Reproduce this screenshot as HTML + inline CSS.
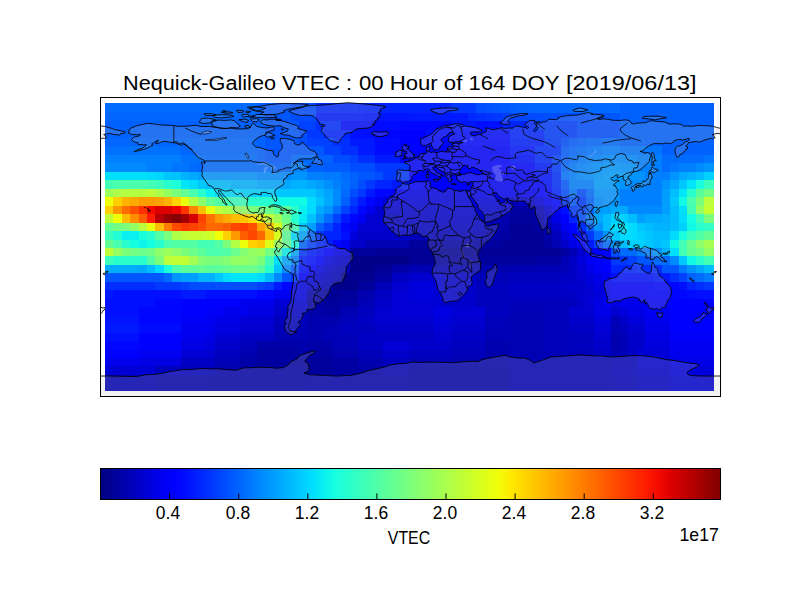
<!DOCTYPE html>
<html><head><meta charset="utf-8"><style>
html,body{margin:0;padding:0;background:#fff;width:800px;height:600px;overflow:hidden;}
body{position:relative;font-family:"Liberation Sans",sans-serif;color:#000;}
svg{position:absolute;left:0;top:0;}
.t{position:absolute;white-space:nowrap;line-height:1;}
.ti{position:absolute;top:72.5px;font-size:20px;line-height:1;white-space:pre;transform-origin:0 0;}
.tl{position:absolute;top:504.5px;font-size:17.65px;line-height:1;white-space:nowrap;transform:translateX(-50%) scaleX(0.99);}
#vtec{left:409px;top:528.5px;font-size:18.3px;transform:translateX(-50%) scaleX(0.868);}
#exp{right:81.2px;top:526.7px;font-size:17.7px;}
</style></head><body>
<svg width="800" height="600" viewBox="0 0 800 600">
<defs>
<linearGradient id="jet" x1="0" y1="0" x2="1" y2="0">
<stop offset="0.00" stop-color="#000080"/>
<stop offset="0.02" stop-color="#000097"/>
<stop offset="0.04" stop-color="#0000ae"/>
<stop offset="0.06" stop-color="#0000c5"/>
<stop offset="0.08" stop-color="#0000dc"/>
<stop offset="0.10" stop-color="#0000f3"/>
<stop offset="0.12" stop-color="#0000ff"/>
<stop offset="0.14" stop-color="#000fff"/>
<stop offset="0.16" stop-color="#0024ff"/>
<stop offset="0.18" stop-color="#0038ff"/>
<stop offset="0.20" stop-color="#004dff"/>
<stop offset="0.22" stop-color="#0061ff"/>
<stop offset="0.24" stop-color="#0075ff"/>
<stop offset="0.26" stop-color="#008aff"/>
<stop offset="0.28" stop-color="#009eff"/>
<stop offset="0.30" stop-color="#00b2ff"/>
<stop offset="0.32" stop-color="#00c7ff"/>
<stop offset="0.34" stop-color="#00dbff"/>
<stop offset="0.36" stop-color="#08f0ef"/>
<stop offset="0.38" stop-color="#19ffde"/>
<stop offset="0.40" stop-color="#29ffce"/>
<stop offset="0.42" stop-color="#3affbd"/>
<stop offset="0.44" stop-color="#4affad"/>
<stop offset="0.46" stop-color="#5aff9c"/>
<stop offset="0.48" stop-color="#6bff8c"/>
<stop offset="0.50" stop-color="#7bff7b"/>
<stop offset="0.52" stop-color="#8cff6b"/>
<stop offset="0.54" stop-color="#9cff5a"/>
<stop offset="0.56" stop-color="#adff4a"/>
<stop offset="0.58" stop-color="#bdff3a"/>
<stop offset="0.60" stop-color="#ceff29"/>
<stop offset="0.62" stop-color="#deff19"/>
<stop offset="0.64" stop-color="#efff08"/>
<stop offset="0.66" stop-color="#ffec00"/>
<stop offset="0.68" stop-color="#ffd900"/>
<stop offset="0.70" stop-color="#ffc600"/>
<stop offset="0.72" stop-color="#ffb300"/>
<stop offset="0.74" stop-color="#ffa100"/>
<stop offset="0.76" stop-color="#ff8e00"/>
<stop offset="0.78" stop-color="#ff7b00"/>
<stop offset="0.80" stop-color="#ff6800"/>
<stop offset="0.82" stop-color="#ff5500"/>
<stop offset="0.84" stop-color="#ff4200"/>
<stop offset="0.86" stop-color="#ff2f00"/>
<stop offset="0.88" stop-color="#ff1c00"/>
<stop offset="0.90" stop-color="#f30900"/>
<stop offset="0.92" stop-color="#dc0000"/>
<stop offset="0.94" stop-color="#c50000"/>
<stop offset="0.96" stop-color="#ae0000"/>
<stop offset="0.98" stop-color="#970000"/>
<stop offset="1.00" stop-color="#800000"/>
</linearGradient>
<clipPath id="ax"><rect x="100.5" y="97.5" width="620" height="299"/></clipPath>
</defs>
<g shape-rendering="crispEdges">
<rect x="104.85" y="102.80" width="151.92" height="9.85" fill="#006bff"/>
<rect x="256.77" y="102.80" width="8.44" height="9.85" fill="#0061ff"/>
<rect x="265.21" y="102.80" width="25.32" height="9.85" fill="#0057ff"/>
<rect x="290.53" y="102.80" width="25.32" height="9.85" fill="#004dff"/>
<rect x="315.85" y="102.80" width="42.20" height="9.85" fill="#0029ff"/>
<rect x="358.05" y="102.80" width="92.84" height="9.85" fill="#0024ff"/>
<rect x="450.89" y="102.80" width="25.32" height="9.85" fill="#0038ff"/>
<rect x="476.21" y="102.80" width="8.44" height="9.85" fill="#004dff"/>
<rect x="484.65" y="102.80" width="8.44" height="9.85" fill="#0051ff"/>
<rect x="493.09" y="102.80" width="8.44" height="9.85" fill="#0055ff"/>
<rect x="501.53" y="102.80" width="8.44" height="9.85" fill="#0059ff"/>
<rect x="509.97" y="102.80" width="8.44" height="9.85" fill="#005dff"/>
<rect x="518.41" y="102.80" width="8.44" height="9.85" fill="#0061ff"/>
<rect x="526.85" y="102.80" width="8.44" height="9.85" fill="#0063ff"/>
<rect x="535.29" y="102.80" width="8.44" height="9.85" fill="#0064ff"/>
<rect x="543.73" y="102.80" width="16.88" height="9.85" fill="#0065ff"/>
<rect x="560.61" y="102.80" width="8.44" height="9.85" fill="#0066ff"/>
<rect x="569.05" y="102.80" width="8.44" height="9.85" fill="#0067ff"/>
<rect x="577.49" y="102.80" width="8.44" height="9.85" fill="#0068ff"/>
<rect x="585.93" y="102.80" width="16.88" height="9.85" fill="#0069ff"/>
<rect x="602.81" y="102.80" width="8.44" height="9.85" fill="#006aff"/>
<rect x="611.25" y="102.80" width="8.44" height="9.85" fill="#006bff"/>
<rect x="619.69" y="102.80" width="94.38" height="9.85" fill="#0061ff"/>
<rect x="104.85" y="112.65" width="151.92" height="8.46" fill="#0066ff"/>
<rect x="256.77" y="112.65" width="8.44" height="8.46" fill="#0061ff"/>
<rect x="265.21" y="112.65" width="25.32" height="8.46" fill="#0057ff"/>
<rect x="290.53" y="112.65" width="25.32" height="8.46" fill="#004dff"/>
<rect x="315.85" y="112.65" width="50.64" height="8.46" fill="#0019ff"/>
<rect x="366.49" y="112.65" width="42.20" height="8.46" fill="#0014ff"/>
<rect x="408.69" y="112.65" width="59.08" height="8.46" fill="#0019ff"/>
<rect x="467.77" y="112.65" width="8.44" height="8.46" fill="#0029ff"/>
<rect x="476.21" y="112.65" width="8.44" height="8.46" fill="#002eff"/>
<rect x="484.65" y="112.65" width="8.44" height="8.46" fill="#0033ff"/>
<rect x="493.09" y="112.65" width="8.44" height="8.46" fill="#0038ff"/>
<rect x="501.53" y="112.65" width="8.44" height="8.46" fill="#003dff"/>
<rect x="509.97" y="112.65" width="8.44" height="8.46" fill="#0042ff"/>
<rect x="518.41" y="112.65" width="8.44" height="8.46" fill="#0047ff"/>
<rect x="526.85" y="112.65" width="8.44" height="8.46" fill="#0049ff"/>
<rect x="535.29" y="112.65" width="8.44" height="8.46" fill="#004bff"/>
<rect x="543.73" y="112.65" width="8.44" height="8.46" fill="#004cff"/>
<rect x="552.17" y="112.65" width="8.44" height="8.46" fill="#004dff"/>
<rect x="560.61" y="112.65" width="8.44" height="8.46" fill="#004fff"/>
<rect x="569.05" y="112.65" width="8.44" height="8.46" fill="#0050ff"/>
<rect x="577.49" y="112.65" width="8.44" height="8.46" fill="#0051ff"/>
<rect x="585.93" y="112.65" width="8.44" height="8.46" fill="#0053ff"/>
<rect x="594.37" y="112.65" width="8.44" height="8.46" fill="#0054ff"/>
<rect x="602.81" y="112.65" width="8.44" height="8.46" fill="#0055ff"/>
<rect x="611.25" y="112.65" width="8.44" height="8.46" fill="#0057ff"/>
<rect x="619.69" y="112.65" width="94.38" height="8.46" fill="#0061ff"/>
<rect x="104.85" y="121.11" width="160.36" height="8.46" fill="#0061ff"/>
<rect x="265.21" y="121.11" width="33.76" height="8.46" fill="#0057ff"/>
<rect x="298.97" y="121.11" width="16.88" height="8.46" fill="#0042ff"/>
<rect x="315.85" y="121.11" width="25.32" height="8.46" fill="#002eff"/>
<rect x="341.17" y="121.11" width="59.08" height="8.46" fill="#000aff"/>
<rect x="400.25" y="121.11" width="50.64" height="8.46" fill="#0005ff"/>
<rect x="450.89" y="121.11" width="25.32" height="8.46" fill="#0014ff"/>
<rect x="476.21" y="121.11" width="25.32" height="8.46" fill="#000fff"/>
<rect x="501.53" y="121.11" width="33.76" height="8.46" fill="#0024ff"/>
<rect x="535.29" y="121.11" width="42.20" height="8.46" fill="#003dff"/>
<rect x="577.49" y="121.11" width="42.20" height="8.46" fill="#004dff"/>
<rect x="619.69" y="121.11" width="94.38" height="8.46" fill="#0061ff"/>
<rect x="104.85" y="129.57" width="160.36" height="8.46" fill="#0061ff"/>
<rect x="265.21" y="129.57" width="33.76" height="8.46" fill="#0057ff"/>
<rect x="298.97" y="129.57" width="8.44" height="8.46" fill="#004dff"/>
<rect x="307.41" y="129.57" width="16.88" height="8.46" fill="#0038ff"/>
<rect x="324.29" y="129.57" width="25.32" height="8.46" fill="#0024ff"/>
<rect x="349.61" y="129.57" width="25.32" height="8.46" fill="#000fff"/>
<rect x="374.93" y="129.57" width="25.32" height="8.46" fill="#0005ff"/>
<rect x="400.25" y="129.57" width="25.32" height="8.46" fill="#0000ff"/>
<rect x="425.57" y="129.57" width="84.40" height="8.46" fill="#000aff"/>
<rect x="509.97" y="129.57" width="33.76" height="8.46" fill="#0024ff"/>
<rect x="543.73" y="129.57" width="33.76" height="8.46" fill="#003dff"/>
<rect x="577.49" y="129.57" width="42.20" height="8.46" fill="#004dff"/>
<rect x="619.69" y="129.57" width="94.38" height="8.46" fill="#0061ff"/>
<rect x="104.85" y="138.03" width="151.92" height="8.46" fill="#0066ff"/>
<rect x="256.77" y="138.03" width="8.44" height="8.46" fill="#0061ff"/>
<rect x="265.21" y="138.03" width="33.76" height="8.46" fill="#0057ff"/>
<rect x="298.97" y="138.03" width="8.44" height="8.46" fill="#004dff"/>
<rect x="307.41" y="138.03" width="25.32" height="8.46" fill="#0042ff"/>
<rect x="332.73" y="138.03" width="16.88" height="8.46" fill="#002eff"/>
<rect x="349.61" y="138.03" width="25.32" height="8.46" fill="#0019ff"/>
<rect x="374.93" y="138.03" width="25.32" height="8.46" fill="#000aff"/>
<rect x="400.25" y="138.03" width="25.32" height="8.46" fill="#0000ff"/>
<rect x="425.57" y="138.03" width="84.40" height="8.46" fill="#0005ff"/>
<rect x="509.97" y="138.03" width="33.76" height="8.46" fill="#001fff"/>
<rect x="543.73" y="138.03" width="16.88" height="8.46" fill="#0038ff"/>
<rect x="560.61" y="138.03" width="8.44" height="8.46" fill="#004dff"/>
<rect x="569.05" y="138.03" width="8.44" height="8.46" fill="#005aff"/>
<rect x="577.49" y="138.03" width="8.44" height="8.46" fill="#0060ff"/>
<rect x="585.93" y="138.03" width="16.88" height="8.46" fill="#0066ff"/>
<rect x="602.81" y="138.03" width="16.88" height="8.46" fill="#006dff"/>
<rect x="619.69" y="138.03" width="94.38" height="8.46" fill="#0061ff"/>
<rect x="104.85" y="146.49" width="75.96" height="8.46" fill="#0070ff"/>
<rect x="180.81" y="146.49" width="75.96" height="8.46" fill="#0066ff"/>
<rect x="256.77" y="146.49" width="8.44" height="8.46" fill="#0061ff"/>
<rect x="265.21" y="146.49" width="59.08" height="8.46" fill="#0057ff"/>
<rect x="324.29" y="146.49" width="16.88" height="8.46" fill="#0042ff"/>
<rect x="341.17" y="146.49" width="16.88" height="8.46" fill="#002eff"/>
<rect x="358.05" y="146.49" width="16.88" height="8.46" fill="#0019ff"/>
<rect x="374.93" y="146.49" width="25.32" height="8.46" fill="#000aff"/>
<rect x="400.25" y="146.49" width="109.72" height="8.46" fill="#0000ff"/>
<rect x="509.97" y="146.49" width="25.32" height="8.46" fill="#0014ff"/>
<rect x="535.29" y="146.49" width="25.32" height="8.46" fill="#002eff"/>
<rect x="560.61" y="146.49" width="8.44" height="8.46" fill="#005aff"/>
<rect x="569.05" y="146.49" width="8.44" height="8.46" fill="#0066ff"/>
<rect x="577.49" y="146.49" width="8.44" height="8.46" fill="#006dff"/>
<rect x="585.93" y="146.49" width="8.44" height="8.46" fill="#0073ff"/>
<rect x="594.37" y="146.49" width="8.44" height="8.46" fill="#0079ff"/>
<rect x="602.81" y="146.49" width="16.88" height="8.46" fill="#0080ff"/>
<rect x="619.69" y="146.49" width="42.20" height="8.46" fill="#0075ff"/>
<rect x="661.89" y="146.49" width="52.18" height="8.46" fill="#0061ff"/>
<rect x="104.85" y="154.95" width="75.96" height="8.46" fill="#0080ff"/>
<rect x="180.81" y="154.95" width="25.32" height="8.46" fill="#0070ff"/>
<rect x="206.13" y="154.95" width="50.64" height="8.46" fill="#006bff"/>
<rect x="256.77" y="154.95" width="8.44" height="8.46" fill="#0061ff"/>
<rect x="265.21" y="154.95" width="25.32" height="8.46" fill="#0057ff"/>
<rect x="290.53" y="154.95" width="25.32" height="8.46" fill="#006bff"/>
<rect x="315.85" y="154.95" width="16.88" height="8.46" fill="#0061ff"/>
<rect x="332.73" y="154.95" width="16.88" height="8.46" fill="#004dff"/>
<rect x="349.61" y="154.95" width="8.44" height="8.46" fill="#0042ff"/>
<rect x="358.05" y="154.95" width="16.88" height="8.46" fill="#002eff"/>
<rect x="374.93" y="154.95" width="25.32" height="8.46" fill="#0019ff"/>
<rect x="400.25" y="154.95" width="109.72" height="8.46" fill="#0000ff"/>
<rect x="509.97" y="154.95" width="25.32" height="8.46" fill="#000fff"/>
<rect x="535.29" y="154.95" width="16.88" height="8.46" fill="#0029ff"/>
<rect x="552.17" y="154.95" width="8.44" height="8.46" fill="#0042ff"/>
<rect x="560.61" y="154.95" width="8.44" height="8.46" fill="#0060ff"/>
<rect x="569.05" y="154.95" width="8.44" height="8.46" fill="#006dff"/>
<rect x="577.49" y="154.95" width="8.44" height="8.46" fill="#0079ff"/>
<rect x="585.93" y="154.95" width="8.44" height="8.46" fill="#0080ff"/>
<rect x="594.37" y="154.95" width="8.44" height="8.46" fill="#0086ff"/>
<rect x="602.81" y="154.95" width="16.88" height="8.46" fill="#008cff"/>
<rect x="619.69" y="154.95" width="16.88" height="8.46" fill="#008aff"/>
<rect x="636.57" y="154.95" width="25.32" height="8.46" fill="#0080ff"/>
<rect x="661.89" y="154.95" width="42.20" height="8.46" fill="#006bff"/>
<rect x="704.09" y="154.95" width="9.98" height="8.46" fill="#0075ff"/>
<rect x="104.85" y="163.41" width="42.20" height="8.46" fill="#008aff"/>
<rect x="147.05" y="163.41" width="25.32" height="8.46" fill="#0080ff"/>
<rect x="172.37" y="163.41" width="16.88" height="8.46" fill="#0075ff"/>
<rect x="189.25" y="163.41" width="8.44" height="8.46" fill="#006bff"/>
<rect x="197.69" y="163.41" width="8.44" height="8.46" fill="#0066ff"/>
<rect x="206.13" y="163.41" width="67.52" height="8.46" fill="#006bff"/>
<rect x="273.65" y="163.41" width="16.88" height="8.46" fill="#0061ff"/>
<rect x="290.53" y="163.41" width="16.88" height="8.46" fill="#0080ff"/>
<rect x="307.41" y="163.41" width="16.88" height="8.46" fill="#0061ff"/>
<rect x="324.29" y="163.41" width="25.32" height="8.46" fill="#005cff"/>
<rect x="349.61" y="163.41" width="25.32" height="8.46" fill="#004dff"/>
<rect x="374.93" y="163.41" width="33.76" height="8.46" fill="#0038ff"/>
<rect x="408.69" y="163.41" width="101.28" height="8.46" fill="#0000ff"/>
<rect x="509.97" y="163.41" width="25.32" height="8.46" fill="#0005ff"/>
<rect x="535.29" y="163.41" width="16.88" height="8.46" fill="#0019ff"/>
<rect x="552.17" y="163.41" width="8.44" height="8.46" fill="#0038ff"/>
<rect x="560.61" y="163.41" width="8.44" height="8.46" fill="#0066ff"/>
<rect x="569.05" y="163.41" width="8.44" height="8.46" fill="#0079ff"/>
<rect x="577.49" y="163.41" width="8.44" height="8.46" fill="#0086ff"/>
<rect x="585.93" y="163.41" width="8.44" height="8.46" fill="#008cff"/>
<rect x="594.37" y="163.41" width="8.44" height="8.46" fill="#0092ff"/>
<rect x="602.81" y="163.41" width="16.88" height="8.46" fill="#0099ff"/>
<rect x="619.69" y="163.41" width="16.88" height="8.46" fill="#0094ff"/>
<rect x="636.57" y="163.41" width="25.32" height="8.46" fill="#0080ff"/>
<rect x="661.89" y="163.41" width="8.44" height="8.46" fill="#006bff"/>
<rect x="670.33" y="163.41" width="8.44" height="8.46" fill="#0075ff"/>
<rect x="678.77" y="163.41" width="16.88" height="8.46" fill="#0080ff"/>
<rect x="695.65" y="163.41" width="8.44" height="8.46" fill="#008aff"/>
<rect x="704.09" y="163.41" width="9.98" height="8.46" fill="#0094ff"/>
<rect x="104.85" y="171.87" width="42.20" height="8.46" fill="#00e0fb"/>
<rect x="147.05" y="171.87" width="8.44" height="8.46" fill="#00dbff"/>
<rect x="155.49" y="171.87" width="8.44" height="8.46" fill="#00d6ff"/>
<rect x="163.93" y="171.87" width="8.44" height="8.46" fill="#00c7ff"/>
<rect x="172.37" y="171.87" width="8.44" height="8.46" fill="#00c2ff"/>
<rect x="180.81" y="171.87" width="8.44" height="8.46" fill="#00b2ff"/>
<rect x="189.25" y="171.87" width="8.44" height="8.46" fill="#00a8ff"/>
<rect x="197.69" y="171.87" width="8.44" height="8.46" fill="#009eff"/>
<rect x="206.13" y="171.87" width="50.64" height="8.46" fill="#0094ff"/>
<rect x="256.77" y="171.87" width="33.76" height="8.46" fill="#008aff"/>
<rect x="290.53" y="171.87" width="16.88" height="8.46" fill="#0094ff"/>
<rect x="307.41" y="171.87" width="16.88" height="8.46" fill="#0080ff"/>
<rect x="324.29" y="171.87" width="16.88" height="8.46" fill="#007aff"/>
<rect x="341.17" y="171.87" width="8.44" height="8.46" fill="#006bff"/>
<rect x="349.61" y="171.87" width="8.44" height="8.46" fill="#0061ff"/>
<rect x="358.05" y="171.87" width="16.88" height="8.46" fill="#0057ff"/>
<rect x="374.93" y="171.87" width="8.44" height="8.46" fill="#004dff"/>
<rect x="383.37" y="171.87" width="25.32" height="8.46" fill="#0038ff"/>
<rect x="408.69" y="171.87" width="126.60" height="8.46" fill="#0000ff"/>
<rect x="535.29" y="171.87" width="16.88" height="8.46" fill="#000fff"/>
<rect x="552.17" y="171.87" width="8.44" height="8.46" fill="#002eff"/>
<rect x="560.61" y="171.87" width="8.44" height="8.46" fill="#0073ff"/>
<rect x="569.05" y="171.87" width="8.44" height="8.46" fill="#0080ff"/>
<rect x="577.49" y="171.87" width="8.44" height="8.46" fill="#008cff"/>
<rect x="585.93" y="171.87" width="8.44" height="8.46" fill="#0092ff"/>
<rect x="594.37" y="171.87" width="8.44" height="8.46" fill="#0099ff"/>
<rect x="602.81" y="171.87" width="16.88" height="8.46" fill="#009fff"/>
<rect x="619.69" y="171.87" width="8.44" height="8.46" fill="#009eff"/>
<rect x="628.13" y="171.87" width="16.88" height="8.46" fill="#0094ff"/>
<rect x="645.01" y="171.87" width="25.32" height="8.46" fill="#0080ff"/>
<rect x="670.33" y="171.87" width="8.44" height="8.46" fill="#0094ff"/>
<rect x="678.77" y="171.87" width="8.44" height="8.46" fill="#00a8ff"/>
<rect x="687.21" y="171.87" width="8.44" height="8.46" fill="#00b2ff"/>
<rect x="695.65" y="171.87" width="8.44" height="8.46" fill="#00bdff"/>
<rect x="704.09" y="171.87" width="9.98" height="8.46" fill="#00d1ff"/>
<rect x="104.85" y="180.33" width="8.44" height="8.46" fill="#42ffb5"/>
<rect x="113.29" y="180.33" width="33.76" height="8.46" fill="#4affad"/>
<rect x="147.05" y="180.33" width="8.44" height="8.46" fill="#42ffb5"/>
<rect x="155.49" y="180.33" width="8.44" height="8.46" fill="#3affbd"/>
<rect x="163.93" y="180.33" width="8.44" height="8.46" fill="#29ffce"/>
<rect x="172.37" y="180.33" width="8.44" height="8.46" fill="#1dffda"/>
<rect x="180.81" y="180.33" width="8.44" height="8.46" fill="#00e5f7"/>
<rect x="189.25" y="180.33" width="8.44" height="8.46" fill="#00dbff"/>
<rect x="197.69" y="180.33" width="8.44" height="8.46" fill="#00c7ff"/>
<rect x="206.13" y="180.33" width="25.32" height="8.46" fill="#00bdff"/>
<rect x="231.45" y="180.33" width="25.32" height="8.46" fill="#00b2ff"/>
<rect x="256.77" y="180.33" width="33.76" height="8.46" fill="#00a8ff"/>
<rect x="290.53" y="180.33" width="16.88" height="8.46" fill="#00b2ff"/>
<rect x="307.41" y="180.33" width="8.44" height="8.46" fill="#00a8ff"/>
<rect x="315.85" y="180.33" width="8.44" height="8.46" fill="#009eff"/>
<rect x="324.29" y="180.33" width="8.44" height="8.46" fill="#008fff"/>
<rect x="332.73" y="180.33" width="8.44" height="8.46" fill="#0080ff"/>
<rect x="341.17" y="180.33" width="8.44" height="8.46" fill="#0070ff"/>
<rect x="349.61" y="180.33" width="8.44" height="8.46" fill="#0061ff"/>
<rect x="358.05" y="180.33" width="8.44" height="8.46" fill="#004dff"/>
<rect x="366.49" y="180.33" width="8.44" height="8.46" fill="#0038ff"/>
<rect x="374.93" y="180.33" width="16.88" height="8.46" fill="#0024ff"/>
<rect x="391.81" y="180.33" width="16.88" height="8.46" fill="#0019ff"/>
<rect x="408.69" y="180.33" width="67.52" height="8.46" fill="#0000ff"/>
<rect x="476.21" y="180.33" width="33.76" height="8.46" fill="#0000f9"/>
<rect x="509.97" y="180.33" width="33.76" height="8.46" fill="#0000ff"/>
<rect x="543.73" y="180.33" width="8.44" height="8.46" fill="#000fff"/>
<rect x="552.17" y="180.33" width="8.44" height="8.46" fill="#002eff"/>
<rect x="560.61" y="180.33" width="8.44" height="8.46" fill="#0057ff"/>
<rect x="569.05" y="180.33" width="25.32" height="8.46" fill="#0080ff"/>
<rect x="594.37" y="180.33" width="25.32" height="8.46" fill="#009eff"/>
<rect x="619.69" y="180.33" width="8.44" height="8.46" fill="#0094ff"/>
<rect x="628.13" y="180.33" width="16.88" height="8.46" fill="#008aff"/>
<rect x="645.01" y="180.33" width="16.88" height="8.46" fill="#0080ff"/>
<rect x="661.89" y="180.33" width="8.44" height="8.46" fill="#0094ff"/>
<rect x="670.33" y="180.33" width="8.44" height="8.46" fill="#00a8ff"/>
<rect x="678.77" y="180.33" width="8.44" height="8.46" fill="#00c7ff"/>
<rect x="687.21" y="180.33" width="8.44" height="8.46" fill="#00e5f7"/>
<rect x="695.65" y="180.33" width="8.44" height="8.46" fill="#19ffde"/>
<rect x="704.09" y="180.33" width="9.98" height="8.46" fill="#3affbd"/>
<rect x="104.85" y="188.79" width="8.44" height="8.46" fill="#9cff5a"/>
<rect x="113.29" y="188.79" width="8.44" height="8.46" fill="#adff4a"/>
<rect x="121.73" y="188.79" width="25.32" height="8.46" fill="#b5ff42"/>
<rect x="147.05" y="188.79" width="8.44" height="8.46" fill="#bdff3a"/>
<rect x="155.49" y="188.79" width="8.44" height="8.46" fill="#adff4a"/>
<rect x="163.93" y="188.79" width="8.44" height="8.46" fill="#94ff63"/>
<rect x="172.37" y="188.79" width="8.44" height="8.46" fill="#7bff7b"/>
<rect x="180.81" y="188.79" width="8.44" height="8.46" fill="#63ff94"/>
<rect x="189.25" y="188.79" width="8.44" height="8.46" fill="#4affad"/>
<rect x="197.69" y="188.79" width="8.44" height="8.46" fill="#29ffce"/>
<rect x="206.13" y="188.79" width="8.44" height="8.46" fill="#08f0ef"/>
<rect x="214.57" y="188.79" width="25.32" height="8.46" fill="#00dbff"/>
<rect x="239.89" y="188.79" width="33.76" height="8.46" fill="#00d1ff"/>
<rect x="273.65" y="188.79" width="42.20" height="8.46" fill="#00c7ff"/>
<rect x="315.85" y="188.79" width="8.44" height="8.46" fill="#00b2ff"/>
<rect x="324.29" y="188.79" width="8.44" height="8.46" fill="#00a3ff"/>
<rect x="332.73" y="188.79" width="8.44" height="8.46" fill="#008aff"/>
<rect x="341.17" y="188.79" width="8.44" height="8.46" fill="#006bff"/>
<rect x="349.61" y="188.79" width="8.44" height="8.46" fill="#004dff"/>
<rect x="358.05" y="188.79" width="8.44" height="8.46" fill="#0038ff"/>
<rect x="366.49" y="188.79" width="8.44" height="8.46" fill="#0019ff"/>
<rect x="374.93" y="188.79" width="16.88" height="8.46" fill="#0005ff"/>
<rect x="391.81" y="188.79" width="16.88" height="8.46" fill="#0000f3"/>
<rect x="408.69" y="188.79" width="67.52" height="8.46" fill="#0000e8"/>
<rect x="476.21" y="188.79" width="59.08" height="8.46" fill="#0000f3"/>
<rect x="535.29" y="188.79" width="8.44" height="8.46" fill="#0000ff"/>
<rect x="543.73" y="188.79" width="8.44" height="8.46" fill="#0005ff"/>
<rect x="552.17" y="188.79" width="8.44" height="8.46" fill="#0024ff"/>
<rect x="560.61" y="188.79" width="8.44" height="8.46" fill="#004dff"/>
<rect x="569.05" y="188.79" width="8.44" height="8.46" fill="#0075ff"/>
<rect x="577.49" y="188.79" width="8.44" height="8.46" fill="#004dff"/>
<rect x="585.93" y="188.79" width="8.44" height="8.46" fill="#006bff"/>
<rect x="594.37" y="188.79" width="25.32" height="8.46" fill="#0094ff"/>
<rect x="619.69" y="188.79" width="42.20" height="8.46" fill="#0080ff"/>
<rect x="661.89" y="188.79" width="8.44" height="8.46" fill="#009eff"/>
<rect x="670.33" y="188.79" width="8.44" height="8.46" fill="#00bdff"/>
<rect x="678.77" y="188.79" width="8.44" height="8.46" fill="#00e5f7"/>
<rect x="687.21" y="188.79" width="8.44" height="8.46" fill="#29ffce"/>
<rect x="695.65" y="188.79" width="8.44" height="8.46" fill="#5aff9c"/>
<rect x="704.09" y="188.79" width="9.98" height="8.46" fill="#73ff84"/>
<rect x="104.85" y="197.25" width="8.44" height="8.46" fill="#efff08"/>
<rect x="113.29" y="197.25" width="8.44" height="8.46" fill="#ffd000"/>
<rect x="121.73" y="197.25" width="8.44" height="8.46" fill="#ffb300"/>
<rect x="130.17" y="197.25" width="8.44" height="8.46" fill="#ffaa00"/>
<rect x="138.61" y="197.25" width="16.88" height="8.46" fill="#ff9c00"/>
<rect x="155.49" y="197.25" width="8.44" height="8.46" fill="#ffa100"/>
<rect x="163.93" y="197.25" width="8.44" height="8.46" fill="#ffb300"/>
<rect x="172.37" y="197.25" width="8.44" height="8.46" fill="#ffd400"/>
<rect x="180.81" y="197.25" width="8.44" height="8.46" fill="#eaff0c"/>
<rect x="189.25" y="197.25" width="8.44" height="8.46" fill="#b5ff42"/>
<rect x="197.69" y="197.25" width="8.44" height="8.46" fill="#8cff6b"/>
<rect x="206.13" y="197.25" width="8.44" height="8.46" fill="#63ff94"/>
<rect x="214.57" y="197.25" width="8.44" height="8.46" fill="#52ffa5"/>
<rect x="223.01" y="197.25" width="8.44" height="8.46" fill="#42ffb5"/>
<rect x="231.45" y="197.25" width="16.88" height="8.46" fill="#3affbd"/>
<rect x="248.33" y="197.25" width="25.32" height="8.46" fill="#29ffce"/>
<rect x="273.65" y="197.25" width="33.76" height="8.46" fill="#10fae6"/>
<rect x="307.41" y="197.25" width="8.44" height="8.46" fill="#00dbff"/>
<rect x="315.85" y="197.25" width="8.44" height="8.46" fill="#00c2ff"/>
<rect x="324.29" y="197.25" width="8.44" height="8.46" fill="#00a8ff"/>
<rect x="332.73" y="197.25" width="8.44" height="8.46" fill="#008aff"/>
<rect x="341.17" y="197.25" width="8.44" height="8.46" fill="#0061ff"/>
<rect x="349.61" y="197.25" width="8.44" height="8.46" fill="#0038ff"/>
<rect x="358.05" y="197.25" width="8.44" height="8.46" fill="#0019ff"/>
<rect x="366.49" y="197.25" width="8.44" height="8.46" fill="#0005ff"/>
<rect x="374.93" y="197.25" width="8.44" height="8.46" fill="#0000f3"/>
<rect x="383.37" y="197.25" width="126.60" height="8.46" fill="#0000dc"/>
<rect x="509.97" y="197.25" width="8.44" height="8.46" fill="#0000b9"/>
<rect x="518.41" y="197.25" width="16.88" height="8.46" fill="#0000c5"/>
<rect x="535.29" y="197.25" width="8.44" height="8.46" fill="#0000dc"/>
<rect x="543.73" y="197.25" width="8.44" height="8.46" fill="#0000f3"/>
<rect x="552.17" y="197.25" width="8.44" height="8.46" fill="#0005ff"/>
<rect x="560.61" y="197.25" width="8.44" height="8.46" fill="#002eff"/>
<rect x="569.05" y="197.25" width="8.44" height="8.46" fill="#0057ff"/>
<rect x="577.49" y="197.25" width="8.44" height="8.46" fill="#0038ff"/>
<rect x="585.93" y="197.25" width="8.44" height="8.46" fill="#0061ff"/>
<rect x="594.37" y="197.25" width="8.44" height="8.46" fill="#008aff"/>
<rect x="602.81" y="197.25" width="16.88" height="8.46" fill="#0094ff"/>
<rect x="619.69" y="197.25" width="42.20" height="8.46" fill="#0080ff"/>
<rect x="661.89" y="197.25" width="8.44" height="8.46" fill="#009eff"/>
<rect x="670.33" y="197.25" width="8.44" height="8.46" fill="#00c7ff"/>
<rect x="678.77" y="197.25" width="8.44" height="8.46" fill="#10fae6"/>
<rect x="687.21" y="197.25" width="8.44" height="8.46" fill="#4affad"/>
<rect x="695.65" y="197.25" width="8.44" height="8.46" fill="#7bff7b"/>
<rect x="704.09" y="197.25" width="9.98" height="8.46" fill="#bdff3a"/>
<rect x="104.85" y="205.71" width="8.44" height="8.46" fill="#ffd000"/>
<rect x="113.29" y="205.71" width="8.44" height="8.46" fill="#ff9700"/>
<rect x="121.73" y="205.71" width="8.44" height="8.46" fill="#ff6d00"/>
<rect x="130.17" y="205.71" width="8.44" height="8.46" fill="#ff5000"/>
<rect x="138.61" y="205.71" width="8.44" height="8.46" fill="#ff2f00"/>
<rect x="147.05" y="205.71" width="8.44" height="8.46" fill="#f30900"/>
<rect x="155.49" y="205.71" width="16.88" height="8.46" fill="#dc0000"/>
<rect x="172.37" y="205.71" width="8.44" height="8.46" fill="#ee0500"/>
<rect x="180.81" y="205.71" width="8.44" height="8.46" fill="#ff3400"/>
<rect x="189.25" y="205.71" width="8.44" height="8.46" fill="#ff8400"/>
<rect x="197.69" y="205.71" width="8.44" height="8.46" fill="#ffbd00"/>
<rect x="206.13" y="205.71" width="8.44" height="8.46" fill="#eaff0c"/>
<rect x="214.57" y="205.71" width="8.44" height="8.46" fill="#bdff3a"/>
<rect x="223.01" y="205.71" width="8.44" height="8.46" fill="#adff4a"/>
<rect x="231.45" y="205.71" width="8.44" height="8.46" fill="#9cff5a"/>
<rect x="239.89" y="205.71" width="8.44" height="8.46" fill="#94ff63"/>
<rect x="248.33" y="205.71" width="8.44" height="8.46" fill="#7bff7b"/>
<rect x="256.77" y="205.71" width="8.44" height="8.46" fill="#73ff84"/>
<rect x="265.21" y="205.71" width="8.44" height="8.46" fill="#6bff8c"/>
<rect x="273.65" y="205.71" width="8.44" height="8.46" fill="#52ffa5"/>
<rect x="282.09" y="205.71" width="8.44" height="8.46" fill="#5aff9c"/>
<rect x="290.53" y="205.71" width="8.44" height="8.46" fill="#29ffce"/>
<rect x="298.97" y="205.71" width="8.44" height="8.46" fill="#08f0ef"/>
<rect x="307.41" y="205.71" width="8.44" height="8.46" fill="#00dbff"/>
<rect x="315.85" y="205.71" width="8.44" height="8.46" fill="#00a8ff"/>
<rect x="324.29" y="205.71" width="8.44" height="8.46" fill="#0094ff"/>
<rect x="332.73" y="205.71" width="8.44" height="8.46" fill="#006bff"/>
<rect x="341.17" y="205.71" width="8.44" height="8.46" fill="#0042ff"/>
<rect x="349.61" y="205.71" width="8.44" height="8.46" fill="#0024ff"/>
<rect x="358.05" y="205.71" width="8.44" height="8.46" fill="#0005ff"/>
<rect x="366.49" y="205.71" width="8.44" height="8.46" fill="#0000ee"/>
<rect x="374.93" y="205.71" width="135.04" height="8.46" fill="#0000d1"/>
<rect x="509.97" y="205.71" width="25.32" height="8.46" fill="#0000a2"/>
<rect x="535.29" y="205.71" width="8.44" height="8.46" fill="#0000b9"/>
<rect x="543.73" y="205.71" width="8.44" height="8.46" fill="#0000d1"/>
<rect x="552.17" y="205.71" width="8.44" height="8.46" fill="#0000f3"/>
<rect x="560.61" y="205.71" width="8.44" height="8.46" fill="#000fff"/>
<rect x="569.05" y="205.71" width="8.44" height="8.46" fill="#0038ff"/>
<rect x="577.49" y="205.71" width="8.44" height="8.46" fill="#0042ff"/>
<rect x="585.93" y="205.71" width="8.44" height="8.46" fill="#0061ff"/>
<rect x="594.37" y="205.71" width="16.88" height="8.46" fill="#009eff"/>
<rect x="611.25" y="205.71" width="16.88" height="8.46" fill="#00a8ff"/>
<rect x="628.13" y="205.71" width="33.76" height="8.46" fill="#008aff"/>
<rect x="661.89" y="205.71" width="8.44" height="8.46" fill="#009eff"/>
<rect x="670.33" y="205.71" width="8.44" height="8.46" fill="#00bdff"/>
<rect x="678.77" y="205.71" width="8.44" height="8.46" fill="#00e0fb"/>
<rect x="687.21" y="205.71" width="8.44" height="8.46" fill="#42ffb5"/>
<rect x="695.65" y="205.71" width="8.44" height="8.46" fill="#94ff63"/>
<rect x="704.09" y="205.71" width="9.98" height="8.46" fill="#c5ff31"/>
<rect x="104.85" y="214.17" width="8.44" height="8.46" fill="#bdff3a"/>
<rect x="113.29" y="214.17" width="8.44" height="8.46" fill="#efff08"/>
<rect x="121.73" y="214.17" width="8.44" height="8.46" fill="#ffbd00"/>
<rect x="130.17" y="214.17" width="8.44" height="8.46" fill="#ff8e00"/>
<rect x="138.61" y="214.17" width="8.44" height="8.46" fill="#ff5e00"/>
<rect x="147.05" y="214.17" width="8.44" height="8.46" fill="#ff1c00"/>
<rect x="155.49" y="214.17" width="8.44" height="8.46" fill="#b90000"/>
<rect x="163.93" y="214.17" width="8.44" height="8.46" fill="#970000"/>
<rect x="172.37" y="214.17" width="8.44" height="8.46" fill="#850000"/>
<rect x="180.81" y="214.17" width="8.44" height="8.46" fill="#a20000"/>
<rect x="189.25" y="214.17" width="8.44" height="8.46" fill="#d60000"/>
<rect x="197.69" y="214.17" width="8.44" height="8.46" fill="#ff4200"/>
<rect x="206.13" y="214.17" width="8.44" height="8.46" fill="#ff7100"/>
<rect x="214.57" y="214.17" width="8.44" height="8.46" fill="#ff9700"/>
<rect x="223.01" y="214.17" width="8.44" height="8.46" fill="#ffaa00"/>
<rect x="231.45" y="214.17" width="8.44" height="8.46" fill="#ffbd00"/>
<rect x="239.89" y="214.17" width="8.44" height="8.46" fill="#ffc600"/>
<rect x="248.33" y="214.17" width="8.44" height="8.46" fill="#ffd900"/>
<rect x="256.77" y="214.17" width="8.44" height="8.46" fill="#efff08"/>
<rect x="265.21" y="214.17" width="8.44" height="8.46" fill="#bdff3a"/>
<rect x="273.65" y="214.17" width="8.44" height="8.46" fill="#9cff5a"/>
<rect x="282.09" y="214.17" width="8.44" height="8.46" fill="#6bff8c"/>
<rect x="290.53" y="214.17" width="8.44" height="8.46" fill="#29ffce"/>
<rect x="298.97" y="214.17" width="8.44" height="8.46" fill="#04ebf3"/>
<rect x="307.41" y="214.17" width="8.44" height="8.46" fill="#00c2ff"/>
<rect x="315.85" y="214.17" width="8.44" height="8.46" fill="#0094ff"/>
<rect x="324.29" y="214.17" width="8.44" height="8.46" fill="#006bff"/>
<rect x="332.73" y="214.17" width="8.44" height="8.46" fill="#0042ff"/>
<rect x="341.17" y="214.17" width="8.44" height="8.46" fill="#0019ff"/>
<rect x="349.61" y="214.17" width="8.44" height="8.46" fill="#0005ff"/>
<rect x="358.05" y="214.17" width="8.44" height="8.46" fill="#0000f3"/>
<rect x="366.49" y="214.17" width="16.88" height="8.46" fill="#0000d1"/>
<rect x="383.37" y="214.17" width="16.88" height="8.46" fill="#0000bf"/>
<rect x="400.25" y="214.17" width="84.40" height="8.46" fill="#0000cb"/>
<rect x="484.65" y="214.17" width="8.44" height="8.46" fill="#0000b9"/>
<rect x="493.09" y="214.17" width="8.44" height="8.46" fill="#0000b4"/>
<rect x="501.53" y="214.17" width="8.44" height="8.46" fill="#0000ae"/>
<rect x="509.97" y="214.17" width="25.32" height="8.46" fill="#00009c"/>
<rect x="535.29" y="214.17" width="8.44" height="8.46" fill="#0000ae"/>
<rect x="543.73" y="214.17" width="8.44" height="8.46" fill="#0000c5"/>
<rect x="552.17" y="214.17" width="8.44" height="8.46" fill="#0000e8"/>
<rect x="560.61" y="214.17" width="8.44" height="8.46" fill="#0000ff"/>
<rect x="569.05" y="214.17" width="8.44" height="8.46" fill="#0024ff"/>
<rect x="577.49" y="214.17" width="8.44" height="8.46" fill="#004dff"/>
<rect x="585.93" y="214.17" width="8.44" height="8.46" fill="#0080ff"/>
<rect x="594.37" y="214.17" width="8.44" height="8.46" fill="#00a8ff"/>
<rect x="602.81" y="214.17" width="8.44" height="8.46" fill="#00bdff"/>
<rect x="611.25" y="214.17" width="16.88" height="8.46" fill="#00d1ff"/>
<rect x="628.13" y="214.17" width="8.44" height="8.46" fill="#00bdff"/>
<rect x="636.57" y="214.17" width="8.44" height="8.46" fill="#009eff"/>
<rect x="645.01" y="214.17" width="16.88" height="8.46" fill="#00a8ff"/>
<rect x="661.89" y="214.17" width="8.44" height="8.46" fill="#00adff"/>
<rect x="670.33" y="214.17" width="8.44" height="8.46" fill="#00bdff"/>
<rect x="678.77" y="214.17" width="8.44" height="8.46" fill="#00dbff"/>
<rect x="687.21" y="214.17" width="8.44" height="8.46" fill="#15ffe2"/>
<rect x="695.65" y="214.17" width="8.44" height="8.46" fill="#42ffb5"/>
<rect x="704.09" y="214.17" width="9.98" height="8.46" fill="#7bff7b"/>
<rect x="104.85" y="222.63" width="8.44" height="8.46" fill="#63ff94"/>
<rect x="113.29" y="222.63" width="8.44" height="8.46" fill="#73ff84"/>
<rect x="121.73" y="222.63" width="8.44" height="8.46" fill="#7bff7b"/>
<rect x="130.17" y="222.63" width="8.44" height="8.46" fill="#94ff63"/>
<rect x="138.61" y="222.63" width="8.44" height="8.46" fill="#bdff3a"/>
<rect x="147.05" y="222.63" width="8.44" height="8.46" fill="#eaff0c"/>
<rect x="155.49" y="222.63" width="8.44" height="8.46" fill="#ffbd00"/>
<rect x="163.93" y="222.63" width="8.44" height="8.46" fill="#ff7b00"/>
<rect x="172.37" y="222.63" width="8.44" height="8.46" fill="#ff4c00"/>
<rect x="180.81" y="222.63" width="8.44" height="8.46" fill="#ff3900"/>
<rect x="189.25" y="222.63" width="8.44" height="8.46" fill="#ff4200"/>
<rect x="197.69" y="222.63" width="8.44" height="8.46" fill="#ff5000"/>
<rect x="206.13" y="222.63" width="16.88" height="8.46" fill="#ff6800"/>
<rect x="223.01" y="222.63" width="8.44" height="8.46" fill="#ff5e00"/>
<rect x="231.45" y="222.63" width="8.44" height="8.46" fill="#ff4700"/>
<rect x="239.89" y="222.63" width="8.44" height="8.46" fill="#ff3d00"/>
<rect x="248.33" y="222.63" width="8.44" height="8.46" fill="#ff5000"/>
<rect x="256.77" y="222.63" width="8.44" height="8.46" fill="#ffa100"/>
<rect x="265.21" y="222.63" width="8.44" height="8.46" fill="#ffc600"/>
<rect x="273.65" y="222.63" width="8.44" height="8.46" fill="#d6ff21"/>
<rect x="282.09" y="222.63" width="8.44" height="8.46" fill="#7bff7b"/>
<rect x="290.53" y="222.63" width="8.44" height="8.46" fill="#42ffb5"/>
<rect x="298.97" y="222.63" width="8.44" height="8.46" fill="#00c7ff"/>
<rect x="307.41" y="222.63" width="8.44" height="8.46" fill="#009eff"/>
<rect x="315.85" y="222.63" width="8.44" height="8.46" fill="#0061ff"/>
<rect x="324.29" y="222.63" width="8.44" height="8.46" fill="#0042ff"/>
<rect x="332.73" y="222.63" width="8.44" height="8.46" fill="#0024ff"/>
<rect x="341.17" y="222.63" width="8.44" height="8.46" fill="#0005ff"/>
<rect x="349.61" y="222.63" width="8.44" height="8.46" fill="#0000f3"/>
<rect x="358.05" y="222.63" width="50.64" height="8.46" fill="#0000d1"/>
<rect x="408.69" y="222.63" width="75.96" height="8.46" fill="#0000c5"/>
<rect x="484.65" y="222.63" width="8.44" height="8.46" fill="#0000b4"/>
<rect x="493.09" y="222.63" width="8.44" height="8.46" fill="#0000ae"/>
<rect x="501.53" y="222.63" width="8.44" height="8.46" fill="#0000a8"/>
<rect x="509.97" y="222.63" width="25.32" height="8.46" fill="#000097"/>
<rect x="535.29" y="222.63" width="8.44" height="8.46" fill="#0000a2"/>
<rect x="543.73" y="222.63" width="8.44" height="8.46" fill="#0000b9"/>
<rect x="552.17" y="222.63" width="8.44" height="8.46" fill="#0000d1"/>
<rect x="560.61" y="222.63" width="8.44" height="8.46" fill="#0000f3"/>
<rect x="569.05" y="222.63" width="8.44" height="8.46" fill="#0005ff"/>
<rect x="577.49" y="222.63" width="8.44" height="8.46" fill="#002eff"/>
<rect x="585.93" y="222.63" width="8.44" height="8.46" fill="#0061ff"/>
<rect x="594.37" y="222.63" width="8.44" height="8.46" fill="#0094ff"/>
<rect x="602.81" y="222.63" width="8.44" height="8.46" fill="#00bdff"/>
<rect x="611.25" y="222.63" width="8.44" height="8.46" fill="#00dbff"/>
<rect x="619.69" y="222.63" width="8.44" height="8.46" fill="#00e5f7"/>
<rect x="628.13" y="222.63" width="8.44" height="8.46" fill="#00dbff"/>
<rect x="636.57" y="222.63" width="8.44" height="8.46" fill="#00c7ff"/>
<rect x="645.01" y="222.63" width="8.44" height="8.46" fill="#00bdff"/>
<rect x="653.45" y="222.63" width="16.88" height="8.46" fill="#00b2ff"/>
<rect x="670.33" y="222.63" width="8.44" height="8.46" fill="#00bdff"/>
<rect x="678.77" y="222.63" width="8.44" height="8.46" fill="#00d1ff"/>
<rect x="687.21" y="222.63" width="8.44" height="8.46" fill="#10fae6"/>
<rect x="695.65" y="222.63" width="8.44" height="8.46" fill="#29ffce"/>
<rect x="704.09" y="222.63" width="9.98" height="8.46" fill="#31ffc5"/>
<rect x="104.85" y="231.09" width="8.44" height="8.46" fill="#3affbd"/>
<rect x="113.29" y="231.09" width="8.44" height="8.46" fill="#21ffd6"/>
<rect x="121.73" y="231.09" width="16.88" height="8.46" fill="#08f0ef"/>
<rect x="138.61" y="231.09" width="8.44" height="8.46" fill="#19ffde"/>
<rect x="147.05" y="231.09" width="8.44" height="8.46" fill="#29ffce"/>
<rect x="155.49" y="231.09" width="8.44" height="8.46" fill="#52ffa5"/>
<rect x="163.93" y="231.09" width="8.44" height="8.46" fill="#7bff7b"/>
<rect x="172.37" y="231.09" width="8.44" height="8.46" fill="#adff4a"/>
<rect x="180.81" y="231.09" width="8.44" height="8.46" fill="#bdff3a"/>
<rect x="189.25" y="231.09" width="16.88" height="8.46" fill="#c5ff31"/>
<rect x="206.13" y="231.09" width="8.44" height="8.46" fill="#ceff29"/>
<rect x="214.57" y="231.09" width="8.44" height="8.46" fill="#efff08"/>
<rect x="223.01" y="231.09" width="8.44" height="8.46" fill="#ffd000"/>
<rect x="231.45" y="231.09" width="8.44" height="8.46" fill="#ff9700"/>
<rect x="239.89" y="231.09" width="8.44" height="8.46" fill="#ff5e00"/>
<rect x="248.33" y="231.09" width="8.44" height="8.46" fill="#ff4700"/>
<rect x="256.77" y="231.09" width="8.44" height="8.46" fill="#ff6800"/>
<rect x="265.21" y="231.09" width="8.44" height="8.46" fill="#ffbd00"/>
<rect x="273.65" y="231.09" width="8.44" height="8.46" fill="#d6ff21"/>
<rect x="282.09" y="231.09" width="8.44" height="8.46" fill="#5aff9c"/>
<rect x="290.53" y="231.09" width="8.44" height="8.46" fill="#00dbff"/>
<rect x="298.97" y="231.09" width="8.44" height="8.46" fill="#00a5ff"/>
<rect x="307.41" y="231.09" width="8.44" height="8.46" fill="#0066ff"/>
<rect x="315.85" y="231.09" width="8.44" height="8.46" fill="#0034ff"/>
<rect x="324.29" y="231.09" width="16.88" height="8.46" fill="#0024ff"/>
<rect x="341.17" y="231.09" width="8.44" height="8.46" fill="#000fff"/>
<rect x="349.61" y="231.09" width="8.44" height="8.46" fill="#0000dc"/>
<rect x="358.05" y="231.09" width="50.64" height="8.46" fill="#0000cb"/>
<rect x="408.69" y="231.09" width="75.96" height="8.46" fill="#0000b9"/>
<rect x="484.65" y="231.09" width="8.44" height="8.46" fill="#0000ae"/>
<rect x="493.09" y="231.09" width="8.44" height="8.46" fill="#0000a8"/>
<rect x="501.53" y="231.09" width="8.44" height="8.46" fill="#0000a2"/>
<rect x="509.97" y="231.09" width="33.76" height="8.46" fill="#000097"/>
<rect x="543.73" y="231.09" width="8.44" height="8.46" fill="#0000a8"/>
<rect x="552.17" y="231.09" width="8.44" height="8.46" fill="#0000b9"/>
<rect x="560.61" y="231.09" width="8.44" height="8.46" fill="#0000dc"/>
<rect x="569.05" y="231.09" width="8.44" height="8.46" fill="#0000ff"/>
<rect x="577.49" y="231.09" width="8.44" height="8.46" fill="#000fff"/>
<rect x="585.93" y="231.09" width="8.44" height="8.46" fill="#0038ff"/>
<rect x="594.37" y="231.09" width="8.44" height="8.46" fill="#006bff"/>
<rect x="602.81" y="231.09" width="8.44" height="8.46" fill="#0094ff"/>
<rect x="611.25" y="231.09" width="8.44" height="8.46" fill="#00c7ff"/>
<rect x="619.69" y="231.09" width="16.88" height="8.46" fill="#00dbff"/>
<rect x="636.57" y="231.09" width="8.44" height="8.46" fill="#00d1ff"/>
<rect x="645.01" y="231.09" width="8.44" height="8.46" fill="#00c7ff"/>
<rect x="653.45" y="231.09" width="16.88" height="8.46" fill="#00bdff"/>
<rect x="670.33" y="231.09" width="8.44" height="8.46" fill="#00dbff"/>
<rect x="678.77" y="231.09" width="8.44" height="8.46" fill="#19ffde"/>
<rect x="687.21" y="231.09" width="8.44" height="8.46" fill="#3affbd"/>
<rect x="695.65" y="231.09" width="8.44" height="8.46" fill="#52ffa5"/>
<rect x="704.09" y="231.09" width="9.98" height="8.46" fill="#63ff94"/>
<rect x="104.85" y="239.55" width="8.44" height="8.46" fill="#63ff94"/>
<rect x="113.29" y="239.55" width="8.44" height="8.46" fill="#4affad"/>
<rect x="121.73" y="239.55" width="8.44" height="8.46" fill="#29ffce"/>
<rect x="130.17" y="239.55" width="8.44" height="8.46" fill="#15ffe2"/>
<rect x="138.61" y="239.55" width="8.44" height="8.46" fill="#0cf5ea"/>
<rect x="147.05" y="239.55" width="8.44" height="8.46" fill="#15ffe2"/>
<rect x="155.49" y="239.55" width="8.44" height="8.46" fill="#29ffce"/>
<rect x="163.93" y="239.55" width="8.44" height="8.46" fill="#4affad"/>
<rect x="172.37" y="239.55" width="25.32" height="8.46" fill="#52ffa5"/>
<rect x="197.69" y="239.55" width="16.88" height="8.46" fill="#42ffb5"/>
<rect x="214.57" y="239.55" width="8.44" height="8.46" fill="#52ffa5"/>
<rect x="223.01" y="239.55" width="8.44" height="8.46" fill="#7bff7b"/>
<rect x="231.45" y="239.55" width="8.44" height="8.46" fill="#b5ff42"/>
<rect x="239.89" y="239.55" width="8.44" height="8.46" fill="#efff08"/>
<rect x="248.33" y="239.55" width="8.44" height="8.46" fill="#ffd000"/>
<rect x="256.77" y="239.55" width="8.44" height="8.46" fill="#ffc600"/>
<rect x="265.21" y="239.55" width="8.44" height="8.46" fill="#deff19"/>
<rect x="273.65" y="239.55" width="8.44" height="8.46" fill="#9cff5a"/>
<rect x="282.09" y="239.55" width="8.44" height="8.46" fill="#63ff94"/>
<rect x="290.53" y="239.55" width="8.44" height="8.46" fill="#19ffde"/>
<rect x="298.97" y="239.55" width="8.44" height="8.46" fill="#0066ff"/>
<rect x="307.41" y="239.55" width="8.44" height="8.46" fill="#0041ff"/>
<rect x="315.85" y="239.55" width="8.44" height="8.46" fill="#0028ff"/>
<rect x="324.29" y="239.55" width="8.44" height="8.46" fill="#001cff"/>
<rect x="332.73" y="239.55" width="8.44" height="8.46" fill="#0005ff"/>
<rect x="341.17" y="239.55" width="8.44" height="8.46" fill="#0000f3"/>
<rect x="349.61" y="239.55" width="16.88" height="8.46" fill="#0000cb"/>
<rect x="366.49" y="239.55" width="42.20" height="8.46" fill="#0000b4"/>
<rect x="408.69" y="239.55" width="16.88" height="8.46" fill="#00009c"/>
<rect x="425.57" y="239.55" width="8.44" height="8.46" fill="#0000a2"/>
<rect x="434.01" y="239.55" width="50.64" height="8.46" fill="#0000a8"/>
<rect x="484.65" y="239.55" width="8.44" height="8.46" fill="#0000a2"/>
<rect x="493.09" y="239.55" width="8.44" height="8.46" fill="#00009c"/>
<rect x="501.53" y="239.55" width="42.20" height="8.46" fill="#000097"/>
<rect x="543.73" y="239.55" width="8.44" height="8.46" fill="#0000a2"/>
<rect x="552.17" y="239.55" width="8.44" height="8.46" fill="#0000b4"/>
<rect x="560.61" y="239.55" width="8.44" height="8.46" fill="#0000cb"/>
<rect x="569.05" y="239.55" width="8.44" height="8.46" fill="#0000e8"/>
<rect x="577.49" y="239.55" width="8.44" height="8.46" fill="#0000ff"/>
<rect x="585.93" y="239.55" width="8.44" height="8.46" fill="#0019ff"/>
<rect x="594.37" y="239.55" width="8.44" height="8.46" fill="#0042ff"/>
<rect x="602.81" y="239.55" width="8.44" height="8.46" fill="#006bff"/>
<rect x="611.25" y="239.55" width="8.44" height="8.46" fill="#0094ff"/>
<rect x="619.69" y="239.55" width="8.44" height="8.46" fill="#00bdff"/>
<rect x="628.13" y="239.55" width="16.88" height="8.46" fill="#00d1ff"/>
<rect x="645.01" y="239.55" width="8.44" height="8.46" fill="#00c7ff"/>
<rect x="653.45" y="239.55" width="8.44" height="8.46" fill="#00bdff"/>
<rect x="661.89" y="239.55" width="8.44" height="8.46" fill="#00c7ff"/>
<rect x="670.33" y="239.55" width="8.44" height="8.46" fill="#10fae6"/>
<rect x="678.77" y="239.55" width="8.44" height="8.46" fill="#42ffb5"/>
<rect x="687.21" y="239.55" width="8.44" height="8.46" fill="#6bff8c"/>
<rect x="695.65" y="239.55" width="8.44" height="8.46" fill="#8cff6b"/>
<rect x="704.09" y="239.55" width="9.98" height="8.46" fill="#a5ff52"/>
<rect x="104.85" y="248.01" width="8.44" height="8.46" fill="#bdff3a"/>
<rect x="113.29" y="248.01" width="8.44" height="8.46" fill="#94ff63"/>
<rect x="121.73" y="248.01" width="8.44" height="8.46" fill="#7bff7b"/>
<rect x="130.17" y="248.01" width="8.44" height="8.46" fill="#73ff84"/>
<rect x="138.61" y="248.01" width="8.44" height="8.46" fill="#6bff8c"/>
<rect x="147.05" y="248.01" width="8.44" height="8.46" fill="#73ff84"/>
<rect x="155.49" y="248.01" width="8.44" height="8.46" fill="#8cff6b"/>
<rect x="163.93" y="248.01" width="8.44" height="8.46" fill="#9cff5a"/>
<rect x="172.37" y="248.01" width="8.44" height="8.46" fill="#8cff6b"/>
<rect x="180.81" y="248.01" width="8.44" height="8.46" fill="#7bff7b"/>
<rect x="189.25" y="248.01" width="8.44" height="8.46" fill="#6bff8c"/>
<rect x="197.69" y="248.01" width="8.44" height="8.46" fill="#5aff9c"/>
<rect x="206.13" y="248.01" width="16.88" height="8.46" fill="#4affad"/>
<rect x="223.01" y="248.01" width="8.44" height="8.46" fill="#52ffa5"/>
<rect x="231.45" y="248.01" width="8.44" height="8.46" fill="#6bff8c"/>
<rect x="239.89" y="248.01" width="8.44" height="8.46" fill="#84ff73"/>
<rect x="248.33" y="248.01" width="8.44" height="8.46" fill="#94ff63"/>
<rect x="256.77" y="248.01" width="8.44" height="8.46" fill="#9cff5a"/>
<rect x="265.21" y="248.01" width="8.44" height="8.46" fill="#73ff84"/>
<rect x="273.65" y="248.01" width="8.44" height="8.46" fill="#52ffa5"/>
<rect x="282.09" y="248.01" width="8.44" height="8.46" fill="#08f0ef"/>
<rect x="290.53" y="248.01" width="8.44" height="8.46" fill="#00a8ff"/>
<rect x="298.97" y="248.01" width="8.44" height="8.46" fill="#0034ff"/>
<rect x="307.41" y="248.01" width="8.44" height="8.46" fill="#001cff"/>
<rect x="315.85" y="248.01" width="8.44" height="8.46" fill="#000fff"/>
<rect x="324.29" y="248.01" width="8.44" height="8.46" fill="#0000ff"/>
<rect x="332.73" y="248.01" width="8.44" height="8.46" fill="#0000ea"/>
<rect x="341.17" y="248.01" width="8.44" height="8.46" fill="#0000dd"/>
<rect x="349.61" y="248.01" width="25.32" height="8.46" fill="#00009c"/>
<rect x="374.93" y="248.01" width="185.68" height="8.46" fill="#000097"/>
<rect x="560.61" y="248.01" width="8.44" height="8.46" fill="#0000a2"/>
<rect x="569.05" y="248.01" width="8.44" height="8.46" fill="#0000b4"/>
<rect x="577.49" y="248.01" width="8.44" height="8.46" fill="#0000d1"/>
<rect x="585.93" y="248.01" width="8.44" height="8.46" fill="#0000ee"/>
<rect x="594.37" y="248.01" width="8.44" height="8.46" fill="#0000ff"/>
<rect x="602.81" y="248.01" width="8.44" height="8.46" fill="#0005ff"/>
<rect x="611.25" y="248.01" width="8.44" height="8.46" fill="#004dff"/>
<rect x="619.69" y="248.01" width="16.88" height="8.46" fill="#006bff"/>
<rect x="636.57" y="248.01" width="16.88" height="8.46" fill="#0080ff"/>
<rect x="653.45" y="248.01" width="8.44" height="8.46" fill="#0094ff"/>
<rect x="661.89" y="248.01" width="8.44" height="8.46" fill="#00b2ff"/>
<rect x="670.33" y="248.01" width="8.44" height="8.46" fill="#00e0fb"/>
<rect x="678.77" y="248.01" width="8.44" height="8.46" fill="#42ffb5"/>
<rect x="687.21" y="248.01" width="8.44" height="8.46" fill="#63ff94"/>
<rect x="695.65" y="248.01" width="8.44" height="8.46" fill="#73ff84"/>
<rect x="704.09" y="248.01" width="9.98" height="8.46" fill="#94ff63"/>
<rect x="104.85" y="256.47" width="8.44" height="8.46" fill="#3affbd"/>
<rect x="113.29" y="256.47" width="33.76" height="8.46" fill="#29ffce"/>
<rect x="147.05" y="256.47" width="8.44" height="8.46" fill="#52ffa5"/>
<rect x="155.49" y="256.47" width="8.44" height="8.46" fill="#7bff7b"/>
<rect x="163.93" y="256.47" width="8.44" height="8.46" fill="#bdff3a"/>
<rect x="172.37" y="256.47" width="16.88" height="8.46" fill="#c1ff35"/>
<rect x="189.25" y="256.47" width="8.44" height="8.46" fill="#a5ff52"/>
<rect x="197.69" y="256.47" width="8.44" height="8.46" fill="#84ff73"/>
<rect x="206.13" y="256.47" width="16.88" height="8.46" fill="#7bff7b"/>
<rect x="223.01" y="256.47" width="8.44" height="8.46" fill="#84ff73"/>
<rect x="231.45" y="256.47" width="16.88" height="8.46" fill="#94ff63"/>
<rect x="248.33" y="256.47" width="8.44" height="8.46" fill="#8cff6b"/>
<rect x="256.77" y="256.47" width="8.44" height="8.46" fill="#7bff7b"/>
<rect x="265.21" y="256.47" width="8.44" height="8.46" fill="#42ffb5"/>
<rect x="273.65" y="256.47" width="8.44" height="8.46" fill="#00e0fb"/>
<rect x="282.09" y="256.47" width="8.44" height="8.46" fill="#00a8ff"/>
<rect x="290.53" y="256.47" width="8.44" height="8.46" fill="#0080ff"/>
<rect x="298.97" y="256.47" width="8.44" height="8.46" fill="#001cff"/>
<rect x="307.41" y="256.47" width="8.44" height="8.46" fill="#000fff"/>
<rect x="315.85" y="256.47" width="8.44" height="8.46" fill="#0000ff"/>
<rect x="324.29" y="256.47" width="8.44" height="8.46" fill="#0000e3"/>
<rect x="332.73" y="256.47" width="8.44" height="8.46" fill="#0000d6"/>
<rect x="341.17" y="256.47" width="8.44" height="8.46" fill="#0000cb"/>
<rect x="349.61" y="256.47" width="59.08" height="8.46" fill="#00008b"/>
<rect x="408.69" y="256.47" width="25.32" height="8.46" fill="#000097"/>
<rect x="434.01" y="256.47" width="42.20" height="8.46" fill="#0000a2"/>
<rect x="476.21" y="256.47" width="59.08" height="8.46" fill="#00009c"/>
<rect x="535.29" y="256.47" width="25.32" height="8.46" fill="#0000a2"/>
<rect x="560.61" y="256.47" width="8.44" height="8.46" fill="#0000b4"/>
<rect x="569.05" y="256.47" width="8.44" height="8.46" fill="#0000c5"/>
<rect x="577.49" y="256.47" width="8.44" height="8.46" fill="#0000dc"/>
<rect x="585.93" y="256.47" width="8.44" height="8.46" fill="#0000f3"/>
<rect x="594.37" y="256.47" width="8.44" height="8.46" fill="#0000ff"/>
<rect x="602.81" y="256.47" width="8.44" height="8.46" fill="#0005ff"/>
<rect x="611.25" y="256.47" width="16.88" height="8.46" fill="#0038ff"/>
<rect x="628.13" y="256.47" width="8.44" height="8.46" fill="#0042ff"/>
<rect x="636.57" y="256.47" width="16.88" height="8.46" fill="#0057ff"/>
<rect x="653.45" y="256.47" width="16.88" height="8.46" fill="#006bff"/>
<rect x="670.33" y="256.47" width="8.44" height="8.46" fill="#008aff"/>
<rect x="678.77" y="256.47" width="8.44" height="8.46" fill="#00c7ff"/>
<rect x="687.21" y="256.47" width="8.44" height="8.46" fill="#10fae6"/>
<rect x="695.65" y="256.47" width="8.44" height="8.46" fill="#29ffce"/>
<rect x="704.09" y="256.47" width="9.98" height="8.46" fill="#42ffb5"/>
<rect x="104.85" y="264.93" width="33.76" height="8.46" fill="#00adff"/>
<rect x="138.61" y="264.93" width="8.44" height="8.46" fill="#00a8ff"/>
<rect x="147.05" y="264.93" width="8.44" height="8.46" fill="#00bdff"/>
<rect x="155.49" y="264.93" width="8.44" height="8.46" fill="#00dbff"/>
<rect x="163.93" y="264.93" width="8.44" height="8.46" fill="#1dffda"/>
<rect x="172.37" y="264.93" width="8.44" height="8.46" fill="#4affad"/>
<rect x="180.81" y="264.93" width="16.88" height="8.46" fill="#5aff9c"/>
<rect x="197.69" y="264.93" width="8.44" height="8.46" fill="#63ff94"/>
<rect x="206.13" y="264.93" width="16.88" height="8.46" fill="#5aff9c"/>
<rect x="223.01" y="264.93" width="8.44" height="8.46" fill="#63ff94"/>
<rect x="231.45" y="264.93" width="25.32" height="8.46" fill="#6bff8c"/>
<rect x="256.77" y="264.93" width="8.44" height="8.46" fill="#5aff9c"/>
<rect x="265.21" y="264.93" width="8.44" height="8.46" fill="#29ffce"/>
<rect x="273.65" y="264.93" width="8.44" height="8.46" fill="#00c7ff"/>
<rect x="282.09" y="264.93" width="8.44" height="8.46" fill="#008aff"/>
<rect x="290.53" y="264.93" width="8.44" height="8.46" fill="#0057ff"/>
<rect x="298.97" y="264.93" width="8.44" height="8.46" fill="#000fff"/>
<rect x="307.41" y="264.93" width="8.44" height="8.46" fill="#0000ff"/>
<rect x="315.85" y="264.93" width="8.44" height="8.46" fill="#0000e3"/>
<rect x="324.29" y="264.93" width="8.44" height="8.46" fill="#0000d1"/>
<rect x="332.73" y="264.93" width="8.44" height="8.46" fill="#0000c4"/>
<rect x="341.17" y="264.93" width="8.44" height="8.46" fill="#0000b8"/>
<rect x="349.61" y="264.93" width="25.32" height="8.46" fill="#00008b"/>
<rect x="374.93" y="264.93" width="16.88" height="8.46" fill="#000097"/>
<rect x="391.81" y="264.93" width="16.88" height="8.46" fill="#0000a8"/>
<rect x="408.69" y="264.93" width="67.52" height="8.46" fill="#0000b4"/>
<rect x="476.21" y="264.93" width="33.76" height="8.46" fill="#0000ae"/>
<rect x="509.97" y="264.93" width="50.64" height="8.46" fill="#0000b4"/>
<rect x="560.61" y="264.93" width="8.44" height="8.46" fill="#0000b9"/>
<rect x="569.05" y="264.93" width="8.44" height="8.46" fill="#0000c5"/>
<rect x="577.49" y="264.93" width="8.44" height="8.46" fill="#0000d6"/>
<rect x="585.93" y="264.93" width="8.44" height="8.46" fill="#0000e8"/>
<rect x="594.37" y="264.93" width="8.44" height="8.46" fill="#0000f9"/>
<rect x="602.81" y="264.93" width="8.44" height="8.46" fill="#0000ff"/>
<rect x="611.25" y="264.93" width="25.32" height="8.46" fill="#0024ff"/>
<rect x="636.57" y="264.93" width="25.32" height="8.46" fill="#002eff"/>
<rect x="661.89" y="264.93" width="16.88" height="8.46" fill="#0057ff"/>
<rect x="678.77" y="264.93" width="8.44" height="8.46" fill="#007aff"/>
<rect x="687.21" y="264.93" width="8.44" height="8.46" fill="#0094ff"/>
<rect x="695.65" y="264.93" width="8.44" height="8.46" fill="#00a8ff"/>
<rect x="704.09" y="264.93" width="9.98" height="8.46" fill="#00bdff"/>
<rect x="104.85" y="273.39" width="59.08" height="8.46" fill="#0057ff"/>
<rect x="163.93" y="273.39" width="8.44" height="8.46" fill="#006bff"/>
<rect x="172.37" y="273.39" width="8.44" height="8.46" fill="#0094ff"/>
<rect x="180.81" y="273.39" width="16.88" height="8.46" fill="#009eff"/>
<rect x="197.69" y="273.39" width="16.88" height="8.46" fill="#00b2ff"/>
<rect x="214.57" y="273.39" width="8.44" height="8.46" fill="#00c7ff"/>
<rect x="223.01" y="273.39" width="8.44" height="8.46" fill="#00dbff"/>
<rect x="231.45" y="273.39" width="25.32" height="8.46" fill="#00e5f7"/>
<rect x="256.77" y="273.39" width="8.44" height="8.46" fill="#00dbff"/>
<rect x="265.21" y="273.39" width="8.44" height="8.46" fill="#00bdff"/>
<rect x="273.65" y="273.39" width="8.44" height="8.46" fill="#008aff"/>
<rect x="282.09" y="273.39" width="8.44" height="8.46" fill="#0057ff"/>
<rect x="290.53" y="273.39" width="8.44" height="8.46" fill="#0038ff"/>
<rect x="298.97" y="273.39" width="8.44" height="8.46" fill="#0000ff"/>
<rect x="307.41" y="273.39" width="8.44" height="8.46" fill="#0000e3"/>
<rect x="315.85" y="273.39" width="8.44" height="8.46" fill="#0000d1"/>
<rect x="324.29" y="273.39" width="8.44" height="8.46" fill="#0000c4"/>
<rect x="332.73" y="273.39" width="8.44" height="8.46" fill="#0000b8"/>
<rect x="341.17" y="273.39" width="8.44" height="8.46" fill="#00008b"/>
<rect x="349.61" y="273.39" width="25.32" height="8.46" fill="#000091"/>
<rect x="374.93" y="273.39" width="16.88" height="8.46" fill="#0000a2"/>
<rect x="391.81" y="273.39" width="16.88" height="8.46" fill="#0000c5"/>
<rect x="408.69" y="273.39" width="25.32" height="8.46" fill="#0000d1"/>
<rect x="434.01" y="273.39" width="8.44" height="8.46" fill="#0000d6"/>
<rect x="442.45" y="273.39" width="33.76" height="8.46" fill="#0000cb"/>
<rect x="476.21" y="273.39" width="33.76" height="8.46" fill="#0000b9"/>
<rect x="509.97" y="273.39" width="50.64" height="8.46" fill="#0000bf"/>
<rect x="560.61" y="273.39" width="16.88" height="8.46" fill="#0000c5"/>
<rect x="577.49" y="273.39" width="8.44" height="8.46" fill="#0000d1"/>
<rect x="585.93" y="273.39" width="8.44" height="8.46" fill="#0000dc"/>
<rect x="594.37" y="273.39" width="8.44" height="8.46" fill="#0000e8"/>
<rect x="602.81" y="273.39" width="8.44" height="8.46" fill="#0000f3"/>
<rect x="611.25" y="273.39" width="42.20" height="8.46" fill="#000fff"/>
<rect x="653.45" y="273.39" width="16.88" height="8.46" fill="#0019ff"/>
<rect x="670.33" y="273.39" width="8.44" height="8.46" fill="#002eff"/>
<rect x="678.77" y="273.39" width="8.44" height="8.46" fill="#0042ff"/>
<rect x="687.21" y="273.39" width="8.44" height="8.46" fill="#0061ff"/>
<rect x="695.65" y="273.39" width="8.44" height="8.46" fill="#006bff"/>
<rect x="704.09" y="273.39" width="9.98" height="8.46" fill="#007aff"/>
<rect x="104.85" y="281.85" width="50.64" height="8.46" fill="#002eff"/>
<rect x="155.49" y="281.85" width="25.32" height="8.46" fill="#0038ff"/>
<rect x="180.81" y="281.85" width="8.44" height="8.46" fill="#0042ff"/>
<rect x="189.25" y="281.85" width="67.52" height="8.46" fill="#004dff"/>
<rect x="256.77" y="281.85" width="8.44" height="8.46" fill="#0042ff"/>
<rect x="265.21" y="281.85" width="8.44" height="8.46" fill="#0038ff"/>
<rect x="273.65" y="281.85" width="8.44" height="8.46" fill="#0019ff"/>
<rect x="282.09" y="281.85" width="8.44" height="8.46" fill="#0005ff"/>
<rect x="290.53" y="281.85" width="8.44" height="8.46" fill="#0000f3"/>
<rect x="298.97" y="281.85" width="8.44" height="8.46" fill="#0000e3"/>
<rect x="307.41" y="281.85" width="8.44" height="8.46" fill="#0000d6"/>
<rect x="315.85" y="281.85" width="8.44" height="8.46" fill="#0000c4"/>
<rect x="324.29" y="281.85" width="8.44" height="8.46" fill="#0000b8"/>
<rect x="332.73" y="281.85" width="25.32" height="8.46" fill="#00008b"/>
<rect x="358.05" y="281.85" width="16.88" height="8.46" fill="#00009c"/>
<rect x="374.93" y="281.85" width="16.88" height="8.46" fill="#0000b9"/>
<rect x="391.81" y="281.85" width="16.88" height="8.46" fill="#0000d1"/>
<rect x="408.69" y="281.85" width="25.32" height="8.46" fill="#0000dc"/>
<rect x="434.01" y="281.85" width="8.44" height="8.46" fill="#0000d6"/>
<rect x="442.45" y="281.85" width="33.76" height="8.46" fill="#0000cb"/>
<rect x="476.21" y="281.85" width="33.76" height="8.46" fill="#0000bf"/>
<rect x="509.97" y="281.85" width="50.64" height="8.46" fill="#0000c5"/>
<rect x="560.61" y="281.85" width="25.32" height="8.46" fill="#0000cb"/>
<rect x="585.93" y="281.85" width="8.44" height="8.46" fill="#0000d6"/>
<rect x="594.37" y="281.85" width="8.44" height="8.46" fill="#0000e2"/>
<rect x="602.81" y="281.85" width="8.44" height="8.46" fill="#0000ee"/>
<rect x="611.25" y="281.85" width="42.20" height="8.46" fill="#0000ff"/>
<rect x="653.45" y="281.85" width="25.32" height="8.46" fill="#0005ff"/>
<rect x="678.77" y="281.85" width="8.44" height="8.46" fill="#000fff"/>
<rect x="687.21" y="281.85" width="8.44" height="8.46" fill="#0024ff"/>
<rect x="695.65" y="281.85" width="8.44" height="8.46" fill="#002eff"/>
<rect x="704.09" y="281.85" width="9.98" height="8.46" fill="#0038ff"/>
<rect x="104.85" y="290.31" width="8.44" height="8.46" fill="#0019ff"/>
<rect x="113.29" y="290.31" width="67.52" height="8.46" fill="#000fff"/>
<rect x="180.81" y="290.31" width="25.32" height="8.46" fill="#0019ff"/>
<rect x="206.13" y="290.31" width="50.64" height="8.46" fill="#000fff"/>
<rect x="256.77" y="290.31" width="16.88" height="8.46" fill="#0005ff"/>
<rect x="273.65" y="290.31" width="16.88" height="8.46" fill="#0000f3"/>
<rect x="290.53" y="290.31" width="16.88" height="8.46" fill="#0000e8"/>
<rect x="307.41" y="290.31" width="16.88" height="8.46" fill="#0000ae"/>
<rect x="324.29" y="290.31" width="16.88" height="8.46" fill="#000097"/>
<rect x="341.17" y="290.31" width="16.88" height="8.46" fill="#00009c"/>
<rect x="358.05" y="290.31" width="16.88" height="8.46" fill="#0000ae"/>
<rect x="374.93" y="290.31" width="16.88" height="8.46" fill="#0000c5"/>
<rect x="391.81" y="290.31" width="16.88" height="8.46" fill="#0000d6"/>
<rect x="408.69" y="290.31" width="25.32" height="8.46" fill="#0000dc"/>
<rect x="434.01" y="290.31" width="8.44" height="8.46" fill="#0000d1"/>
<rect x="442.45" y="290.31" width="33.76" height="8.46" fill="#0000cb"/>
<rect x="476.21" y="290.31" width="33.76" height="8.46" fill="#0000bf"/>
<rect x="509.97" y="290.31" width="67.52" height="8.46" fill="#0000c5"/>
<rect x="577.49" y="290.31" width="16.88" height="8.46" fill="#0000d1"/>
<rect x="594.37" y="290.31" width="8.44" height="8.46" fill="#0000dc"/>
<rect x="602.81" y="290.31" width="8.44" height="8.46" fill="#0000e8"/>
<rect x="611.25" y="290.31" width="50.64" height="8.46" fill="#0000ff"/>
<rect x="661.89" y="290.31" width="8.44" height="8.46" fill="#0001ff"/>
<rect x="670.33" y="290.31" width="8.44" height="8.46" fill="#0004ff"/>
<rect x="678.77" y="290.31" width="8.44" height="8.46" fill="#0007ff"/>
<rect x="687.21" y="290.31" width="8.44" height="8.46" fill="#000aff"/>
<rect x="695.65" y="290.31" width="8.44" height="8.46" fill="#000dff"/>
<rect x="704.09" y="290.31" width="9.98" height="8.46" fill="#000fff"/>
<rect x="104.85" y="298.77" width="50.64" height="8.46" fill="#000fff"/>
<rect x="155.49" y="298.77" width="25.32" height="8.46" fill="#0005ff"/>
<rect x="180.81" y="298.77" width="59.08" height="8.46" fill="#0000ff"/>
<rect x="239.89" y="298.77" width="33.76" height="8.46" fill="#0000ee"/>
<rect x="273.65" y="298.77" width="33.76" height="8.46" fill="#0000d6"/>
<rect x="307.41" y="298.77" width="16.88" height="8.46" fill="#0000a2"/>
<rect x="324.29" y="298.77" width="16.88" height="8.46" fill="#00009c"/>
<rect x="341.17" y="298.77" width="16.88" height="8.46" fill="#0000a2"/>
<rect x="358.05" y="298.77" width="16.88" height="8.46" fill="#0000b9"/>
<rect x="374.93" y="298.77" width="16.88" height="8.46" fill="#0000cb"/>
<rect x="391.81" y="298.77" width="50.64" height="8.46" fill="#0000d6"/>
<rect x="442.45" y="298.77" width="33.76" height="8.46" fill="#0000cb"/>
<rect x="476.21" y="298.77" width="33.76" height="8.46" fill="#0000bf"/>
<rect x="509.97" y="298.77" width="59.08" height="8.46" fill="#0000b9"/>
<rect x="569.05" y="298.77" width="8.44" height="8.46" fill="#0000bf"/>
<rect x="577.49" y="298.77" width="8.44" height="8.46" fill="#0000cb"/>
<rect x="585.93" y="298.77" width="8.44" height="8.46" fill="#0000d6"/>
<rect x="594.37" y="298.77" width="8.44" height="8.46" fill="#0000e2"/>
<rect x="602.81" y="298.77" width="8.44" height="8.46" fill="#0000f3"/>
<rect x="611.25" y="298.77" width="8.44" height="8.46" fill="#0000e2"/>
<rect x="619.69" y="298.77" width="25.32" height="8.46" fill="#0000ee"/>
<rect x="645.01" y="298.77" width="25.32" height="8.46" fill="#0000f9"/>
<rect x="670.33" y="298.77" width="43.74" height="8.46" fill="#0000ff"/>
<rect x="104.85" y="307.23" width="33.76" height="8.46" fill="#000fff"/>
<rect x="138.61" y="307.23" width="42.20" height="8.46" fill="#0005ff"/>
<rect x="180.81" y="307.23" width="25.32" height="8.46" fill="#0000ff"/>
<rect x="206.13" y="307.23" width="16.88" height="8.46" fill="#0000f9"/>
<rect x="223.01" y="307.23" width="25.32" height="8.46" fill="#0000ee"/>
<rect x="248.33" y="307.23" width="25.32" height="8.46" fill="#0000e2"/>
<rect x="273.65" y="307.23" width="33.76" height="8.46" fill="#0000cb"/>
<rect x="307.41" y="307.23" width="16.88" height="8.46" fill="#0000a8"/>
<rect x="324.29" y="307.23" width="16.88" height="8.46" fill="#0000a2"/>
<rect x="341.17" y="307.23" width="16.88" height="8.46" fill="#0000b4"/>
<rect x="358.05" y="307.23" width="16.88" height="8.46" fill="#0000bf"/>
<rect x="374.93" y="307.23" width="16.88" height="8.46" fill="#0000d1"/>
<rect x="391.81" y="307.23" width="42.20" height="8.46" fill="#0000d6"/>
<rect x="434.01" y="307.23" width="16.88" height="8.46" fill="#0000e2"/>
<rect x="450.89" y="307.23" width="33.76" height="8.46" fill="#0000d6"/>
<rect x="484.65" y="307.23" width="25.32" height="8.46" fill="#0000bf"/>
<rect x="509.97" y="307.23" width="33.76" height="8.46" fill="#0000b4"/>
<rect x="543.73" y="307.23" width="25.32" height="8.46" fill="#0000b9"/>
<rect x="569.05" y="307.23" width="25.32" height="8.46" fill="#0000d1"/>
<rect x="594.37" y="307.23" width="16.88" height="8.46" fill="#0000e8"/>
<rect x="611.25" y="307.23" width="8.44" height="8.46" fill="#0000d1"/>
<rect x="619.69" y="307.23" width="8.44" height="8.46" fill="#0000dc"/>
<rect x="628.13" y="307.23" width="16.88" height="8.46" fill="#0000e8"/>
<rect x="645.01" y="307.23" width="25.32" height="8.46" fill="#0000f3"/>
<rect x="670.33" y="307.23" width="43.74" height="8.46" fill="#0000ff"/>
<rect x="104.85" y="315.69" width="33.76" height="8.46" fill="#0014ff"/>
<rect x="138.61" y="315.69" width="42.20" height="8.46" fill="#0005ff"/>
<rect x="180.81" y="315.69" width="25.32" height="8.46" fill="#0000f9"/>
<rect x="206.13" y="315.69" width="8.44" height="8.46" fill="#0000f3"/>
<rect x="214.57" y="315.69" width="25.32" height="8.46" fill="#0000e8"/>
<rect x="239.89" y="315.69" width="33.76" height="8.46" fill="#0000d6"/>
<rect x="273.65" y="315.69" width="33.76" height="8.46" fill="#0000bf"/>
<rect x="307.41" y="315.69" width="33.76" height="8.46" fill="#0000ae"/>
<rect x="341.17" y="315.69" width="16.88" height="8.46" fill="#0000b9"/>
<rect x="358.05" y="315.69" width="16.88" height="8.46" fill="#0000c5"/>
<rect x="374.93" y="315.69" width="59.08" height="8.46" fill="#0000d1"/>
<rect x="434.01" y="315.69" width="16.88" height="8.46" fill="#0000dc"/>
<rect x="450.89" y="315.69" width="33.76" height="8.46" fill="#0000d1"/>
<rect x="484.65" y="315.69" width="25.32" height="8.46" fill="#0000b9"/>
<rect x="509.97" y="315.69" width="33.76" height="8.46" fill="#0000b4"/>
<rect x="543.73" y="315.69" width="25.32" height="8.46" fill="#0000b9"/>
<rect x="569.05" y="315.69" width="25.32" height="8.46" fill="#0000cb"/>
<rect x="594.37" y="315.69" width="16.88" height="8.46" fill="#0000dc"/>
<rect x="611.25" y="315.69" width="8.44" height="8.46" fill="#0000b9"/>
<rect x="619.69" y="315.69" width="8.44" height="8.46" fill="#0000cb"/>
<rect x="628.13" y="315.69" width="16.88" height="8.46" fill="#0000dc"/>
<rect x="645.01" y="315.69" width="25.32" height="8.46" fill="#0000ee"/>
<rect x="670.33" y="315.69" width="43.74" height="8.46" fill="#0000ff"/>
<rect x="104.85" y="324.15" width="33.76" height="8.46" fill="#0019ff"/>
<rect x="138.61" y="324.15" width="42.20" height="8.46" fill="#000aff"/>
<rect x="180.81" y="324.15" width="25.32" height="8.46" fill="#0000f3"/>
<rect x="206.13" y="324.15" width="8.44" height="8.46" fill="#0000ee"/>
<rect x="214.57" y="324.15" width="25.32" height="8.46" fill="#0000e2"/>
<rect x="239.89" y="324.15" width="33.76" height="8.46" fill="#0000d1"/>
<rect x="273.65" y="324.15" width="33.76" height="8.46" fill="#0000b9"/>
<rect x="307.41" y="324.15" width="16.88" height="8.46" fill="#0000ae"/>
<rect x="324.29" y="324.15" width="16.88" height="8.46" fill="#0000b4"/>
<rect x="341.17" y="324.15" width="33.76" height="8.46" fill="#0000bf"/>
<rect x="374.93" y="324.15" width="59.08" height="8.46" fill="#0000cb"/>
<rect x="434.01" y="324.15" width="16.88" height="8.46" fill="#0000d6"/>
<rect x="450.89" y="324.15" width="33.76" height="8.46" fill="#0000cb"/>
<rect x="484.65" y="324.15" width="25.32" height="8.46" fill="#0000b9"/>
<rect x="509.97" y="324.15" width="33.76" height="8.46" fill="#0000b4"/>
<rect x="543.73" y="324.15" width="25.32" height="8.46" fill="#0000b9"/>
<rect x="569.05" y="324.15" width="25.32" height="8.46" fill="#0000c5"/>
<rect x="594.37" y="324.15" width="16.88" height="8.46" fill="#0000d6"/>
<rect x="611.25" y="324.15" width="8.44" height="8.46" fill="#0000b4"/>
<rect x="619.69" y="324.15" width="8.44" height="8.46" fill="#0000bf"/>
<rect x="628.13" y="324.15" width="16.88" height="8.46" fill="#0000d1"/>
<rect x="645.01" y="324.15" width="25.32" height="8.46" fill="#0000e8"/>
<rect x="670.33" y="324.15" width="43.74" height="8.46" fill="#0000ff"/>
<rect x="104.85" y="332.61" width="33.76" height="8.46" fill="#000fff"/>
<rect x="138.61" y="332.61" width="42.20" height="8.46" fill="#0000ff"/>
<rect x="180.81" y="332.61" width="25.32" height="8.46" fill="#0000ee"/>
<rect x="206.13" y="332.61" width="8.44" height="8.46" fill="#0000e8"/>
<rect x="214.57" y="332.61" width="25.32" height="8.46" fill="#0000d6"/>
<rect x="239.89" y="332.61" width="33.76" height="8.46" fill="#0000c5"/>
<rect x="273.65" y="332.61" width="33.76" height="8.46" fill="#0000b4"/>
<rect x="307.41" y="332.61" width="16.88" height="8.46" fill="#0000ae"/>
<rect x="324.29" y="332.61" width="33.76" height="8.46" fill="#0000b9"/>
<rect x="358.05" y="332.61" width="75.96" height="8.46" fill="#0000c5"/>
<rect x="434.01" y="332.61" width="16.88" height="8.46" fill="#0000d1"/>
<rect x="450.89" y="332.61" width="33.76" height="8.46" fill="#0000c5"/>
<rect x="484.65" y="332.61" width="59.08" height="8.46" fill="#0000b4"/>
<rect x="543.73" y="332.61" width="25.32" height="8.46" fill="#0000b9"/>
<rect x="569.05" y="332.61" width="25.32" height="8.46" fill="#0000bf"/>
<rect x="594.37" y="332.61" width="16.88" height="8.46" fill="#0000d1"/>
<rect x="611.25" y="332.61" width="8.44" height="8.46" fill="#0000ae"/>
<rect x="619.69" y="332.61" width="8.44" height="8.46" fill="#0000b9"/>
<rect x="628.13" y="332.61" width="16.88" height="8.46" fill="#0000cb"/>
<rect x="645.01" y="332.61" width="25.32" height="8.46" fill="#0000e2"/>
<rect x="670.33" y="332.61" width="43.74" height="8.46" fill="#0000f9"/>
<rect x="104.85" y="341.07" width="33.76" height="8.46" fill="#0005ff"/>
<rect x="138.61" y="341.07" width="42.20" height="8.46" fill="#0000ff"/>
<rect x="180.81" y="341.07" width="25.32" height="8.46" fill="#0000e2"/>
<rect x="206.13" y="341.07" width="8.44" height="8.46" fill="#0000dc"/>
<rect x="214.57" y="341.07" width="25.32" height="8.46" fill="#0000cb"/>
<rect x="239.89" y="341.07" width="16.88" height="8.46" fill="#0000b9"/>
<rect x="256.77" y="341.07" width="42.20" height="8.46" fill="#0000a8"/>
<rect x="298.97" y="341.07" width="8.44" height="8.46" fill="#0000ae"/>
<rect x="307.41" y="341.07" width="25.32" height="8.46" fill="#0000a8"/>
<rect x="332.73" y="341.07" width="25.32" height="8.46" fill="#0000b4"/>
<rect x="358.05" y="341.07" width="25.32" height="8.46" fill="#0000c5"/>
<rect x="383.37" y="341.07" width="25.32" height="8.46" fill="#0000d6"/>
<rect x="408.69" y="341.07" width="42.20" height="8.46" fill="#0000cb"/>
<rect x="450.89" y="341.07" width="33.76" height="8.46" fill="#0000bf"/>
<rect x="484.65" y="341.07" width="25.32" height="8.46" fill="#0000ae"/>
<rect x="509.97" y="341.07" width="33.76" height="8.46" fill="#0000b4"/>
<rect x="543.73" y="341.07" width="25.32" height="8.46" fill="#0000b9"/>
<rect x="569.05" y="341.07" width="25.32" height="8.46" fill="#0000bf"/>
<rect x="594.37" y="341.07" width="16.88" height="8.46" fill="#0000cb"/>
<rect x="611.25" y="341.07" width="8.44" height="8.46" fill="#0000ae"/>
<rect x="619.69" y="341.07" width="8.44" height="8.46" fill="#0000b9"/>
<rect x="628.13" y="341.07" width="16.88" height="8.46" fill="#0000cb"/>
<rect x="645.01" y="341.07" width="25.32" height="8.46" fill="#0000dc"/>
<rect x="670.33" y="341.07" width="43.74" height="8.46" fill="#0000f3"/>
<rect x="104.85" y="349.53" width="33.76" height="8.46" fill="#0000ff"/>
<rect x="138.61" y="349.53" width="42.20" height="8.46" fill="#0000f3"/>
<rect x="180.81" y="349.53" width="25.32" height="8.46" fill="#0000d6"/>
<rect x="206.13" y="349.53" width="8.44" height="8.46" fill="#0000d1"/>
<rect x="214.57" y="349.53" width="25.32" height="8.46" fill="#0000bf"/>
<rect x="239.89" y="349.53" width="16.88" height="8.46" fill="#0000ae"/>
<rect x="256.77" y="349.53" width="42.20" height="8.46" fill="#0000a2"/>
<rect x="298.97" y="349.53" width="8.44" height="8.46" fill="#0000a8"/>
<rect x="307.41" y="349.53" width="25.32" height="8.46" fill="#0000a2"/>
<rect x="332.73" y="349.53" width="25.32" height="8.46" fill="#0000ae"/>
<rect x="358.05" y="349.53" width="25.32" height="8.46" fill="#0000b9"/>
<rect x="383.37" y="349.53" width="25.32" height="8.46" fill="#0000cb"/>
<rect x="408.69" y="349.53" width="42.20" height="8.46" fill="#0000bf"/>
<rect x="450.89" y="349.53" width="33.76" height="8.46" fill="#0000b9"/>
<rect x="484.65" y="349.53" width="25.32" height="8.46" fill="#0000ae"/>
<rect x="509.97" y="349.53" width="33.76" height="8.46" fill="#0000b4"/>
<rect x="543.73" y="349.53" width="50.64" height="8.46" fill="#0000b9"/>
<rect x="594.37" y="349.53" width="16.88" height="8.46" fill="#0000c5"/>
<rect x="611.25" y="349.53" width="8.44" height="8.46" fill="#0000b4"/>
<rect x="619.69" y="349.53" width="8.44" height="8.46" fill="#0000b9"/>
<rect x="628.13" y="349.53" width="8.44" height="8.46" fill="#0000c5"/>
<rect x="636.57" y="349.53" width="33.76" height="8.46" fill="#0000d6"/>
<rect x="670.33" y="349.53" width="43.74" height="8.46" fill="#0000ee"/>
<rect x="104.85" y="357.99" width="33.76" height="8.46" fill="#0000ee"/>
<rect x="138.61" y="357.99" width="42.20" height="8.46" fill="#0000e2"/>
<rect x="180.81" y="357.99" width="33.76" height="8.46" fill="#0000c5"/>
<rect x="214.57" y="357.99" width="25.32" height="8.46" fill="#0000b4"/>
<rect x="239.89" y="357.99" width="16.88" height="8.46" fill="#0000a8"/>
<rect x="256.77" y="357.99" width="42.20" height="8.46" fill="#0000a0"/>
<rect x="298.97" y="357.99" width="8.44" height="8.46" fill="#0000a2"/>
<rect x="307.41" y="357.99" width="25.32" height="8.46" fill="#00009c"/>
<rect x="332.73" y="357.99" width="25.32" height="8.46" fill="#0000a2"/>
<rect x="358.05" y="357.99" width="25.32" height="8.46" fill="#0000ae"/>
<rect x="383.37" y="357.99" width="25.32" height="8.46" fill="#0000bf"/>
<rect x="408.69" y="357.99" width="42.20" height="8.46" fill="#0000b4"/>
<rect x="450.89" y="357.99" width="59.08" height="8.46" fill="#0000ae"/>
<rect x="509.97" y="357.99" width="101.28" height="8.46" fill="#0000b4"/>
<rect x="611.25" y="357.99" width="25.32" height="8.46" fill="#0000b9"/>
<rect x="636.57" y="357.99" width="33.76" height="8.46" fill="#0000d1"/>
<rect x="670.33" y="357.99" width="43.74" height="8.46" fill="#0000e8"/>
<rect x="104.85" y="366.45" width="50.64" height="8.46" fill="#0000d6"/>
<rect x="155.49" y="366.45" width="50.64" height="8.46" fill="#0000bf"/>
<rect x="206.13" y="366.45" width="8.44" height="8.46" fill="#0000b9"/>
<rect x="214.57" y="366.45" width="25.32" height="8.46" fill="#0000ae"/>
<rect x="239.89" y="366.45" width="67.52" height="8.46" fill="#0000a8"/>
<rect x="307.41" y="366.45" width="25.32" height="8.46" fill="#00009c"/>
<rect x="332.73" y="366.45" width="25.32" height="8.46" fill="#0000a2"/>
<rect x="358.05" y="366.45" width="25.32" height="8.46" fill="#0000a8"/>
<rect x="383.37" y="366.45" width="25.32" height="8.46" fill="#0000b4"/>
<rect x="408.69" y="366.45" width="101.28" height="8.46" fill="#0000a8"/>
<rect x="509.97" y="366.45" width="101.28" height="8.46" fill="#0000b4"/>
<rect x="611.25" y="366.45" width="25.32" height="8.46" fill="#0000bf"/>
<rect x="636.57" y="366.45" width="33.76" height="8.46" fill="#0000cb"/>
<rect x="670.33" y="366.45" width="43.74" height="8.46" fill="#0000dc"/>
<rect x="104.85" y="374.91" width="50.64" height="8.46" fill="#0000b4"/>
<rect x="155.49" y="374.91" width="50.64" height="8.46" fill="#0000ae"/>
<rect x="206.13" y="374.91" width="101.28" height="8.46" fill="#0000a8"/>
<rect x="307.41" y="374.91" width="101.28" height="8.46" fill="#0000ae"/>
<rect x="408.69" y="374.91" width="101.28" height="8.46" fill="#0000a8"/>
<rect x="509.97" y="374.91" width="101.28" height="8.46" fill="#0000b4"/>
<rect x="611.25" y="374.91" width="25.32" height="8.46" fill="#0000b9"/>
<rect x="636.57" y="374.91" width="33.76" height="8.46" fill="#0000c5"/>
<rect x="670.33" y="374.91" width="43.74" height="8.46" fill="#0000d1"/>
<rect x="104.85" y="383.37" width="50.64" height="7.53" fill="#0000b4"/>
<rect x="155.49" y="383.37" width="50.64" height="7.53" fill="#0000ae"/>
<rect x="206.13" y="383.37" width="101.28" height="7.53" fill="#0000a8"/>
<rect x="307.41" y="383.37" width="101.28" height="7.53" fill="#0000ae"/>
<rect x="408.69" y="383.37" width="101.28" height="7.53" fill="#0000a8"/>
<rect x="509.97" y="383.37" width="101.28" height="7.53" fill="#0000b4"/>
<rect x="611.25" y="383.37" width="25.32" height="7.53" fill="#0000b9"/>
<rect x="636.57" y="383.37" width="33.76" height="7.53" fill="#0000c5"/>
<rect x="670.33" y="383.37" width="43.74" height="7.53" fill="#0000d1"/>
</g>
<g clip-path="url(#ax)">
<path d="M128.2 132.9L130.2 128.4L136.6 125.8L147.6 123.3L155.2 124.1L161.1 125.0L170.4 125.3L177.2 126.2L184.0 126.3L189.0 126.0L195.8 125.2L200.9 126.5L209.3 126.5L217.8 127.7L226.2 128.5L229.6 128.0L236.3 128.9L246.5 128.9L249.9 127.5L253.2 123.0L256.6 126.3L261.7 127.5L266.8 128.0L273.5 126.7L274.4 130.1L268.5 131.4L265.1 135.1L260.0 136.5L254.9 139.9L252.4 143.2L253.2 144.6L255.8 147.1L260.0 147.5L263.4 148.8L268.5 150.5L273.0 150.7L273.5 154.2L276.9 157.1L278.6 155.9L278.6 151.9L282.3 148.3L282.0 144.1L280.3 141.6L280.3 138.3L285.4 138.5L290.4 139.4L293.8 140.7L294.6 143.6L297.2 145.1L300.6 144.1L302.2 141.9L304.3 144.1L307.3 146.6L308.7 148.8L310.7 150.0L314.9 151.7L317.5 155.1L315.4 156.8L310.7 159.0L303.9 158.8L299.7 159.1L295.5 161.8L293.0 163.7L297.2 161.3L303.1 161.2L302.2 163.5L302.6 165.0L303.9 165.9L308.2 166.7L310.7 165.9L309.0 167.2L304.8 168.4L300.9 169.9L300.6 167.8L298.9 168.3L296.3 169.1L293.8 170.1L292.6 171.8L293.6 173.2L291.3 173.8L287.4 175.0L287.0 177.0L285.4 178.4L283.7 179.2L283.2 181.3L284.2 183.3L282.8 185.2L280.3 186.5L278.3 187.7L275.5 189.6L274.5 192.3L275.9 196.0L276.9 199.0L276.4 201.0L275.0 201.4L273.9 199.5L272.3 197.3L272.2 195.1L270.6 193.3L267.9 193.6L265.9 192.4L262.5 192.4L260.8 192.8L261.4 194.6L259.2 194.6L257.0 193.9L254.1 193.6L251.9 194.3L249.0 196.0L247.7 197.5L247.8 199.9L247.0 202.4L246.8 205.6L247.8 209.0L249.4 211.2L251.6 212.5L253.2 213.0L255.8 212.4L258.0 212.4L259.2 210.5L259.3 208.3L262.5 207.5L265.1 207.5L264.2 209.7L264.2 212.4L263.0 214.2L262.4 217.1L264.2 217.1L267.6 216.9L270.1 217.9L271.3 219.1L271.0 222.7L270.8 225.2L272.2 226.9L274.4 228.8L276.9 228.1L279.4 227.9L281.1 229.1L282.3 229.3L283.7 227.4L284.5 225.9L286.2 225.2L288.4 224.7L290.4 223.5L291.6 222.8L291.1 225.2L291.8 227.7L290.4 226.1L293.5 224.2L296.3 225.4L300.6 225.9L303.6 225.9L306.5 225.9L307.7 227.1L309.3 229.3L311.0 229.8L313.2 232.0L315.8 233.7L319.2 233.8L321.7 234.3L324.2 235.9L325.4 236.7L326.8 240.4L327.4 243.0L328.4 244.1L330.5 245.2L332.7 245.0L336.1 246.3L337.7 248.2L341.1 248.5L344.5 248.7L347.0 250.1L349.6 252.1L352.4 252.8L353.1 256.5L353.0 259.0L350.4 261.7L348.7 264.1L346.4 266.6L346.2 270.0L345.7 273.4L344.8 276.9L343.0 280.8L341.1 282.7L336.9 283.0L333.5 284.4L331.0 286.6L330.0 289.3L329.6 292.1L327.6 294.5L325.6 297.5L323.4 300.1L321.5 301.6L319.5 302.8L317.0 302.8L314.4 301.9L313.4 301.1L315.4 303.5L315.1 305.5L316.1 306.2L314.6 308.5L311.5 309.4L307.0 309.5L306.8 312.2L304.3 313.3L302.1 313.1L303.3 315.6L304.4 315.1L302.2 316.5L301.6 319.7L298.0 322.0L300.7 324.6L297.5 328.1L295.5 330.8L296.5 332.4L293.8 332.9L291.8 334.9L289.6 334.2L286.5 332.0L284.8 329.1L284.7 325.8L286.2 322.9L284.5 321.5L286.0 319.0L288.1 317.3L287.2 314.4L288.1 310.0L287.7 306.7L289.6 303.8L291.1 299.6L291.4 295.3L291.6 292.0L292.4 288.2L293.0 283.5L293.6 279.3L293.3 275.1L291.3 273.0L287.9 271.3L284.5 269.2L283.2 267.0L281.5 264.1L279.9 261.2L277.7 257.3L275.9 254.8L274.9 253.6L274.7 251.1L276.4 249.5L277.2 247.7L275.4 247.0L276.1 244.6L276.9 242.4L278.8 241.4L279.4 239.6L281.1 237.2L281.5 234.5L281.1 232.3L279.9 230.4L278.3 228.8L276.2 229.9L276.9 231.3L274.9 231.0L272.7 229.8L270.6 229.1L267.6 227.6L267.1 225.5L265.4 223.4L264.2 222.0L261.4 221.0L257.5 220.1L254.9 218.1L252.4 216.4L249.0 217.3L245.6 216.3L241.7 214.7L238.9 213.4L235.5 211.9L233.6 209.3L234.1 207.1L233.5 205.3L231.3 202.9L228.7 200.9L227.2 198.8L225.2 196.8L223.2 195.0L221.5 192.6L220.6 190.9L218.3 190.4L218.8 192.8L220.8 195.1L222.3 197.3L224.2 199.9L225.4 202.4L226.5 203.9L227.2 204.6L226.0 205.1L224.7 203.2L222.5 201.9L222.5 199.9L220.5 198.5L219.1 197.2L218.4 194.8L216.4 192.6L214.9 190.4L214.0 188.5L212.2 186.8L210.3 185.8L208.3 185.3L207.8 183.8L206.1 181.9L205.1 179.9L204.2 179.1L202.9 177.0L201.9 175.5L202.4 173.3L201.7 171.3L202.4 168.6L202.5 165.6L201.5 162.8L201.4 162.0L203.9 162.3L204.7 164.0L205.2 161.7L204.6 161.0L202.9 159.6L200.9 158.8L198.3 157.6L196.6 155.9L195.3 153.7L192.9 151.9L191.6 149.7L189.2 148.1L186.5 145.8L183.1 143.8L181.4 145.3L178.9 144.3L175.8 143.1L173.1 142.6L169.6 142.2L165.5 141.4L162.8 141.4L160.8 142.4L158.1 143.2L155.7 143.6L157.1 141.6L158.6 140.4L156.1 141.0L153.5 142.7L151.5 144.1L153.0 145.1L150.3 146.5L147.6 147.8L143.9 149.3L140.9 150.0L137.5 151.0L134.1 151.7L137.5 149.8L141.4 148.5L144.4 147.0L146.4 144.8L143.6 144.8L140.9 144.6L138.3 144.8L137.8 142.6L134.6 142.2L132.9 140.9L131.7 139.4L133.3 137.8L134.3 137.0L137.6 136.5L140.0 135.5L140.2 134.3L137.1 134.8L134.1 134.6L131.2 134.6L130.4 133.4ZM288.7 111.3L293.0 113.3L299.7 115.4L309.0 115.2L313.2 116.0L315.8 117.9L317.5 120.3L319.2 122.1L319.7 124.1L324.2 124.8L325.1 126.0L321.3 126.5L322.2 128.5L321.3 130.7L322.0 132.4L324.1 134.1L325.6 136.1L327.3 137.8L329.0 139.5L330.6 140.9L333.5 141.4L335.7 142.2L338.4 142.6L339.9 141.0L340.6 139.2L342.1 137.5L344.0 135.5L345.2 133.6L348.4 132.8L351.9 132.4L355.3 129.7L358.0 128.7L362.9 128.4L368.2 128.0L372.4 126.2L374.6 124.8L372.4 124.3L375.3 122.8L374.6 121.1L377.3 119.9L377.5 118.1L379.7 117.7L378.8 115.5L380.8 114.0L378.0 112.7L380.7 111.3L380.0 109.4L382.5 108.3L385.9 106.7L380.0 105.7L371.5 104.7L361.4 103.7L347.9 102.7L334.4 103.9L324.2 104.9L314.1 105.4L306.5 105.9L302.2 107.4L298.5 108.3L292.4 109.8ZM276.1 119.2L282.0 120.9L288.7 122.8L292.1 124.3L296.3 125.3L298.9 126.7L297.5 128.4L303.4 130.2L306.8 130.9L304.3 133.6L301.9 135.1L302.6 136.8L299.7 137.7L296.3 138.0L291.8 136.5L288.1 135.1L284.0 135.0L280.3 133.6L287.0 131.4L288.4 129.0L284.8 128.0L282.3 126.7L279.8 125.7L275.2 126.2L271.3 125.8L265.9 125.0L261.7 123.5L260.5 121.6L263.4 119.6L267.4 119.9L270.1 119.2ZM249.9 107.8L258.3 106.6L270.1 104.5L283.7 103.4L300.6 103.9L308.2 104.5L303.9 106.4L294.8 108.1L287.0 109.4L283.2 111.0L284.5 112.0L278.6 113.7L273.5 114.7L265.1 114.9L260.8 114.3L261.7 113.0L264.2 112.0L258.3 111.5L254.1 109.8L251.6 108.6ZM256.6 114.5L263.4 114.5L273.5 114.5L277.1 117.4L266.8 117.7L257.5 117.7L252.4 116.2ZM211.0 122.5L212.3 120.4L218.6 120.1L225.4 120.4L231.3 119.9L234.7 120.8L237.2 123.5L240.4 125.8L237.2 127.9L232.1 127.4L227.9 128.4L220.8 128.4L216.1 126.9L211.8 125.8L212.7 124.0ZM200.0 120.9L201.7 118.4L207.6 118.1L214.0 119.2L216.4 120.6L210.1 122.8L203.7 123.5L199.3 122.3ZM213.5 115.2L222.8 114.7L232.1 115.2L233.8 116.7L227.9 117.2L221.1 117.9L214.4 117.4L213.0 116.2ZM238.9 119.8L244.8 119.1L248.5 120.4L247.3 122.5L242.3 121.4ZM250.2 119.1L256.6 118.6L259.3 119.9L257.0 121.8L252.4 121.6ZM247.3 107.2L255.8 106.6L265.9 108.1L260.8 110.3L256.6 111.3L250.7 109.4ZM242.3 114.5L248.2 114.3L249.0 116.4L243.9 116.9L241.4 115.7ZM245.6 125.3L249.0 125.8L250.7 127.5L247.3 128.0L244.8 126.9ZM265.9 132.1L271.0 133.1L275.2 135.5L271.8 136.1L267.6 137.2L264.7 135.3L266.3 133.6ZM271.8 137.5L274.4 138.2L272.3 138.9L270.3 138.3ZM311.7 163.4L313.7 160.8L314.9 158.3L317.8 156.6L318.3 159.3L321.2 160.1L321.7 162.3L322.9 163.4L322.4 164.9L320.8 164.5L318.3 164.5L316.6 163.4L312.4 163.4ZM371.0 133.1L374.1 131.6L377.8 132.1L382.5 131.9L386.8 131.8L389.1 133.4L387.3 135.0L383.4 136.0L380.0 136.7L375.8 136.0L373.9 135.6L374.9 134.6L371.9 134.1ZM268.6 206.8L271.8 205.1L274.7 204.6L277.4 205.3L280.3 206.3L282.8 208.0L285.4 208.8L286.7 209.7L284.5 210.2L280.8 210.2L281.6 209.0L279.4 207.5L276.1 206.6L273.5 206.1L271.5 206.6L269.5 207.5ZM286.4 210.2L289.1 210.2L292.1 210.2L294.1 211.2L296.5 212.4L294.6 212.9L291.6 214.1L289.6 213.0L286.4 212.9L289.1 212.5L289.2 211.0ZM279.8 212.7L282.1 212.7L283.3 213.4L281.6 213.9L279.8 213.0ZM298.5 212.5L301.2 212.7L301.2 213.4L298.5 213.4ZM402.6 183.0L401.5 181.6L399.6 180.9L397.1 181.3L397.2 179.1L396.0 178.2L396.9 176.5L397.4 174.0L397.1 172.5L396.4 171.1L398.6 169.9L402.0 170.1L405.3 170.5L409.1 170.5L409.9 168.6L410.1 165.9L408.4 164.2L404.8 163.0L404.2 162.0L407.0 161.3L409.4 161.7L408.9 159.8L410.1 160.3L412.4 160.1L414.6 159.0L414.8 157.8L416.3 157.4L417.8 156.9L419.2 155.9L420.0 154.4L421.4 153.6L423.9 153.4L426.5 153.2L426.8 152.0L426.6 150.2L425.8 148.3L426.5 147.3L429.8 146.3L429.8 147.3L429.5 148.5L430.5 148.8L429.5 149.8L428.7 150.9L429.0 151.5L430.5 151.9L430.7 152.5L433.2 151.9L435.1 152.4L436.3 152.7L439.1 152.0L441.7 151.2L443.7 151.7L445.2 151.9L446.4 151.0L447.8 150.3L447.6 148.8L447.8 147.8L448.6 146.8L450.3 146.1L452.0 147.5L453.3 147.0L453.2 145.1L451.8 144.6L451.8 143.8L455.2 143.2L459.4 143.2L463.1 142.6L461.1 142.1L458.6 141.6L454.4 142.1L451.0 142.6L448.1 141.2L448.4 139.5L448.3 137.5L450.1 136.0L454.0 134.1L455.0 133.8L453.5 132.6L449.8 132.6L447.9 134.1L447.8 135.3L445.6 136.3L442.9 137.7L441.3 139.0L441.2 140.9L443.7 142.2L443.2 143.6L440.2 146.1L439.8 148.1L439.1 149.0L436.4 149.8L434.1 150.2L433.4 148.7L432.2 146.8L431.2 144.8L430.9 143.8L429.8 143.1L429.5 144.1L428.0 144.4L425.6 145.6L423.3 145.6L421.6 144.8L420.9 143.4L420.6 141.6L420.6 139.4L422.2 138.2L424.9 137.3L427.3 136.3L429.5 135.0L431.7 134.0L433.2 132.3L434.9 130.4L436.8 128.9L439.1 127.9L441.3 127.0L443.0 126.0L445.9 125.5L448.4 125.2L451.8 124.5L455.2 123.8L458.6 123.8L461.1 124.3L464.3 125.5L465.0 125.8L467.9 126.5L471.2 126.9L474.6 127.5L478.9 128.9L481.6 130.1L481.4 131.8L478.9 132.1L474.6 131.9L470.9 132.3L470.4 134.0L471.2 135.0L473.8 135.6L475.5 136.0L476.3 134.8L479.4 134.6L481.4 134.0L483.9 132.3L486.1 131.8L486.5 129.0L485.6 127.9L489.8 128.4L490.7 129.4L494.1 129.4L498.3 128.7L501.7 127.7L504.2 128.4L509.3 128.0L512.7 128.2L514.3 126.9L515.2 125.8L519.1 126.5L522.8 127.0L526.2 127.9L527.5 128.5L528.7 127.4L527.4 126.3L525.3 125.7L525.0 124.1L525.7 123.1L527.7 122.0L529.4 120.4L532.1 120.4L535.0 120.9L534.5 123.3L536.5 125.7L535.8 127.7L533.3 130.7L534.6 131.6L537.2 129.7L538.2 127.4L536.1 125.7L537.2 123.6L535.8 122.6L539.2 121.4L539.7 123.3L543.1 121.8L546.3 121.8L548.3 119.4L551.5 119.4L555.8 119.6L558.5 118.7L558.1 117.7L560.0 117.1L563.4 116.2L567.6 115.7L572.6 115.2L577.7 115.0L582.1 114.0L587.9 112.5L592.3 113.5L591.2 114.3L595.5 114.3L600.5 114.7L603.9 115.5L603.1 117.1L600.2 118.1L596.6 118.7L599.0 119.4L603.1 118.9L607.3 119.2L613.2 120.3L620.0 120.4L625.9 119.8L629.3 120.6L631.0 123.0L634.0 124.1L636.9 123.1L641.1 122.8L645.3 122.8L648.4 121.4L651.2 120.8L654.6 121.1L659.7 121.6L664.8 122.0L669.0 124.0L674.0 123.8L679.1 124.0L682.0 124.7L683.3 126.2L687.6 126.0L692.6 126.3L696.0 125.7L700.2 125.3L703.6 125.7L707.9 125.7L713.8 126.5L716.3 127.4L719.7 128.2L723.1 129.6L726.4 130.2L730.7 131.2L733.7 132.1L732.4 133.3L729.0 133.6L728.1 135.1L725.6 134.8L721.4 134.3L718.0 133.3L714.6 134.0L712.1 134.5L713.8 135.6L714.1 136.8L715.3 137.7L713.8 138.3L711.2 138.2L707.0 139.4L703.6 140.4L701.1 141.6L698.6 142.1L696.0 141.6L692.6 141.9L691.0 142.4L688.4 142.7L687.9 144.1L685.9 145.8L686.0 146.5L687.9 147.1L687.2 148.8L685.9 149.2L685.5 150.7L683.3 152.2L682.5 153.9L680.0 154.4L679.5 156.1L677.1 157.6L676.2 155.6L675.6 153.4L674.9 150.5L675.6 147.8L677.1 146.3L679.8 145.8L682.7 144.3L685.0 142.1L688.8 140.5L689.3 138.5L687.9 138.3L685.9 139.4L683.3 139.5L682.7 140.7L681.1 139.4L677.4 139.7L674.0 140.9L672.7 142.7L670.3 143.8L667.8 143.2L665.3 143.1L663.1 143.8L658.0 143.6L653.8 143.6L650.9 144.8L648.9 145.9L645.3 148.3L642.8 150.9L640.2 151.4L644.1 152.5L644.0 153.4L647.0 152.4L649.5 153.2L651.1 155.6L649.7 158.5L649.4 161.3L647.7 163.2L645.7 165.0L643.6 166.9L641.1 169.1L638.6 170.6L636.5 171.3L633.8 171.8L632.6 172.3L631.3 174.5L628.9 176.2L627.6 177.0L629.3 179.1L630.8 181.3L631.0 183.6L630.1 184.5L627.4 185.3L625.9 185.7L625.5 183.8L626.1 181.6L625.2 180.1L623.7 180.1L623.0 178.7L623.9 177.0L622.2 176.4L619.8 176.9L617.6 178.1L617.1 176.9L618.3 175.5L617.1 174.7L614.9 175.9L613.2 177.4L611.5 177.6L610.8 178.6L611.7 179.6L613.0 180.6L614.2 181.1L616.3 179.9L618.1 180.4L619.3 180.9L617.3 181.6L615.7 182.8L614.1 184.3L613.5 185.5L615.4 185.8L616.3 188.0L617.4 189.4L618.1 190.2L616.6 191.9L618.1 193.1L617.4 195.1L615.9 197.3L614.4 199.9L613.0 201.6L611.4 202.4L609.8 203.7L607.8 205.3L605.3 206.1L603.6 206.3L601.4 207.1L599.2 207.6L598.5 209.3L597.7 207.6L595.5 207.1L593.4 208.0L592.1 209.2L590.9 211.2L590.7 212.5L592.1 214.1L593.6 215.6L595.1 217.1L596.1 218.8L596.8 221.2L596.6 223.9L595.5 225.0L593.6 226.1L592.4 226.6L591.9 227.7L590.4 228.9L589.5 229.3L589.2 227.6L588.7 226.2L586.8 225.9L585.5 223.7L584.8 222.7L582.8 222.3L582.6 221.0L581.1 221.2L580.4 223.0L579.9 225.2L579.7 227.6L580.9 228.3L581.6 230.4L581.9 231.6L583.3 232.3L584.6 233.3L586.2 234.5L586.8 235.7L587.0 237.4L586.8 239.1L587.7 239.9L588.4 241.4L587.0 241.6L585.5 240.6L583.5 239.1L582.5 237.2L581.8 235.7L581.6 234.2L581.3 232.8L580.3 231.6L579.2 230.3L578.6 229.6L578.2 227.7L578.7 226.1L578.7 223.7L578.9 221.5L577.7 219.0L577.2 216.6L576.4 215.2L575.2 215.9L573.3 217.1L571.8 216.8L571.3 215.4L572.0 213.4L571.1 211.9L570.1 211.0L568.8 209.2L567.9 207.8L567.4 206.3L566.6 205.3L565.0 205.3L564.0 206.6L562.5 206.8L561.3 207.3L559.6 207.3L558.5 209.5L556.6 210.7L555.2 211.5L554.1 212.9L552.0 215.1L551.0 215.9L549.5 216.9L547.8 217.8L547.5 220.5L547.8 221.8L547.1 223.5L547.1 226.2L546.1 226.4L545.4 227.7L544.4 228.8L543.1 230.1L541.6 228.8L540.7 226.9L540.0 224.7L539.0 222.5L538.2 220.3L537.3 218.1L536.3 216.6L535.6 214.1L535.1 211.4L535.3 209.7L534.8 207.8L534.8 206.3L533.4 207.1L532.4 208.3L531.2 208.5L529.6 207.5L528.7 206.1L530.7 205.3L529.6 204.9L528.0 204.6L527.4 203.7L526.0 203.4L525.5 202.1L524.5 200.9L521.1 201.2L517.9 201.2L516.0 201.4L512.8 200.9L511.0 200.5L509.1 200.4L508.3 198.3L507.4 197.8L506.1 198.3L504.5 199.0L502.5 198.5L500.8 197.2L499.1 196.6L498.0 195.1L496.8 192.9L495.9 193.1L494.7 192.6L493.2 193.1L493.6 193.9L494.6 197.0L495.8 198.0L496.9 198.8L496.9 200.5L498.0 201.9L498.8 199.7L499.3 201.2L499.0 202.2L500.1 203.4L502.3 202.9L504.5 201.9L505.7 200.9L506.9 199.7L507.4 199.2L507.4 201.7L509.1 203.4L511.3 203.9L512.7 205.4L513.2 206.1L512.3 207.6L511.0 209.3L509.8 211.5L508.9 211.9L507.8 212.4L505.6 214.1L502.9 215.4L500.7 216.1L500.3 217.4L497.4 218.5L495.1 219.3L493.1 220.1L491.0 221.2L488.5 221.8L486.5 222.5L485.3 222.3L485.1 221.5L484.4 218.8L484.4 216.9L484.1 215.4L483.6 214.9L482.4 212.2L481.2 210.8L479.4 209.5L478.2 207.8L478.0 205.6L477.2 203.7L475.5 202.7L475.0 201.4L473.3 198.8L471.4 196.3L470.6 196.3L470.9 195.3L471.1 193.9L470.1 196.5L469.4 197.0L468.0 195.8L467.2 193.3L466.7 190.9L469.6 191.1L470.6 190.4L471.2 188.4L472.1 186.5L472.8 184.3L472.6 183.3L473.3 181.9L472.3 181.9L470.7 181.6L468.7 182.6L467.0 182.8L465.7 181.9L463.8 181.8L462.3 182.8L460.6 181.8L458.7 181.8L457.9 180.1L456.5 179.2L457.4 177.9L456.4 177.0L456.5 176.0L457.6 175.2L459.4 175.5L461.4 174.7L461.3 174.2L459.6 173.5L460.8 174.3L458.1 175.0L456.7 175.2L456.2 174.8L455.0 174.7L453.2 174.8L452.2 175.0L450.8 175.4L451.5 176.4L450.3 175.7L450.6 176.9L451.0 177.9L450.5 178.2L451.8 178.9L452.7 179.6L451.0 179.7L451.3 180.8L450.6 182.1L449.4 181.3L448.6 181.6L447.9 180.3L448.6 178.9L447.1 177.9L446.2 176.9L445.7 176.2L444.9 175.4L445.1 173.3L444.0 172.3L441.7 171.1L439.8 170.3L438.5 169.4L437.5 168.1L436.4 167.2L435.3 167.6L435.1 166.4L433.4 166.9L432.9 167.4L433.2 168.4L433.1 169.3L434.9 170.1L435.9 171.8L437.6 173.0L439.1 173.5L441.5 174.7L443.4 176.0L443.0 176.5L441.2 175.5L440.5 175.7L439.8 176.9L441.0 178.1L440.2 178.7L439.3 179.6L438.6 179.6L439.0 178.4L439.3 177.2L438.6 176.2L437.5 175.9L436.9 175.2L435.8 174.8L435.1 174.2L433.9 174.0L432.7 173.2L431.0 172.3L429.8 171.3L429.3 169.6L428.5 169.3L427.1 168.8L426.3 169.1L424.8 169.8L423.1 171.0L421.1 170.6L419.7 170.5L417.3 171.0L417.5 172.1L417.3 173.0L415.6 174.0L413.5 174.5L413.3 175.2L412.1 176.4L411.6 177.4L412.3 178.4L411.3 179.1L410.9 180.3L409.7 180.6L408.6 181.8L406.4 181.8L404.7 181.8L403.7 182.5L403.0 182.8ZM402.5 159.1L404.5 158.8L407.0 158.1L409.6 158.1L412.6 157.9L414.5 157.3L413.3 156.8L415.0 154.7L412.8 154.4L412.4 153.6L411.6 152.5L410.1 151.5L409.4 149.8L408.0 149.2L406.7 149.0L408.7 148.1L409.1 146.5L406.7 146.3L405.3 145.8L407.0 144.8L403.7 144.8L403.3 145.8L402.5 146.8L402.6 148.1L401.6 148.7L402.6 150.0L403.7 149.5L404.0 150.9L403.5 151.2L406.2 151.0L406.7 152.2L407.0 153.6L404.3 153.7L405.0 155.4L403.5 156.1L405.0 156.6L406.7 156.9L405.7 157.3L404.0 157.8L403.3 158.6ZM402.0 155.6L402.0 153.7L401.6 152.7L402.6 151.9L402.0 150.7L399.8 150.3L398.1 150.7L397.7 151.9L395.2 152.2L395.4 153.6L396.6 154.2L395.5 155.6L394.7 156.1L396.0 156.8L397.9 156.6L399.9 155.8ZM428.0 171.1L428.2 172.8L427.6 173.8L426.6 173.0L426.8 171.8ZM428.5 174.3L428.7 176.2L428.3 177.6L426.6 178.1L426.3 176.5L426.0 174.7ZM433.1 179.4L438.5 179.1L437.6 181.8L436.3 181.3L433.2 180.3ZM451.8 183.6L456.5 184.1L456.2 184.7L453.2 184.3L451.8 184.1ZM466.7 184.5L470.6 183.5L469.4 184.7L467.5 185.3ZM430.7 109.4L437.5 108.6L442.5 108.1L449.3 107.9L457.7 108.3L457.7 110.0L447.6 111.1L443.4 113.7L439.1 114.0L435.8 112.7L431.5 111.1ZM500.0 123.0L503.4 120.4L505.1 117.9L508.4 116.2L513.5 114.9L520.3 113.7L527.9 113.7L525.3 115.0L516.9 116.2L510.1 118.2L507.6 121.3L510.1 123.8L508.4 124.5L502.5 124.1ZM572.6 110.3L579.4 107.8L587.9 109.8L582.8 111.6L574.3 111.3ZM641.9 118.2L650.4 119.1L654.6 119.9L666.4 117.7L658.8 116.2L648.7 116.2L643.6 116.7ZM466.7 190.9L464.5 190.4L462.8 190.7L460.8 191.6L458.6 190.9L454.7 190.4L452.7 189.7L451.0 188.5L448.4 188.2L446.1 189.4L445.6 191.4L443.4 192.3L440.8 191.4L438.6 190.7L437.8 189.2L434.9 188.2L432.2 187.9L430.9 187.5L429.5 186.7L430.4 185.0L430.9 184.3L430.0 183.3L430.5 181.8L429.3 180.9L428.2 180.8L426.3 181.4L423.9 181.3L421.1 181.9L417.5 181.6L414.6 181.9L412.1 183.1L410.1 183.5L408.4 184.3L406.0 184.0L404.3 184.1L403.3 183.3L402.1 183.3L401.6 184.5L400.6 186.2L398.9 186.8L397.6 187.7L396.4 188.7L395.5 191.1L395.9 192.8L394.7 194.1L392.8 196.0L390.8 196.6L389.8 198.0L388.6 199.2L387.6 200.9L387.1 202.6L386.1 203.9L385.1 204.3L384.6 205.9L383.5 207.5L383.2 208.5L384.2 209.7L384.6 211.4L384.9 213.2L384.2 215.7L383.9 217.4L383.0 218.6L382.7 219.0L383.9 221.0L383.7 222.7L384.9 223.5L386.2 224.9L387.3 225.9L388.4 227.1L389.8 228.6L391.1 230.4L392.7 232.0L394.4 233.2L395.9 234.3L398.1 235.9L399.4 236.4L401.1 235.9L403.7 235.2L405.3 235.0L407.2 235.4L408.9 235.7L410.4 234.8L412.6 234.0L414.1 233.5L416.2 233.2L418.2 233.2L419.5 233.2L421.2 235.0L422.2 236.5L423.9 236.4L426.1 236.2L427.0 236.4L428.2 237.4L428.7 238.9L428.7 240.6L428.0 242.1L427.8 243.3L427.5 244.5L428.5 246.8L429.8 248.9L431.0 250.4L432.2 252.2L432.9 254.1L433.9 256.5L434.4 258.3L434.9 260.2L435.4 262.4L435.1 264.1L433.7 266.8L432.7 268.1L432.2 271.9L431.9 273.5L432.9 275.9L434.2 277.9L435.1 279.3L436.4 281.8L436.6 284.4L437.3 286.9L437.8 289.3L439.0 291.1L439.8 292.1L441.0 293.8L441.8 295.9L443.0 297.9L442.9 299.7L443.2 301.1L443.9 301.8L445.2 302.6L446.1 302.6L448.4 301.8L450.3 301.3L452.0 301.1L454.4 301.1L455.7 300.8L457.4 300.4L458.7 299.6L460.1 298.6L461.6 297.0L463.0 295.5L464.5 293.7L466.5 292.1L467.0 290.6L467.5 288.9L467.2 287.4L468.4 286.4L470.9 285.5L472.1 284.0L472.1 281.8L471.6 280.1L470.9 277.8L471.6 276.6L473.4 275.2L475.3 273.5L477.0 272.7L479.2 271.2L480.5 269.5L480.7 267.5L480.5 264.9L480.5 262.1L479.5 260.7L478.7 258.2L478.5 256.1L477.7 254.6L477.8 253.3L478.5 251.7L479.2 250.6L480.2 248.4L481.2 247.3L482.4 246.7L483.8 245.2L485.1 243.3L486.6 241.9L488.7 240.4L490.5 238.9L492.5 236.4L494.1 234.2L495.4 232.1L496.8 229.8L497.8 227.9L498.6 225.9L498.5 223.9L497.3 224.0L495.8 224.5L493.7 224.7L492.2 224.9L490.3 225.7L487.6 226.2L486.1 225.5L485.3 224.4L484.8 223.0L483.9 222.3L482.7 221.0L481.6 219.6L480.4 218.5L479.0 217.6L478.2 215.7L477.3 213.5L476.0 212.4L475.1 210.2L475.0 208.3L474.5 206.6L472.4 205.1L472.3 203.4L471.4 201.7L470.6 200.2L469.6 198.7L468.9 197.5L468.4 196.5L467.4 194.3L467.2 193.3ZM495.4 264.1L496.4 266.1L497.3 269.5L496.9 271.0L495.8 273.2L495.1 275.9L494.1 278.4L493.1 281.7L492.2 284.9L490.3 286.2L488.5 286.9L486.8 285.9L486.0 283.7L485.3 281.5L485.8 279.5L487.1 277.6L486.8 275.2L486.5 273.2L487.1 271.3L489.2 270.7L491.2 269.5L492.7 268.5L493.7 266.8L494.7 265.1ZM547.1 227.4L548.7 228.3L550.3 231.0L550.3 232.6L549.0 233.7L547.5 233.5L546.8 231.1L547.1 228.9ZM651.2 173.8L651.9 175.5L652.2 177.0L651.4 179.1L650.4 179.6L650.2 181.3L649.9 183.0L650.1 184.3L648.5 184.7L648.2 183.8L647.2 184.3L646.5 185.3L645.3 185.3L644.0 185.3L643.3 184.7L642.8 185.7L643.5 186.5L641.6 187.2L640.4 185.8L640.9 185.2L638.9 185.2L636.9 185.7L635.5 186.5L635.0 187.0L634.8 188.2L634.2 190.6L633.0 191.4L632.1 190.9L632.5 189.2L631.5 188.5L631.1 187.5L632.5 186.5L633.3 186.3L634.5 185.3L636.4 184.0L637.5 183.8L639.6 183.6L641.6 183.6L642.4 182.5L643.1 181.1L643.5 180.6L644.1 181.6L645.5 181.1L646.8 179.9L647.7 179.1L648.5 177.7L648.7 176.4L648.5 175.2L649.2 174.2ZM636.0 188.0L637.4 187.4L638.9 187.5L639.7 186.7L639.4 186.0L637.7 185.8L636.0 186.5ZM648.7 173.7L650.7 173.2L650.4 172.0L651.7 171.8L654.3 172.8L656.3 171.3L658.2 170.6L657.3 169.3L654.6 168.9L651.9 166.9L651.6 168.3L650.9 170.3L649.4 170.6L649.0 172.5ZM652.4 152.0L653.4 153.4L654.3 155.1L654.1 157.1L654.8 159.1L656.3 161.0L654.1 160.7L653.1 162.8L654.6 165.2L652.9 165.0L651.9 165.9L652.2 163.0L651.9 160.3L652.4 157.6L651.6 155.2L651.4 153.7ZM616.6 201.2L618.1 201.6L617.6 203.4L616.9 205.3L616.3 206.8L615.4 205.8L615.1 204.1L615.7 202.4ZM595.6 211.4L597.0 210.0L599.0 209.8L599.7 210.5L598.8 212.2L597.3 213.0L595.8 212.5ZM615.9 212.5L617.4 212.4L618.6 212.7L618.8 214.9L617.6 216.9L617.6 218.1L618.6 219.3L620.0 220.3L621.8 221.8L621.5 222.5L620.5 221.7L619.1 221.0L617.6 220.3L616.3 219.8L615.9 218.5L614.7 216.9L615.4 216.4L615.6 214.2ZM618.3 232.1L619.6 231.3L621.0 230.6L622.0 229.9L624.0 227.2L624.2 228.6L625.7 229.6L626.1 231.6L625.4 233.2L624.2 234.3L623.7 233.5L622.0 233.3L621.5 232.1L620.5 231.1L619.6 231.6ZM622.2 222.7L623.7 222.7L624.5 225.2L623.4 226.7L622.2 225.7ZM618.1 223.7L620.3 224.7L621.8 225.2L621.2 227.6L619.1 228.3L618.4 226.1ZM610.2 229.6L612.4 227.6L614.2 224.5L614.2 226.1L612.0 228.6L611.0 229.9ZM596.3 241.3L597.3 240.4L598.5 240.9L599.7 241.1L601.0 238.9L603.1 238.4L604.6 236.2L606.3 235.5L607.3 235.0L608.5 233.3L609.3 232.1L610.8 233.0L612.4 234.2L613.5 234.8L612.2 235.5L611.4 236.9L610.8 238.6L611.5 239.9L611.4 241.3L613.0 242.3L611.2 242.4L610.7 244.0L609.7 246.2L609.0 248.0L608.5 250.4L606.8 250.4L605.6 249.7L604.3 249.5L602.2 249.5L600.9 248.9L599.7 248.9L598.3 248.7L598.2 246.7L597.2 245.5L596.5 244.3L596.3 242.8ZM573.2 234.3L575.2 235.0L576.9 235.0L578.4 236.7L580.3 238.4L582.1 240.3L583.3 240.4L585.3 241.8L587.0 243.5L587.5 245.3L588.7 246.7L589.4 247.7L590.6 248.9L591.4 249.2L590.9 251.4L590.9 253.6L589.0 253.8L588.0 252.6L585.5 250.9L583.5 248.5L582.1 246.5L581.3 244.8L579.9 243.5L579.2 241.1L577.7 239.7L576.4 238.2L575.0 237.2L573.3 235.5ZM589.9 255.3L591.2 253.8L592.9 253.8L595.1 254.3L597.2 255.3L598.8 255.5L600.2 255.0L602.4 255.5L602.7 256.6L605.6 257.0L605.6 258.5L603.6 257.8L600.5 257.8L598.3 257.5L595.8 256.6L592.9 256.3L591.9 256.1L590.2 255.3ZM606.5 257.5L608.3 258.0L610.2 258.0L612.0 258.0L614.6 258.0L616.6 258.2L619.6 257.8L619.6 258.5L616.6 258.8L614.2 258.7L611.5 258.8L609.0 258.8L607.0 258.7ZM621.0 261.2L623.2 259.2L625.0 258.2L627.2 258.0L625.5 259.0L623.2 260.5L621.7 261.4ZM613.7 253.1L614.2 251.1L614.1 249.7L612.9 248.4L613.9 246.0L614.6 243.8L615.1 242.6L616.4 241.6L619.1 242.1L621.7 242.3L623.0 241.3L623.7 241.4L622.3 243.1L620.5 243.3L617.6 243.0L615.2 243.5L615.1 245.0L617.4 245.3L620.5 244.8L619.6 245.3L617.4 247.0L619.0 249.2L619.8 251.4L618.6 252.8L617.1 250.9L616.4 249.7L615.6 253.1ZM628.3 240.1L629.6 241.9L628.8 243.0L629.4 244.8L627.9 244.3L627.7 241.8ZM628.6 248.7L630.6 248.5L632.8 249.2L632.6 250.1L629.1 249.7ZM633.5 246.0L635.0 245.0L636.9 245.0L638.7 245.3L639.2 248.2L641.1 249.5L642.6 247.7L644.3 246.3L646.0 246.8L648.4 247.9L650.4 248.2L653.3 249.4L656.5 250.4L658.5 252.2L658.7 253.1L661.5 254.1L662.1 255.0L660.4 255.5L660.9 257.2L662.4 257.5L663.4 259.2L664.4 259.2L665.1 261.2L667.0 261.2L665.6 261.9L663.7 261.2L662.1 260.9L660.7 259.9L658.8 257.5L656.6 256.6L655.3 257.2L654.3 257.8L654.4 259.0L653.1 259.5L650.4 259.2L648.5 257.5L646.8 258.0L645.5 257.8L646.5 256.1L646.0 254.3L645.2 252.9L641.4 251.4L639.2 250.6L638.1 249.7L636.5 250.7L635.2 248.5L637.0 248.0L638.2 248.0L636.9 247.5L635.5 247.5L634.0 246.3ZM662.7 253.3L664.8 253.3L666.4 253.1L668.1 252.1L669.3 250.9L669.5 252.1L668.1 253.6L665.9 254.4L663.9 254.1ZM604.1 281.3L604.4 284.2L603.7 285.0L604.8 288.2L605.3 290.8L606.3 293.7L606.5 295.3L607.6 297.2L607.6 300.1L606.6 300.6L606.5 301.8L608.1 302.6L610.3 302.9L612.5 302.4L614.7 301.1L617.1 300.9L621.0 301.1L622.0 299.6L623.5 299.1L625.4 298.2L626.9 298.4L629.9 297.4L634.0 297.0L635.7 297.9L637.9 298.0L639.1 298.9L640.6 302.1L641.8 302.8L642.6 301.4L644.0 300.6L645.2 299.7L644.5 301.4L644.5 303.1L645.5 304.0L646.2 301.9L648.0 304.8L648.5 307.0L649.7 308.0L651.4 308.7L653.3 308.9L654.8 309.4L656.3 308.2L657.1 309.0L658.7 309.5L659.5 309.9L661.2 308.4L662.7 307.7L664.8 307.5L665.6 307.0L665.6 305.0L666.8 303.3L667.3 301.6L668.3 299.7L669.8 298.0L670.7 296.2L670.8 293.5L671.7 292.1L670.8 289.9L671.0 287.9L670.0 286.6L668.3 284.5L667.1 283.7L666.4 282.0L665.1 281.5L664.4 279.6L663.4 278.6L661.4 276.8L659.5 275.9L658.8 273.5L657.8 271.3L657.7 269.2L656.5 267.8L654.8 267.3L654.6 265.4L653.6 263.7L652.9 261.9L652.2 262.9L651.6 265.6L651.4 268.5L651.1 271.5L649.7 273.5L647.5 273.2L645.7 272.2L643.6 270.7L641.8 269.3L640.9 268.6L641.9 267.0L643.1 264.4L641.9 263.9L640.4 264.6L637.9 263.7L636.2 263.4L634.8 262.9L632.6 264.8L632.0 266.1L631.0 268.1L631.0 269.3L628.8 269.2L628.1 268.0L626.6 267.1L625.0 268.0L623.5 269.2L622.3 271.3L620.6 273.0L618.8 273.4L618.6 274.6L616.8 276.8L614.6 277.6L612.9 278.1L610.5 278.8L609.3 278.8L607.3 280.1L605.8 280.6ZM656.6 312.6L659.5 313.3L662.7 312.9L662.7 314.9L662.1 316.8L660.5 317.3L659.0 317.5L657.8 316.0L657.1 314.4ZM704.0 301.9L705.5 302.9L707.0 304.6L708.4 306.7L709.4 307.3L711.2 308.0L713.8 307.5L713.4 309.0L712.8 310.0L711.2 310.9L710.9 311.9L709.5 313.6L708.2 314.1L707.3 313.6L708.2 312.2L707.2 311.1L705.8 310.0L707.2 308.7L707.3 306.8L706.7 305.5L705.8 305.0L704.6 303.3ZM704.0 312.2L704.8 313.6L706.5 313.8L706.7 314.6L705.3 316.3L704.1 317.5L703.3 318.0L701.8 318.7L701.1 320.4L700.4 321.4L699.1 322.2L696.7 322.6L694.5 322.0L693.5 321.4L694.2 320.0L696.5 318.3L698.6 317.5L700.2 316.5L701.8 314.8L702.9 313.1ZM107.9 376.0L124.8 376.3L136.6 376.6L145.1 374.8L155.2 374.3L162.0 373.3L168.7 371.7L175.5 370.7L182.3 369.7L192.4 369.4L202.5 368.5L212.7 368.9L219.4 368.9L226.2 369.7L236.3 370.2L243.1 368.0L249.9 367.7L260.0 367.2L270.1 367.5L276.9 368.2L283.7 367.5L288.7 364.6L290.4 362.1L293.8 360.4L297.2 358.7L298.9 356.2L302.2 354.5L307.3 352.8L312.4 351.3L315.8 350.9L314.1 353.0L309.9 355.3L307.3 357.9L304.8 361.3L308.2 363.8L309.0 367.2L309.0 370.6L303.9 373.1L310.7 374.8L327.6 375.6L337.7 376.1L351.3 375.3L358.0 373.9L364.8 371.9L368.2 370.6L378.3 368.5L386.8 366.3L391.8 364.6L398.6 363.8L405.3 363.5L412.1 362.1L420.6 362.4L429.0 362.1L437.5 362.3L445.9 362.4L454.4 362.8L462.8 361.8L471.2 361.3L478.0 361.4L483.1 359.4L489.8 357.9L496.6 356.7L505.1 355.3L510.1 357.0L516.9 357.9L525.3 358.2L530.4 360.4L533.8 362.9L538.9 361.3L543.9 359.6L550.7 357.0L560.8 356.4L571.0 355.7L581.1 355.0L591.2 355.8L601.4 356.0L611.5 357.0L621.7 356.4L631.8 355.7L641.9 355.7L652.1 356.7L658.8 358.0L665.6 359.6L674.0 360.4L682.5 362.1L689.3 363.1L696.0 363.8L699.4 364.8L697.7 366.5L692.6 368.9L689.3 370.6L686.7 372.7L688.4 374.8L692.6 375.6L699.4 376.0L707.9 376.1L716.3 376.0L724.8 376.0L724.8 399.3L99.5 399.3L99.5 376.0ZM711.6 273.4L713.3 273.0L714.1 274.1L713.3 274.7L711.9 274.4ZM713.9 271.9L716.3 271.2L716.1 272.2L714.4 272.4ZM689.4 277.9L691.0 278.4L694.3 281.3L693.5 281.7L691.0 280.1L689.6 278.6ZM148.6 209.7L150.0 210.3L150.5 210.8L149.1 211.9L148.5 211.0ZM147.3 208.3L148.5 208.6L147.8 209.0ZM144.6 207.3L145.6 207.6L144.9 207.8ZM204.2 113.7L212.7 113.8L216.1 115.0L211.0 115.7L205.1 115.2ZM221.1 112.1L229.6 111.8L233.0 112.8L226.2 113.3ZM236.3 110.3L243.1 110.5L243.9 112.0L238.0 112.5ZM246.5 111.1L250.7 111.6L249.0 112.7L245.6 112.1ZM249.9 116.0L254.1 116.2L254.1 117.2L249.9 117.4ZM275.2 119.1L281.1 119.4L280.3 120.6L276.1 120.4ZM281.1 128.9L283.7 129.2L282.8 130.1ZM222.8 110.6L226.2 111.0L224.5 111.6ZM459.6 173.5L461.4 174.2L464.8 174.3L466.7 173.3L468.7 172.8L471.6 172.8L474.5 174.0L476.8 174.7L480.4 174.5L482.4 173.7L482.2 171.8L480.2 171.0L477.5 168.9L475.5 168.3L474.1 167.4L472.1 167.2L470.2 168.6L468.7 168.4L467.0 167.1L468.4 166.2L465.7 165.6L464.0 165.0L462.8 166.4L462.1 167.2L460.6 168.8L460.3 170.5L459.1 171.6L459.4 172.8ZM95.2 125.7L99.5 125.7L105.4 126.5L107.9 127.4L111.3 128.2L114.7 129.6L118.0 130.2L122.3 131.2L125.3 132.1L124.0 133.3L120.6 133.6L119.7 135.1L117.2 134.8L113.0 134.3L109.6 133.3L106.2 134.0L103.7 134.5L105.4 135.6L105.7 136.8L106.9 137.7L105.4 138.3L102.8 138.2L98.6 139.4L91.0 139.0L91.0 125.7ZM95.6 301.9L97.1 302.9L98.6 304.6L100.0 306.7L101.0 307.3L102.8 308.0L105.4 307.5L105.0 309.0L104.4 310.0L102.8 310.9L102.5 311.9L101.1 313.6L99.8 314.1L98.9 313.6L99.8 312.2L98.8 311.1L97.4 310.0L98.8 308.7L98.9 306.8L98.3 305.5L97.4 305.0L96.2 303.3ZM103.2 273.4L104.9 273.0L105.7 274.1L104.9 274.7L103.5 274.4ZM105.5 271.9L107.9 271.2L107.7 272.2L106.0 272.4Z" fill="rgba(190,190,190,0.2)" fill-rule="evenodd" stroke="none"/>
<path d="M256.5 164.9L260.8 162.7L262.9 161.3L265.9 161.5L268.8 163.5L269.3 165.2L265.9 165.2L262.5 164.2L259.2 165.0ZM267.6 166.4L268.8 166.4L267.6 168.1L266.3 170.3L265.9 172.5L264.2 173.5L263.7 172.0L263.9 168.6L265.1 166.9ZM269.3 166.1L272.7 166.2L276.1 166.9L276.9 168.6L274.4 168.4L273.5 171.1L272.7 170.3L271.0 169.4L271.3 167.8L269.6 166.7ZM271.2 173.2L275.2 171.6L278.6 171.3L277.7 172.1L274.4 173.7ZM277.2 170.6L281.1 169.4L283.3 169.3L283.2 170.3L281.1 170.6L278.6 170.6ZM247.8 158.5L249.4 157.9L246.8 153.2L244.8 153.7L246.5 156.3ZM200.9 133.6L203.4 131.8L207.6 130.9L211.8 131.8L209.3 133.4L204.2 134.1ZM205.1 140.2L211.0 140.4L216.1 140.5L221.1 139.4L227.0 137.7L222.8 137.8L217.8 138.7L212.7 139.4L207.6 139.4ZM495.8 175.7L495.1 174.0L493.9 172.8L492.4 171.1L492.4 168.3L491.0 168.4L492.4 166.7L495.1 165.4L497.4 164.9L500.0 164.7L502.0 165.7L501.7 167.2L498.8 167.4L498.8 168.6L501.2 170.3L501.3 172.5L503.0 172.1L504.5 174.0L503.2 174.5L501.5 174.0L501.7 175.4L502.9 177.0L501.8 177.4L503.0 179.6L503.2 180.9L500.5 181.8L498.0 181.3L495.2 180.3L494.9 178.7ZM511.1 165.6L515.0 165.6L516.0 168.1L513.8 170.1L511.0 168.3ZM587.9 156.6L590.9 156.3L594.6 153.4L597.3 149.7L595.5 150.0L592.6 153.9ZM465.8 244.3L467.9 243.3L469.6 244.3L469.6 246.3L467.9 248.0L465.5 246.8ZM461.4 249.4L462.1 249.4L463.6 253.9L464.7 258.2L463.8 258.3L462.1 254.8L461.3 251.4ZM469.6 259.9L470.4 260.0L471.1 263.2L471.6 267.1L470.6 267.8L470.1 264.1L469.6 261.5ZM462.8 140.7L465.3 139.9L467.5 140.2L467.0 141.9L464.5 142.4L462.8 141.6ZM470.4 137.7L472.1 137.8L473.8 139.7L471.8 140.5L469.9 139.4Z" fill="rgba(255,255,255,0.2)" stroke="none"/>
<path d="M128.2 132.9L130.2 128.4L136.6 125.8L147.6 123.3L155.2 124.1L161.1 125.0L170.4 125.3L177.2 126.2L184.0 126.3L189.0 126.0L195.8 125.2L200.9 126.5L209.3 126.5L217.8 127.7L226.2 128.5L229.6 128.0L236.3 128.9L246.5 128.9L249.9 127.5L253.2 123.0L256.6 126.3L261.7 127.5L266.8 128.0L273.5 126.7L274.4 130.1L268.5 131.4L265.1 135.1L260.0 136.5L254.9 139.9L252.4 143.2L253.2 144.6L255.8 147.1L260.0 147.5L263.4 148.8L268.5 150.5L273.0 150.7L273.5 154.2L276.9 157.1L278.6 155.9L278.6 151.9L282.3 148.3L282.0 144.1L280.3 141.6L280.3 138.3L285.4 138.5L290.4 139.4L293.8 140.7L294.6 143.6L297.2 145.1L300.6 144.1L302.2 141.9L304.3 144.1L307.3 146.6L308.7 148.8L310.7 150.0L314.9 151.7L317.5 155.1L315.4 156.8L310.7 159.0L303.9 158.8L299.7 159.1L295.5 161.8L293.0 163.7L297.2 161.3L303.1 161.2L302.2 163.5L302.6 165.0L303.9 165.9L308.2 166.7L310.7 165.9L309.0 167.2L304.8 168.4L300.9 169.9L300.6 167.8L298.9 168.3L296.3 169.1L293.8 170.1L292.6 171.8L293.6 173.2L291.3 173.8L287.4 175.0L287.0 177.0L285.4 178.4L283.7 179.2L283.2 181.3L284.2 183.3L282.8 185.2L280.3 186.5L278.3 187.7L275.5 189.6L274.5 192.3L275.9 196.0L276.9 199.0L276.4 201.0L275.0 201.4L273.9 199.5L272.3 197.3L272.2 195.1L270.6 193.3L267.9 193.6L265.9 192.4L262.5 192.4L260.8 192.8L261.4 194.6L259.2 194.6L257.0 193.9L254.1 193.6L251.9 194.3L249.0 196.0L247.7 197.5L247.8 199.9L247.0 202.4L246.8 205.6L247.8 209.0L249.4 211.2L251.6 212.5L253.2 213.0L255.8 212.4L258.0 212.4L259.2 210.5L259.3 208.3L262.5 207.5L265.1 207.5L264.2 209.7L264.2 212.4L263.0 214.2L262.4 217.1L264.2 217.1L267.6 216.9L270.1 217.9L271.3 219.1L271.0 222.7L270.8 225.2L272.2 226.9L274.4 228.8L276.9 228.1L279.4 227.9L281.1 229.1L282.3 229.3L283.7 227.4L284.5 225.9L286.2 225.2L288.4 224.7L290.4 223.5L291.6 222.8L291.1 225.2L291.8 227.7L290.4 226.1L293.5 224.2L296.3 225.4L300.6 225.9L303.6 225.9L306.5 225.9L307.7 227.1L309.3 229.3L311.0 229.8L313.2 232.0L315.8 233.7L319.2 233.8L321.7 234.3L324.2 235.9L325.4 236.7L326.8 240.4L327.4 243.0L328.4 244.1L330.5 245.2L332.7 245.0L336.1 246.3L337.7 248.2L341.1 248.5L344.5 248.7L347.0 250.1L349.6 252.1L352.4 252.8L353.1 256.5L353.0 259.0L350.4 261.7L348.7 264.1L346.4 266.6L346.2 270.0L345.7 273.4L344.8 276.9L343.0 280.8L341.1 282.7L336.9 283.0L333.5 284.4L331.0 286.6L330.0 289.3L329.6 292.1L327.6 294.5L325.6 297.5L323.4 300.1L321.5 301.6L319.5 302.8L317.0 302.8L314.4 301.9L313.4 301.1L315.4 303.5L315.1 305.5L316.1 306.2L314.6 308.5L311.5 309.4L307.0 309.5L306.8 312.2L304.3 313.3L302.1 313.1L303.3 315.6L304.4 315.1L302.2 316.5L301.6 319.7L298.0 322.0L300.7 324.6L297.5 328.1L295.5 330.8L296.5 332.4L293.8 332.9L291.8 334.9L289.6 334.2L286.5 332.0L284.8 329.1L284.7 325.8L286.2 322.9L284.5 321.5L286.0 319.0L288.1 317.3L287.2 314.4L288.1 310.0L287.7 306.7L289.6 303.8L291.1 299.6L291.4 295.3L291.6 292.0L292.4 288.2L293.0 283.5L293.6 279.3L293.3 275.1L291.3 273.0L287.9 271.3L284.5 269.2L283.2 267.0L281.5 264.1L279.9 261.2L277.7 257.3L275.9 254.8L274.9 253.6L274.7 251.1L276.4 249.5L277.2 247.7L275.4 247.0L276.1 244.6L276.9 242.4L278.8 241.4L279.4 239.6L281.1 237.2L281.5 234.5L281.1 232.3L279.9 230.4L278.3 228.8L276.2 229.9L276.9 231.3L274.9 231.0L272.7 229.8L270.6 229.1L267.6 227.6L267.1 225.5L265.4 223.4L264.2 222.0L261.4 221.0L257.5 220.1L254.9 218.1L252.4 216.4L249.0 217.3L245.6 216.3L241.7 214.7L238.9 213.4L235.5 211.9L233.6 209.3L234.1 207.1L233.5 205.3L231.3 202.9L228.7 200.9L227.2 198.8L225.2 196.8L223.2 195.0L221.5 192.6L220.6 190.9L218.3 190.4L218.8 192.8L220.8 195.1L222.3 197.3L224.2 199.9L225.4 202.4L226.5 203.9L227.2 204.6L226.0 205.1L224.7 203.2L222.5 201.9L222.5 199.9L220.5 198.5L219.1 197.2L218.4 194.8L216.4 192.6L214.9 190.4L214.0 188.5L212.2 186.8L210.3 185.8L208.3 185.3L207.8 183.8L206.1 181.9L205.1 179.9L204.2 179.1L202.9 177.0L201.9 175.5L202.4 173.3L201.7 171.3L202.4 168.6L202.5 165.6L201.5 162.8L201.4 162.0L203.9 162.3L204.7 164.0L205.2 161.7L204.6 161.0L202.9 159.6L200.9 158.8L198.3 157.6L196.6 155.9L195.3 153.7L192.9 151.9L191.6 149.7L189.2 148.1L186.5 145.8L183.1 143.8L181.4 145.3L178.9 144.3L175.8 143.1L173.1 142.6L169.6 142.2L165.5 141.4L162.8 141.4L160.8 142.4L158.1 143.2L155.7 143.6L157.1 141.6L158.6 140.4L156.1 141.0L153.5 142.7L151.5 144.1L153.0 145.1L150.3 146.5L147.6 147.8L143.9 149.3L140.9 150.0L137.5 151.0L134.1 151.7L137.5 149.8L141.4 148.5L144.4 147.0L146.4 144.8L143.6 144.8L140.9 144.6L138.3 144.8L137.8 142.6L134.6 142.2L132.9 140.9L131.7 139.4L133.3 137.8L134.3 137.0L137.6 136.5L140.0 135.5L140.2 134.3L137.1 134.8L134.1 134.6L131.2 134.6L130.4 133.4ZM288.7 111.3L293.0 113.3L299.7 115.4L309.0 115.2L313.2 116.0L315.8 117.9L317.5 120.3L319.2 122.1L319.7 124.1L324.2 124.8L325.1 126.0L321.3 126.5L322.2 128.5L321.3 130.7L322.0 132.4L324.1 134.1L325.6 136.1L327.3 137.8L329.0 139.5L330.6 140.9L333.5 141.4L335.7 142.2L338.4 142.6L339.9 141.0L340.6 139.2L342.1 137.5L344.0 135.5L345.2 133.6L348.4 132.8L351.9 132.4L355.3 129.7L358.0 128.7L362.9 128.4L368.2 128.0L372.4 126.2L374.6 124.8L372.4 124.3L375.3 122.8L374.6 121.1L377.3 119.9L377.5 118.1L379.7 117.7L378.8 115.5L380.8 114.0L378.0 112.7L380.7 111.3L380.0 109.4L382.5 108.3L385.9 106.7L380.0 105.7L371.5 104.7L361.4 103.7L347.9 102.7L334.4 103.9L324.2 104.9L314.1 105.4L306.5 105.9L302.2 107.4L298.5 108.3L292.4 109.8ZM276.1 119.2L282.0 120.9L288.7 122.8L292.1 124.3L296.3 125.3L298.9 126.7L297.5 128.4L303.4 130.2L306.8 130.9L304.3 133.6L301.9 135.1L302.6 136.8L299.7 137.7L296.3 138.0L291.8 136.5L288.1 135.1L284.0 135.0L280.3 133.6L287.0 131.4L288.4 129.0L284.8 128.0L282.3 126.7L279.8 125.7L275.2 126.2L271.3 125.8L265.9 125.0L261.7 123.5L260.5 121.6L263.4 119.6L267.4 119.9L270.1 119.2ZM249.9 107.8L258.3 106.6L270.1 104.5L283.7 103.4L300.6 103.9L308.2 104.5L303.9 106.4L294.8 108.1L287.0 109.4L283.2 111.0L284.5 112.0L278.6 113.7L273.5 114.7L265.1 114.9L260.8 114.3L261.7 113.0L264.2 112.0L258.3 111.5L254.1 109.8L251.6 108.6ZM256.6 114.5L263.4 114.5L273.5 114.5L277.1 117.4L266.8 117.7L257.5 117.7L252.4 116.2ZM211.0 122.5L212.3 120.4L218.6 120.1L225.4 120.4L231.3 119.9L234.7 120.8L237.2 123.5L240.4 125.8L237.2 127.9L232.1 127.4L227.9 128.4L220.8 128.4L216.1 126.9L211.8 125.8L212.7 124.0ZM200.0 120.9L201.7 118.4L207.6 118.1L214.0 119.2L216.4 120.6L210.1 122.8L203.7 123.5L199.3 122.3ZM213.5 115.2L222.8 114.7L232.1 115.2L233.8 116.7L227.9 117.2L221.1 117.9L214.4 117.4L213.0 116.2ZM238.9 119.8L244.8 119.1L248.5 120.4L247.3 122.5L242.3 121.4ZM250.2 119.1L256.6 118.6L259.3 119.9L257.0 121.8L252.4 121.6ZM247.3 107.2L255.8 106.6L265.9 108.1L260.8 110.3L256.6 111.3L250.7 109.4ZM242.3 114.5L248.2 114.3L249.0 116.4L243.9 116.9L241.4 115.7ZM245.6 125.3L249.0 125.8L250.7 127.5L247.3 128.0L244.8 126.9ZM265.9 132.1L271.0 133.1L275.2 135.5L271.8 136.1L267.6 137.2L264.7 135.3L266.3 133.6ZM271.8 137.5L274.4 138.2L272.3 138.9L270.3 138.3ZM311.7 163.4L313.7 160.8L314.9 158.3L317.8 156.6L318.3 159.3L321.2 160.1L321.7 162.3L322.9 163.4L322.4 164.9L320.8 164.5L318.3 164.5L316.6 163.4L312.4 163.4ZM371.0 133.1L374.1 131.6L377.8 132.1L382.5 131.9L386.8 131.8L389.1 133.4L387.3 135.0L383.4 136.0L380.0 136.7L375.8 136.0L373.9 135.6L374.9 134.6L371.9 134.1ZM268.6 206.8L271.8 205.1L274.7 204.6L277.4 205.3L280.3 206.3L282.8 208.0L285.4 208.8L286.7 209.7L284.5 210.2L280.8 210.2L281.6 209.0L279.4 207.5L276.1 206.6L273.5 206.1L271.5 206.6L269.5 207.5ZM286.4 210.2L289.1 210.2L292.1 210.2L294.1 211.2L296.5 212.4L294.6 212.9L291.6 214.1L289.6 213.0L286.4 212.9L289.1 212.5L289.2 211.0ZM279.8 212.7L282.1 212.7L283.3 213.4L281.6 213.9L279.8 213.0ZM298.5 212.5L301.2 212.7L301.2 213.4L298.5 213.4ZM402.6 183.0L401.5 181.6L399.6 180.9L397.1 181.3L397.2 179.1L396.0 178.2L396.9 176.5L397.4 174.0L397.1 172.5L396.4 171.1L398.6 169.9L402.0 170.1L405.3 170.5L409.1 170.5L409.9 168.6L410.1 165.9L408.4 164.2L404.8 163.0L404.2 162.0L407.0 161.3L409.4 161.7L408.9 159.8L410.1 160.3L412.4 160.1L414.6 159.0L414.8 157.8L416.3 157.4L417.8 156.9L419.2 155.9L420.0 154.4L421.4 153.6L423.9 153.4L426.5 153.2L426.8 152.0L426.6 150.2L425.8 148.3L426.5 147.3L429.8 146.3L429.8 147.3L429.5 148.5L430.5 148.8L429.5 149.8L428.7 150.9L429.0 151.5L430.5 151.9L430.7 152.5L433.2 151.9L435.1 152.4L436.3 152.7L439.1 152.0L441.7 151.2L443.7 151.7L445.2 151.9L446.4 151.0L447.8 150.3L447.6 148.8L447.8 147.8L448.6 146.8L450.3 146.1L452.0 147.5L453.3 147.0L453.2 145.1L451.8 144.6L451.8 143.8L455.2 143.2L459.4 143.2L463.1 142.6L461.1 142.1L458.6 141.6L454.4 142.1L451.0 142.6L448.1 141.2L448.4 139.5L448.3 137.5L450.1 136.0L454.0 134.1L455.0 133.8L453.5 132.6L449.8 132.6L447.9 134.1L447.8 135.3L445.6 136.3L442.9 137.7L441.3 139.0L441.2 140.9L443.7 142.2L443.2 143.6L440.2 146.1L439.8 148.1L439.1 149.0L436.4 149.8L434.1 150.2L433.4 148.7L432.2 146.8L431.2 144.8L430.9 143.8L429.8 143.1L429.5 144.1L428.0 144.4L425.6 145.6L423.3 145.6L421.6 144.8L420.9 143.4L420.6 141.6L420.6 139.4L422.2 138.2L424.9 137.3L427.3 136.3L429.5 135.0L431.7 134.0L433.2 132.3L434.9 130.4L436.8 128.9L439.1 127.9L441.3 127.0L443.0 126.0L445.9 125.5L448.4 125.2L451.8 124.5L455.2 123.8L458.6 123.8L461.1 124.3L464.3 125.5L465.0 125.8L467.9 126.5L471.2 126.9L474.6 127.5L478.9 128.9L481.6 130.1L481.4 131.8L478.9 132.1L474.6 131.9L470.9 132.3L470.4 134.0L471.2 135.0L473.8 135.6L475.5 136.0L476.3 134.8L479.4 134.6L481.4 134.0L483.9 132.3L486.1 131.8L486.5 129.0L485.6 127.9L489.8 128.4L490.7 129.4L494.1 129.4L498.3 128.7L501.7 127.7L504.2 128.4L509.3 128.0L512.7 128.2L514.3 126.9L515.2 125.8L519.1 126.5L522.8 127.0L526.2 127.9L527.5 128.5L528.7 127.4L527.4 126.3L525.3 125.7L525.0 124.1L525.7 123.1L527.7 122.0L529.4 120.4L532.1 120.4L535.0 120.9L534.5 123.3L536.5 125.7L535.8 127.7L533.3 130.7L534.6 131.6L537.2 129.7L538.2 127.4L536.1 125.7L537.2 123.6L535.8 122.6L539.2 121.4L539.7 123.3L543.1 121.8L546.3 121.8L548.3 119.4L551.5 119.4L555.8 119.6L558.5 118.7L558.1 117.7L560.0 117.1L563.4 116.2L567.6 115.7L572.6 115.2L577.7 115.0L582.1 114.0L587.9 112.5L592.3 113.5L591.2 114.3L595.5 114.3L600.5 114.7L603.9 115.5L603.1 117.1L600.2 118.1L596.6 118.7L599.0 119.4L603.1 118.9L607.3 119.2L613.2 120.3L620.0 120.4L625.9 119.8L629.3 120.6L631.0 123.0L634.0 124.1L636.9 123.1L641.1 122.8L645.3 122.8L648.4 121.4L651.2 120.8L654.6 121.1L659.7 121.6L664.8 122.0L669.0 124.0L674.0 123.8L679.1 124.0L682.0 124.7L683.3 126.2L687.6 126.0L692.6 126.3L696.0 125.7L700.2 125.3L703.6 125.7L707.9 125.7L713.8 126.5L716.3 127.4L719.7 128.2L723.1 129.6L726.4 130.2L730.7 131.2L733.7 132.1L732.4 133.3L729.0 133.6L728.1 135.1L725.6 134.8L721.4 134.3L718.0 133.3L714.6 134.0L712.1 134.5L713.8 135.6L714.1 136.8L715.3 137.7L713.8 138.3L711.2 138.2L707.0 139.4L703.6 140.4L701.1 141.6L698.6 142.1L696.0 141.6L692.6 141.9L691.0 142.4L688.4 142.7L687.9 144.1L685.9 145.8L686.0 146.5L687.9 147.1L687.2 148.8L685.9 149.2L685.5 150.7L683.3 152.2L682.5 153.9L680.0 154.4L679.5 156.1L677.1 157.6L676.2 155.6L675.6 153.4L674.9 150.5L675.6 147.8L677.1 146.3L679.8 145.8L682.7 144.3L685.0 142.1L688.8 140.5L689.3 138.5L687.9 138.3L685.9 139.4L683.3 139.5L682.7 140.7L681.1 139.4L677.4 139.7L674.0 140.9L672.7 142.7L670.3 143.8L667.8 143.2L665.3 143.1L663.1 143.8L658.0 143.6L653.8 143.6L650.9 144.8L648.9 145.9L645.3 148.3L642.8 150.9L640.2 151.4L644.1 152.5L644.0 153.4L647.0 152.4L649.5 153.2L651.1 155.6L649.7 158.5L649.4 161.3L647.7 163.2L645.7 165.0L643.6 166.9L641.1 169.1L638.6 170.6L636.5 171.3L633.8 171.8L632.6 172.3L631.3 174.5L628.9 176.2L627.6 177.0L629.3 179.1L630.8 181.3L631.0 183.6L630.1 184.5L627.4 185.3L625.9 185.7L625.5 183.8L626.1 181.6L625.2 180.1L623.7 180.1L623.0 178.7L623.9 177.0L622.2 176.4L619.8 176.9L617.6 178.1L617.1 176.9L618.3 175.5L617.1 174.7L614.9 175.9L613.2 177.4L611.5 177.6L610.8 178.6L611.7 179.6L613.0 180.6L614.2 181.1L616.3 179.9L618.1 180.4L619.3 180.9L617.3 181.6L615.7 182.8L614.1 184.3L613.5 185.5L615.4 185.8L616.3 188.0L617.4 189.4L618.1 190.2L616.6 191.9L618.1 193.1L617.4 195.1L615.9 197.3L614.4 199.9L613.0 201.6L611.4 202.4L609.8 203.7L607.8 205.3L605.3 206.1L603.6 206.3L601.4 207.1L599.2 207.6L598.5 209.3L597.7 207.6L595.5 207.1L593.4 208.0L592.1 209.2L590.9 211.2L590.7 212.5L592.1 214.1L593.6 215.6L595.1 217.1L596.1 218.8L596.8 221.2L596.6 223.9L595.5 225.0L593.6 226.1L592.4 226.6L591.9 227.7L590.4 228.9L589.5 229.3L589.2 227.6L588.7 226.2L586.8 225.9L585.5 223.7L584.8 222.7L582.8 222.3L582.6 221.0L581.1 221.2L580.4 223.0L579.9 225.2L579.7 227.6L580.9 228.3L581.6 230.4L581.9 231.6L583.3 232.3L584.6 233.3L586.2 234.5L586.8 235.7L587.0 237.4L586.8 239.1L587.7 239.9L588.4 241.4L587.0 241.6L585.5 240.6L583.5 239.1L582.5 237.2L581.8 235.7L581.6 234.2L581.3 232.8L580.3 231.6L579.2 230.3L578.6 229.6L578.2 227.7L578.7 226.1L578.7 223.7L578.9 221.5L577.7 219.0L577.2 216.6L576.4 215.2L575.2 215.9L573.3 217.1L571.8 216.8L571.3 215.4L572.0 213.4L571.1 211.9L570.1 211.0L568.8 209.2L567.9 207.8L567.4 206.3L566.6 205.3L565.0 205.3L564.0 206.6L562.5 206.8L561.3 207.3L559.6 207.3L558.5 209.5L556.6 210.7L555.2 211.5L554.1 212.9L552.0 215.1L551.0 215.9L549.5 216.9L547.8 217.8L547.5 220.5L547.8 221.8L547.1 223.5L547.1 226.2L546.1 226.4L545.4 227.7L544.4 228.8L543.1 230.1L541.6 228.8L540.7 226.9L540.0 224.7L539.0 222.5L538.2 220.3L537.3 218.1L536.3 216.6L535.6 214.1L535.1 211.4L535.3 209.7L534.8 207.8L534.8 206.3L533.4 207.1L532.4 208.3L531.2 208.5L529.6 207.5L528.7 206.1L530.7 205.3L529.6 204.9L528.0 204.6L527.4 203.7L526.0 203.4L525.5 202.1L524.5 200.9L521.1 201.2L517.9 201.2L516.0 201.4L512.8 200.9L511.0 200.5L509.1 200.4L508.3 198.3L507.4 197.8L506.1 198.3L504.5 199.0L502.5 198.5L500.8 197.2L499.1 196.6L498.0 195.1L496.8 192.9L495.9 193.1L494.7 192.6L493.2 193.1L493.6 193.9L494.6 197.0L495.8 198.0L496.9 198.8L496.9 200.5L498.0 201.9L498.8 199.7L499.3 201.2L499.0 202.2L500.1 203.4L502.3 202.9L504.5 201.9L505.7 200.9L506.9 199.7L507.4 199.2L507.4 201.7L509.1 203.4L511.3 203.9L512.7 205.4L513.2 206.1L512.3 207.6L511.0 209.3L509.8 211.5L508.9 211.9L507.8 212.4L505.6 214.1L502.9 215.4L500.7 216.1L500.3 217.4L497.4 218.5L495.1 219.3L493.1 220.1L491.0 221.2L488.5 221.8L486.5 222.5L485.3 222.3L485.1 221.5L484.4 218.8L484.4 216.9L484.1 215.4L483.6 214.9L482.4 212.2L481.2 210.8L479.4 209.5L478.2 207.8L478.0 205.6L477.2 203.7L475.5 202.7L475.0 201.4L473.3 198.8L471.4 196.3L470.6 196.3L470.9 195.3L471.1 193.9L470.1 196.5L469.4 197.0L468.0 195.8L467.2 193.3L466.7 190.9L469.6 191.1L470.6 190.4L471.2 188.4L472.1 186.5L472.8 184.3L472.6 183.3L473.3 181.9L472.3 181.9L470.7 181.6L468.7 182.6L467.0 182.8L465.7 181.9L463.8 181.8L462.3 182.8L460.6 181.8L458.7 181.8L457.9 180.1L456.5 179.2L457.4 177.9L456.4 177.0L456.5 176.0L457.6 175.2L459.4 175.5L461.4 174.7L461.3 174.2L459.6 173.5L460.8 174.3L458.1 175.0L456.7 175.2L456.2 174.8L455.0 174.7L453.2 174.8L452.2 175.0L450.8 175.4L451.5 176.4L450.3 175.7L450.6 176.9L451.0 177.9L450.5 178.2L451.8 178.9L452.7 179.6L451.0 179.7L451.3 180.8L450.6 182.1L449.4 181.3L448.6 181.6L447.9 180.3L448.6 178.9L447.1 177.9L446.2 176.9L445.7 176.2L444.9 175.4L445.1 173.3L444.0 172.3L441.7 171.1L439.8 170.3L438.5 169.4L437.5 168.1L436.4 167.2L435.3 167.6L435.1 166.4L433.4 166.9L432.9 167.4L433.2 168.4L433.1 169.3L434.9 170.1L435.9 171.8L437.6 173.0L439.1 173.5L441.5 174.7L443.4 176.0L443.0 176.5L441.2 175.5L440.5 175.7L439.8 176.9L441.0 178.1L440.2 178.7L439.3 179.6L438.6 179.6L439.0 178.4L439.3 177.2L438.6 176.2L437.5 175.9L436.9 175.2L435.8 174.8L435.1 174.2L433.9 174.0L432.7 173.2L431.0 172.3L429.8 171.3L429.3 169.6L428.5 169.3L427.1 168.8L426.3 169.1L424.8 169.8L423.1 171.0L421.1 170.6L419.7 170.5L417.3 171.0L417.5 172.1L417.3 173.0L415.6 174.0L413.5 174.5L413.3 175.2L412.1 176.4L411.6 177.4L412.3 178.4L411.3 179.1L410.9 180.3L409.7 180.6L408.6 181.8L406.4 181.8L404.7 181.8L403.7 182.5L403.0 182.8ZM402.5 159.1L404.5 158.8L407.0 158.1L409.6 158.1L412.6 157.9L414.5 157.3L413.3 156.8L415.0 154.7L412.8 154.4L412.4 153.6L411.6 152.5L410.1 151.5L409.4 149.8L408.0 149.2L406.7 149.0L408.7 148.1L409.1 146.5L406.7 146.3L405.3 145.8L407.0 144.8L403.7 144.8L403.3 145.8L402.5 146.8L402.6 148.1L401.6 148.7L402.6 150.0L403.7 149.5L404.0 150.9L403.5 151.2L406.2 151.0L406.7 152.2L407.0 153.6L404.3 153.7L405.0 155.4L403.5 156.1L405.0 156.6L406.7 156.9L405.7 157.3L404.0 157.8L403.3 158.6ZM402.0 155.6L402.0 153.7L401.6 152.7L402.6 151.9L402.0 150.7L399.8 150.3L398.1 150.7L397.7 151.9L395.2 152.2L395.4 153.6L396.6 154.2L395.5 155.6L394.7 156.1L396.0 156.8L397.9 156.6L399.9 155.8ZM428.0 171.1L428.2 172.8L427.6 173.8L426.6 173.0L426.8 171.8ZM428.5 174.3L428.7 176.2L428.3 177.6L426.6 178.1L426.3 176.5L426.0 174.7ZM433.1 179.4L438.5 179.1L437.6 181.8L436.3 181.3L433.2 180.3ZM451.8 183.6L456.5 184.1L456.2 184.7L453.2 184.3L451.8 184.1ZM466.7 184.5L470.6 183.5L469.4 184.7L467.5 185.3ZM430.7 109.4L437.5 108.6L442.5 108.1L449.3 107.9L457.7 108.3L457.7 110.0L447.6 111.1L443.4 113.7L439.1 114.0L435.8 112.7L431.5 111.1ZM500.0 123.0L503.4 120.4L505.1 117.9L508.4 116.2L513.5 114.9L520.3 113.7L527.9 113.7L525.3 115.0L516.9 116.2L510.1 118.2L507.6 121.3L510.1 123.8L508.4 124.5L502.5 124.1ZM572.6 110.3L579.4 107.8L587.9 109.8L582.8 111.6L574.3 111.3ZM641.9 118.2L650.4 119.1L654.6 119.9L666.4 117.7L658.8 116.2L648.7 116.2L643.6 116.7ZM466.7 190.9L464.5 190.4L462.8 190.7L460.8 191.6L458.6 190.9L454.7 190.4L452.7 189.7L451.0 188.5L448.4 188.2L446.1 189.4L445.6 191.4L443.4 192.3L440.8 191.4L438.6 190.7L437.8 189.2L434.9 188.2L432.2 187.9L430.9 187.5L429.5 186.7L430.4 185.0L430.9 184.3L430.0 183.3L430.5 181.8L429.3 180.9L428.2 180.8L426.3 181.4L423.9 181.3L421.1 181.9L417.5 181.6L414.6 181.9L412.1 183.1L410.1 183.5L408.4 184.3L406.0 184.0L404.3 184.1L403.3 183.3L402.1 183.3L401.6 184.5L400.6 186.2L398.9 186.8L397.6 187.7L396.4 188.7L395.5 191.1L395.9 192.8L394.7 194.1L392.8 196.0L390.8 196.6L389.8 198.0L388.6 199.2L387.6 200.9L387.1 202.6L386.1 203.9L385.1 204.3L384.6 205.9L383.5 207.5L383.2 208.5L384.2 209.7L384.6 211.4L384.9 213.2L384.2 215.7L383.9 217.4L383.0 218.6L382.7 219.0L383.9 221.0L383.7 222.7L384.9 223.5L386.2 224.9L387.3 225.9L388.4 227.1L389.8 228.6L391.1 230.4L392.7 232.0L394.4 233.2L395.9 234.3L398.1 235.9L399.4 236.4L401.1 235.9L403.7 235.2L405.3 235.0L407.2 235.4L408.9 235.7L410.4 234.8L412.6 234.0L414.1 233.5L416.2 233.2L418.2 233.2L419.5 233.2L421.2 235.0L422.2 236.5L423.9 236.4L426.1 236.2L427.0 236.4L428.2 237.4L428.7 238.9L428.7 240.6L428.0 242.1L427.8 243.3L427.5 244.5L428.5 246.8L429.8 248.9L431.0 250.4L432.2 252.2L432.9 254.1L433.9 256.5L434.4 258.3L434.9 260.2L435.4 262.4L435.1 264.1L433.7 266.8L432.7 268.1L432.2 271.9L431.9 273.5L432.9 275.9L434.2 277.9L435.1 279.3L436.4 281.8L436.6 284.4L437.3 286.9L437.8 289.3L439.0 291.1L439.8 292.1L441.0 293.8L441.8 295.9L443.0 297.9L442.9 299.7L443.2 301.1L443.9 301.8L445.2 302.6L446.1 302.6L448.4 301.8L450.3 301.3L452.0 301.1L454.4 301.1L455.7 300.8L457.4 300.4L458.7 299.6L460.1 298.6L461.6 297.0L463.0 295.5L464.5 293.7L466.5 292.1L467.0 290.6L467.5 288.9L467.2 287.4L468.4 286.4L470.9 285.5L472.1 284.0L472.1 281.8L471.6 280.1L470.9 277.8L471.6 276.6L473.4 275.2L475.3 273.5L477.0 272.7L479.2 271.2L480.5 269.5L480.7 267.5L480.5 264.9L480.5 262.1L479.5 260.7L478.7 258.2L478.5 256.1L477.7 254.6L477.8 253.3L478.5 251.7L479.2 250.6L480.2 248.4L481.2 247.3L482.4 246.7L483.8 245.2L485.1 243.3L486.6 241.9L488.7 240.4L490.5 238.9L492.5 236.4L494.1 234.2L495.4 232.1L496.8 229.8L497.8 227.9L498.6 225.9L498.5 223.9L497.3 224.0L495.8 224.5L493.7 224.7L492.2 224.9L490.3 225.7L487.6 226.2L486.1 225.5L485.3 224.4L484.8 223.0L483.9 222.3L482.7 221.0L481.6 219.6L480.4 218.5L479.0 217.6L478.2 215.7L477.3 213.5L476.0 212.4L475.1 210.2L475.0 208.3L474.5 206.6L472.4 205.1L472.3 203.4L471.4 201.7L470.6 200.2L469.6 198.7L468.9 197.5L468.4 196.5L467.4 194.3L467.2 193.3ZM495.4 264.1L496.4 266.1L497.3 269.5L496.9 271.0L495.8 273.2L495.1 275.9L494.1 278.4L493.1 281.7L492.2 284.9L490.3 286.2L488.5 286.9L486.8 285.9L486.0 283.7L485.3 281.5L485.8 279.5L487.1 277.6L486.8 275.2L486.5 273.2L487.1 271.3L489.2 270.7L491.2 269.5L492.7 268.5L493.7 266.8L494.7 265.1ZM547.1 227.4L548.7 228.3L550.3 231.0L550.3 232.6L549.0 233.7L547.5 233.5L546.8 231.1L547.1 228.9ZM651.2 173.8L651.9 175.5L652.2 177.0L651.4 179.1L650.4 179.6L650.2 181.3L649.9 183.0L650.1 184.3L648.5 184.7L648.2 183.8L647.2 184.3L646.5 185.3L645.3 185.3L644.0 185.3L643.3 184.7L642.8 185.7L643.5 186.5L641.6 187.2L640.4 185.8L640.9 185.2L638.9 185.2L636.9 185.7L635.5 186.5L635.0 187.0L634.8 188.2L634.2 190.6L633.0 191.4L632.1 190.9L632.5 189.2L631.5 188.5L631.1 187.5L632.5 186.5L633.3 186.3L634.5 185.3L636.4 184.0L637.5 183.8L639.6 183.6L641.6 183.6L642.4 182.5L643.1 181.1L643.5 180.6L644.1 181.6L645.5 181.1L646.8 179.9L647.7 179.1L648.5 177.7L648.7 176.4L648.5 175.2L649.2 174.2ZM636.0 188.0L637.4 187.4L638.9 187.5L639.7 186.7L639.4 186.0L637.7 185.8L636.0 186.5ZM648.7 173.7L650.7 173.2L650.4 172.0L651.7 171.8L654.3 172.8L656.3 171.3L658.2 170.6L657.3 169.3L654.6 168.9L651.9 166.9L651.6 168.3L650.9 170.3L649.4 170.6L649.0 172.5ZM652.4 152.0L653.4 153.4L654.3 155.1L654.1 157.1L654.8 159.1L656.3 161.0L654.1 160.7L653.1 162.8L654.6 165.2L652.9 165.0L651.9 165.9L652.2 163.0L651.9 160.3L652.4 157.6L651.6 155.2L651.4 153.7ZM616.6 201.2L618.1 201.6L617.6 203.4L616.9 205.3L616.3 206.8L615.4 205.8L615.1 204.1L615.7 202.4ZM595.6 211.4L597.0 210.0L599.0 209.8L599.7 210.5L598.8 212.2L597.3 213.0L595.8 212.5ZM615.9 212.5L617.4 212.4L618.6 212.7L618.8 214.9L617.6 216.9L617.6 218.1L618.6 219.3L620.0 220.3L621.8 221.8L621.5 222.5L620.5 221.7L619.1 221.0L617.6 220.3L616.3 219.8L615.9 218.5L614.7 216.9L615.4 216.4L615.6 214.2ZM618.3 232.1L619.6 231.3L621.0 230.6L622.0 229.9L624.0 227.2L624.2 228.6L625.7 229.6L626.1 231.6L625.4 233.2L624.2 234.3L623.7 233.5L622.0 233.3L621.5 232.1L620.5 231.1L619.6 231.6ZM622.2 222.7L623.7 222.7L624.5 225.2L623.4 226.7L622.2 225.7ZM618.1 223.7L620.3 224.7L621.8 225.2L621.2 227.6L619.1 228.3L618.4 226.1ZM610.2 229.6L612.4 227.6L614.2 224.5L614.2 226.1L612.0 228.6L611.0 229.9ZM596.3 241.3L597.3 240.4L598.5 240.9L599.7 241.1L601.0 238.9L603.1 238.4L604.6 236.2L606.3 235.5L607.3 235.0L608.5 233.3L609.3 232.1L610.8 233.0L612.4 234.2L613.5 234.8L612.2 235.5L611.4 236.9L610.8 238.6L611.5 239.9L611.4 241.3L613.0 242.3L611.2 242.4L610.7 244.0L609.7 246.2L609.0 248.0L608.5 250.4L606.8 250.4L605.6 249.7L604.3 249.5L602.2 249.5L600.9 248.9L599.7 248.9L598.3 248.7L598.2 246.7L597.2 245.5L596.5 244.3L596.3 242.8ZM573.2 234.3L575.2 235.0L576.9 235.0L578.4 236.7L580.3 238.4L582.1 240.3L583.3 240.4L585.3 241.8L587.0 243.5L587.5 245.3L588.7 246.7L589.4 247.7L590.6 248.9L591.4 249.2L590.9 251.4L590.9 253.6L589.0 253.8L588.0 252.6L585.5 250.9L583.5 248.5L582.1 246.5L581.3 244.8L579.9 243.5L579.2 241.1L577.7 239.7L576.4 238.2L575.0 237.2L573.3 235.5ZM589.9 255.3L591.2 253.8L592.9 253.8L595.1 254.3L597.2 255.3L598.8 255.5L600.2 255.0L602.4 255.5L602.7 256.6L605.6 257.0L605.6 258.5L603.6 257.8L600.5 257.8L598.3 257.5L595.8 256.6L592.9 256.3L591.9 256.1L590.2 255.3ZM606.5 257.5L608.3 258.0L610.2 258.0L612.0 258.0L614.6 258.0L616.6 258.2L619.6 257.8L619.6 258.5L616.6 258.8L614.2 258.7L611.5 258.8L609.0 258.8L607.0 258.7ZM621.0 261.2L623.2 259.2L625.0 258.2L627.2 258.0L625.5 259.0L623.2 260.5L621.7 261.4ZM613.7 253.1L614.2 251.1L614.1 249.7L612.9 248.4L613.9 246.0L614.6 243.8L615.1 242.6L616.4 241.6L619.1 242.1L621.7 242.3L623.0 241.3L623.7 241.4L622.3 243.1L620.5 243.3L617.6 243.0L615.2 243.5L615.1 245.0L617.4 245.3L620.5 244.8L619.6 245.3L617.4 247.0L619.0 249.2L619.8 251.4L618.6 252.8L617.1 250.9L616.4 249.7L615.6 253.1ZM628.3 240.1L629.6 241.9L628.8 243.0L629.4 244.8L627.9 244.3L627.7 241.8ZM628.6 248.7L630.6 248.5L632.8 249.2L632.6 250.1L629.1 249.7ZM633.5 246.0L635.0 245.0L636.9 245.0L638.7 245.3L639.2 248.2L641.1 249.5L642.6 247.7L644.3 246.3L646.0 246.8L648.4 247.9L650.4 248.2L653.3 249.4L656.5 250.4L658.5 252.2L658.7 253.1L661.5 254.1L662.1 255.0L660.4 255.5L660.9 257.2L662.4 257.5L663.4 259.2L664.4 259.2L665.1 261.2L667.0 261.2L665.6 261.9L663.7 261.2L662.1 260.9L660.7 259.9L658.8 257.5L656.6 256.6L655.3 257.2L654.3 257.8L654.4 259.0L653.1 259.5L650.4 259.2L648.5 257.5L646.8 258.0L645.5 257.8L646.5 256.1L646.0 254.3L645.2 252.9L641.4 251.4L639.2 250.6L638.1 249.7L636.5 250.7L635.2 248.5L637.0 248.0L638.2 248.0L636.9 247.5L635.5 247.5L634.0 246.3ZM662.7 253.3L664.8 253.3L666.4 253.1L668.1 252.1L669.3 250.9L669.5 252.1L668.1 253.6L665.9 254.4L663.9 254.1ZM604.1 281.3L604.4 284.2L603.7 285.0L604.8 288.2L605.3 290.8L606.3 293.7L606.5 295.3L607.6 297.2L607.6 300.1L606.6 300.6L606.5 301.8L608.1 302.6L610.3 302.9L612.5 302.4L614.7 301.1L617.1 300.9L621.0 301.1L622.0 299.6L623.5 299.1L625.4 298.2L626.9 298.4L629.9 297.4L634.0 297.0L635.7 297.9L637.9 298.0L639.1 298.9L640.6 302.1L641.8 302.8L642.6 301.4L644.0 300.6L645.2 299.7L644.5 301.4L644.5 303.1L645.5 304.0L646.2 301.9L648.0 304.8L648.5 307.0L649.7 308.0L651.4 308.7L653.3 308.9L654.8 309.4L656.3 308.2L657.1 309.0L658.7 309.5L659.5 309.9L661.2 308.4L662.7 307.7L664.8 307.5L665.6 307.0L665.6 305.0L666.8 303.3L667.3 301.6L668.3 299.7L669.8 298.0L670.7 296.2L670.8 293.5L671.7 292.1L670.8 289.9L671.0 287.9L670.0 286.6L668.3 284.5L667.1 283.7L666.4 282.0L665.1 281.5L664.4 279.6L663.4 278.6L661.4 276.8L659.5 275.9L658.8 273.5L657.8 271.3L657.7 269.2L656.5 267.8L654.8 267.3L654.6 265.4L653.6 263.7L652.9 261.9L652.2 262.9L651.6 265.6L651.4 268.5L651.1 271.5L649.7 273.5L647.5 273.2L645.7 272.2L643.6 270.7L641.8 269.3L640.9 268.6L641.9 267.0L643.1 264.4L641.9 263.9L640.4 264.6L637.9 263.7L636.2 263.4L634.8 262.9L632.6 264.8L632.0 266.1L631.0 268.1L631.0 269.3L628.8 269.2L628.1 268.0L626.6 267.1L625.0 268.0L623.5 269.2L622.3 271.3L620.6 273.0L618.8 273.4L618.6 274.6L616.8 276.8L614.6 277.6L612.9 278.1L610.5 278.8L609.3 278.8L607.3 280.1L605.8 280.6ZM656.6 312.6L659.5 313.3L662.7 312.9L662.7 314.9L662.1 316.8L660.5 317.3L659.0 317.5L657.8 316.0L657.1 314.4ZM704.0 301.9L705.5 302.9L707.0 304.6L708.4 306.7L709.4 307.3L711.2 308.0L713.8 307.5L713.4 309.0L712.8 310.0L711.2 310.9L710.9 311.9L709.5 313.6L708.2 314.1L707.3 313.6L708.2 312.2L707.2 311.1L705.8 310.0L707.2 308.7L707.3 306.8L706.7 305.5L705.8 305.0L704.6 303.3ZM704.0 312.2L704.8 313.6L706.5 313.8L706.7 314.6L705.3 316.3L704.1 317.5L703.3 318.0L701.8 318.7L701.1 320.4L700.4 321.4L699.1 322.2L696.7 322.6L694.5 322.0L693.5 321.4L694.2 320.0L696.5 318.3L698.6 317.5L700.2 316.5L701.8 314.8L702.9 313.1ZM107.9 376.0L124.8 376.3L136.6 376.6L145.1 374.8L155.2 374.3L162.0 373.3L168.7 371.7L175.5 370.7L182.3 369.7L192.4 369.4L202.5 368.5L212.7 368.9L219.4 368.9L226.2 369.7L236.3 370.2L243.1 368.0L249.9 367.7L260.0 367.2L270.1 367.5L276.9 368.2L283.7 367.5L288.7 364.6L290.4 362.1L293.8 360.4L297.2 358.7L298.9 356.2L302.2 354.5L307.3 352.8L312.4 351.3L315.8 350.9L314.1 353.0L309.9 355.3L307.3 357.9L304.8 361.3L308.2 363.8L309.0 367.2L309.0 370.6L303.9 373.1L310.7 374.8L327.6 375.6L337.7 376.1L351.3 375.3L358.0 373.9L364.8 371.9L368.2 370.6L378.3 368.5L386.8 366.3L391.8 364.6L398.6 363.8L405.3 363.5L412.1 362.1L420.6 362.4L429.0 362.1L437.5 362.3L445.9 362.4L454.4 362.8L462.8 361.8L471.2 361.3L478.0 361.4L483.1 359.4L489.8 357.9L496.6 356.7L505.1 355.3L510.1 357.0L516.9 357.9L525.3 358.2L530.4 360.4L533.8 362.9L538.9 361.3L543.9 359.6L550.7 357.0L560.8 356.4L571.0 355.7L581.1 355.0L591.2 355.8L601.4 356.0L611.5 357.0L621.7 356.4L631.8 355.7L641.9 355.7L652.1 356.7L658.8 358.0L665.6 359.6L674.0 360.4L682.5 362.1L689.3 363.1L696.0 363.8L699.4 364.8L697.7 366.5L692.6 368.9L689.3 370.6L686.7 372.7L688.4 374.8L692.6 375.6L699.4 376.0L707.9 376.1L716.3 376.0L724.8 376.0L724.8 399.3L99.5 399.3L99.5 376.0ZM711.6 273.4L713.3 273.0L714.1 274.1L713.3 274.7L711.9 274.4ZM713.9 271.9L716.3 271.2L716.1 272.2L714.4 272.4ZM689.4 277.9L691.0 278.4L694.3 281.3L693.5 281.7L691.0 280.1L689.6 278.6ZM148.6 209.7L150.0 210.3L150.5 210.8L149.1 211.9L148.5 211.0ZM147.3 208.3L148.5 208.6L147.8 209.0ZM144.6 207.3L145.6 207.6L144.9 207.8ZM204.2 113.7L212.7 113.8L216.1 115.0L211.0 115.7L205.1 115.2ZM221.1 112.1L229.6 111.8L233.0 112.8L226.2 113.3ZM236.3 110.3L243.1 110.5L243.9 112.0L238.0 112.5ZM246.5 111.1L250.7 111.6L249.0 112.7L245.6 112.1ZM249.9 116.0L254.1 116.2L254.1 117.2L249.9 117.4ZM275.2 119.1L281.1 119.4L280.3 120.6L276.1 120.4ZM281.1 128.9L283.7 129.2L282.8 130.1ZM222.8 110.6L226.2 111.0L224.5 111.6ZM459.6 173.5L461.4 174.2L464.8 174.3L466.7 173.3L468.7 172.8L471.6 172.8L474.5 174.0L476.8 174.7L480.4 174.5L482.4 173.7L482.2 171.8L480.2 171.0L477.5 168.9L475.5 168.3L474.1 167.4L472.1 167.2L470.2 168.6L468.7 168.4L467.0 167.1L468.4 166.2L465.7 165.6L464.0 165.0L462.8 166.4L462.1 167.2L460.6 168.8L460.3 170.5L459.1 171.6L459.4 172.8ZM95.2 125.7L99.5 125.7L105.4 126.5L107.9 127.4L111.3 128.2L114.7 129.6L118.0 130.2L122.3 131.2L125.3 132.1L124.0 133.3L120.6 133.6L119.7 135.1L117.2 134.8L113.0 134.3L109.6 133.3L106.2 134.0L103.7 134.5L105.4 135.6L105.7 136.8L106.9 137.7L105.4 138.3L102.8 138.2L98.6 139.4L91.0 139.0L91.0 125.7ZM95.6 301.9L97.1 302.9L98.6 304.6L100.0 306.7L101.0 307.3L102.8 308.0L105.4 307.5L105.0 309.0L104.4 310.0L102.8 310.9L102.5 311.9L101.1 313.6L99.8 314.1L98.9 313.6L99.8 312.2L98.8 311.1L97.4 310.0L98.8 308.7L98.9 306.8L98.3 305.5L97.4 305.0L96.2 303.3ZM103.2 273.4L104.9 273.0L105.7 274.1L104.9 274.7L103.5 274.4ZM105.5 271.9L107.9 271.2L107.7 272.2L106.0 272.4Z" fill="none" stroke="#000" stroke-width="0.85" stroke-linejoin="round"/>
<path d="M200.9 133.6L203.4 131.8L207.6 130.9L211.8 131.8L209.3 133.4L204.2 134.1ZM205.1 140.2L211.0 140.4L216.1 140.5L221.1 139.4L227.0 137.7L222.8 137.8L217.8 138.7L212.7 139.4L207.6 139.4ZM247.8 158.5L249.4 157.9L246.8 153.2L244.8 153.7L246.5 156.3Z" fill="none" stroke="#000" stroke-width="0.6" stroke-linejoin="round"/>
<path d="M173.8 126.2L173.8 141.9L177.2 141.9L179.6 143.8L183.1 142.7L186.7 145.1L189.4 148.1L192.4 149.3M203.9 161.0L251.2 161.0L251.2 160.3L252.2 161.5L260.7 162.7L263.4 162.2L268.8 164.5L269.3 165.4L271.0 166.1L272.8 167.2L272.7 171.1L271.7 172.8L276.9 172.0L278.6 171.3L278.3 170.3L282.8 169.3L285.9 167.8L291.3 167.8L292.6 167.1L293.8 164.9L295.2 163.7L297.2 163.9L297.5 166.6L298.9 167.9M214.2 188.9L218.3 188.5L224.5 190.9L229.2 190.9L229.2 190.1L232.1 190.1L235.5 193.8L237.9 194.8L239.0 193.4L241.4 193.4L243.9 197.3L247.8 200.0M256.3 219.3L256.6 216.8L258.3 216.8L258.3 214.6L261.4 213.7L262.9 212.5M261.4 213.7L261.4 216.9L263.0 217.3M263.0 217.3L261.4 219.1L261.0 219.5L259.8 220.5M261.0 219.5L262.5 220.1L263.7 220.3L263.9 221.3M263.9 221.3L265.6 221.3L267.3 220.1L268.6 218.8L271.5 218.5M267.3 225.0L270.6 225.4M272.0 230.1L272.0 228.4L272.5 227.6M280.4 231.6L281.3 229.3M290.1 225.0L289.7 229.6L293.6 232.0L298.2 233.3L297.5 236.2L298.4 238.2L298.5 240.9L299.0 241.8M278.9 241.4L281.3 243.1L284.8 244.0M284.8 244.0L287.7 246.0L289.7 247.9L293.6 248.4L294.0 250.9M294.0 250.9L294.8 245.7L294.5 242.8L293.8 241.8L295.2 240.9L298.5 240.9M299.0 241.8L303.6 241.3L303.9 239.6L306.0 237.0L309.0 236.2L309.5 235.0M309.5 235.0L308.3 233.8L310.4 229.3M309.5 235.0L310.9 239.2L311.0 241.6L313.2 241.6L316.6 240.6L320.8 240.4L322.7 240.3L324.9 236.9M316.6 240.6L315.4 233.8M320.8 240.4L320.8 234.2M276.4 249.5L278.6 252.2L279.9 249.5L284.8 244.0M294.0 250.9L288.9 252.8L287.2 256.1L288.7 259.7L293.0 259.9L292.8 262.4L294.6 262.4M294.6 262.4L296.0 265.1L295.0 269.0L294.8 270.3L295.7 271.7L294.5 273.5L293.1 274.7M294.6 262.4L297.2 261.9L301.7 260.4L302.2 264.1L307.5 266.4L309.9 267.1L310.4 271.3L313.7 271.3L314.6 273.5L313.7 277.3M313.7 277.3L312.2 276.4L307.7 276.9L306.1 281.3L301.1 281.1L298.7 282.2M298.7 282.2L296.8 280.1L295.8 275.9L294.5 273.5M298.7 282.2L296.5 285.2L296.2 289.4L294.3 295.2L293.8 299.6L293.0 304.6L291.8 309.5L290.9 313.1L290.8 318.2L289.9 322.2L288.2 327.5L289.9 329.5L289.9 331.2L295.5 331.7M306.1 281.3L308.2 283.5L313.2 286.9L313.7 289.9L317.0 290.3L319.8 287.1M313.7 277.3L314.4 281.1L318.0 282.0L318.5 284.4L319.8 287.1L321.2 289.6L317.8 291.6L314.8 294.8M314.8 294.8L313.7 298.7L313.4 301.1M314.8 294.8L317.5 296.0L318.1 295.9L321.9 298.9L321.9 300.8M408.4 184.5L409.2 187.7L409.2 188.9L405.8 191.6L397.4 195.3L397.4 197.7M397.4 197.0L389.8 197.0M397.4 197.7L397.4 200.0L391.8 199.9L391.8 204.1L390.1 207.8L383.4 207.8M397.4 197.7L404.0 201.6L414.1 208.3L415.1 209.5L417.5 211.7L419.4 211.4L421.7 210.7L428.3 203.7L432.3 204.1M426.3 181.4L426.1 185.3L424.8 186.5L427.5 189.6L428.2 192.6M428.2 192.6L429.0 201.6L432.3 204.1M428.2 192.6L431.5 187.9M454.4 190.4L454.4 206.6M454.4 206.6L454.4 210.0L452.7 210.8L452.7 210.0L439.0 204.3L432.3 204.1M454.4 206.6L474.5 206.6M404.0 201.6L401.1 201.7L402.8 216.3L392.7 217.8L391.5 219.1L384.6 216.3M391.5 219.1L392.8 222.8L388.9 222.5L386.8 223.0L383.9 222.8M392.8 222.8L394.0 223.7L398.1 225.2L398.7 226.4L398.2 229.8L399.4 236.4M389.8 228.6L393.2 226.9L394.0 229.1L392.7 232.0M402.8 226.2L407.4 218.3L412.8 218.5L414.3 217.9L418.2 217.4L419.4 215.4L419.4 211.4M398.1 225.2L402.8 226.2L407.4 227.6L407.5 225.2L412.1 225.2L413.6 225.2L416.2 223.7L416.7 223.5M406.9 235.2L407.4 230.4L407.5 227.7M412.1 225.2L412.9 230.3L414.1 233.5M413.6 225.2L414.8 228.6L414.8 233.3M416.7 233.2L416.7 228.6L418.2 224.0L416.7 223.5M418.2 224.0L419.4 220.6L423.9 221.8L428.3 222.0L432.9 221.2L435.8 221.7M435.8 221.7L435.1 219.5L438.3 208.6L439.0 204.3M452.7 210.8L452.3 217.3L449.3 221.8L450.8 225.2L450.1 225.7M450.1 225.7L444.2 228.6L438.3 231.1M438.3 231.1L436.6 226.9L438.3 226.9L436.4 223.0L435.8 221.7M435.8 221.7L434.6 225.7L432.2 231.8L429.5 232.6L426.5 235.9M438.3 231.1L436.6 235.4L439.0 239.4L439.5 240.1M428.3 239.7L431.2 240.1L434.6 240.1L439.5 240.1M450.1 225.7L452.0 229.1L454.4 231.1L458.4 235.4M458.4 235.4L450.8 235.9L444.9 235.0L443.5 237.9L443.4 240.4L439.5 240.1M439.5 240.1L442.2 245.5L439.5 247.5L439.0 250.2L435.8 251.6L432.9 252.2M434.6 240.1L436.6 244.0L435.6 247.0L433.2 247.0L430.7 250.2M477.3 213.4L473.8 219.6L476.2 218.6L479.7 219.3L484.1 222.7M473.8 219.6L471.8 226.2L469.9 229.3L467.9 230.6L471.8 234.5M484.4 225.2L486.5 228.6L493.2 230.3L488.2 235.4L482.7 237.2M471.8 234.5L472.9 236.2L477.2 237.7L482.7 237.2M482.7 237.2L481.4 239.1L481.4 246.7M458.4 235.4L464.2 237.9L469.4 236.7L471.8 234.5M469.4 236.7L471.2 241.1L469.6 243.6L469.6 245.5M469.6 245.5L475.6 248.9L478.3 251.7M464.2 237.9L462.1 246.2L464.2 245.5L469.6 245.5M462.1 246.2L461.3 248.5L461.8 251.2L463.8 257.7M463.8 257.7L460.8 258.0L460.1 262.4L462.0 264.4L458.4 263.4L453.3 262.9L452.5 262.2L449.3 262.4M449.3 262.4L449.3 260.5L448.6 256.1L445.1 255.6L441.8 257.5L440.3 254.8L432.9 254.1M431.9 273.0L434.9 273.2L443.4 273.2L447.6 274.2L451.5 273.5M449.3 262.4L452.7 265.8L449.3 265.8L449.3 271.2L451.5 273.5M447.6 274.2L447.6 281.0L445.9 281.0L445.9 285.7M445.9 285.7L445.9 291.8L440.0 292.1M445.9 285.7L446.7 289.1L450.8 286.7L455.4 286.9L457.6 283.9L461.8 281.3M451.5 273.5L454.9 273.9L456.4 276.9L458.6 278.4L461.8 281.3M454.9 273.9L458.1 272.5L461.4 270.5L463.5 270.2M463.5 270.2L467.7 267.0L468.2 260.0L463.8 257.7M470.6 262.9L480.4 261.4M468.2 260.0L470.6 262.9L471.8 268.5L471.6 272.5L468.2 267.5L467.7 267.0M463.5 270.2L467.7 272.0L467.9 276.8L466.7 279.8L465.0 281.7M461.8 281.3L465.0 281.7L466.2 286.1L467.7 289.3M457.7 293.8L459.4 292.3L461.6 292.8L461.8 294.5L459.4 295.5L457.7 293.8M397.1 172.8L400.9 173.0L400.4 174.5L400.3 176.9L399.6 178.2L400.3 179.6L399.6 180.9M409.1 170.5L413.3 171.5L417.5 172.1M416.3 157.4L419.2 159.5L421.9 160.1L422.9 160.1L426.0 161.0L424.9 163.4L423.8 163.5L422.2 165.6L423.9 166.2L423.9 169.1L424.8 169.8M417.8 156.9L421.9 157.3L422.4 157.9L422.9 160.1M423.9 153.4L423.9 155.6L422.2 156.3L422.4 157.9M426.6 151.0L428.8 151.2M436.3 152.7L436.8 154.9L437.1 157.6L437.5 157.6M432.5 158.8L435.4 157.9L437.1 157.6M432.5 158.8L435.4 161.3L434.1 163.5L429.0 163.5L428.2 163.4L424.9 163.4M428.2 163.5L429.8 164.7L427.3 166.4L423.9 166.2M429.8 164.7L433.1 164.4L435.3 165.2L435.1 166.4M435.4 161.3L437.5 161.0L440.7 161.7L441.0 162.7L440.0 164.4L439.1 164.9L435.3 165.2M435.1 166.9L438.3 165.7L440.0 165.2M437.5 157.6L440.2 159.0L443.9 160.1M440.7 161.7L443.9 160.1L450.3 160.8M450.3 160.8L452.7 158.6L451.8 155.9L452.5 153.9L451.8 152.5M445.2 151.9L450.6 151.9L451.8 152.5M450.6 151.9L450.6 150.9L448.1 150.5M447.8 149.0L452.7 148.7L457.1 149.7M451.8 152.5L455.7 152.2L457.1 149.7L459.6 149.0M453.2 145.9L458.4 146.5M459.4 143.2L458.4 146.5L459.6 149.0M459.6 149.0L465.8 152.9L465.8 155.8M452.0 156.6L457.7 156.6L463.6 157.1L465.8 155.8M465.8 155.8L470.2 157.1L471.9 158.3L476.3 159.5L479.7 160.0L479.2 163.0L476.7 164.2M450.3 160.8L449.6 162.0L454.2 163.2L457.1 162.3L459.8 162.5L461.4 163.7L462.8 165.4L462.1 167.2M457.1 162.3L459.8 166.9M441.0 162.7L443.9 163.0L449.6 162.0M449.6 162.0L447.6 165.6L444.2 166.1L441.7 166.2L440.0 165.2M438.6 167.4L444.2 167.8L445.2 170.3L443.4 172.1M447.6 165.6L446.4 166.4L450.1 168.6L451.0 169.8L455.2 170.1L457.7 169.3L460.4 169.8M450.1 168.6L451.0 171.1L450.0 172.3L446.9 172.8L444.9 173.0M450.0 172.3L452.7 173.7L456.2 174.0L457.1 173.2L459.4 172.8M445.9 176.7L447.6 174.8L450.0 174.3L452.7 173.7M456.2 174.0L456.5 174.7M446.9 172.8L446.7 174.5L447.6 174.8M482.2 173.7L485.6 174.3L487.8 176.7L487.3 180.9M473.3 181.9L474.1 181.6L477.7 181.8L483.6 181.1L487.3 180.9M483.6 181.1L481.4 185.7L477.7 187.4M477.7 187.4L472.9 188.9L472.6 187.5L474.0 186.0L472.9 185.3M487.3 180.9L489.0 183.3L489.8 184.7L488.8 186.3L490.0 188.0L492.7 189.2L493.2 192.3L494.1 193.3M477.7 187.4L478.3 189.4L483.1 191.2L487.6 194.5L490.7 194.6L492.7 195.6M490.7 194.6L492.7 192.9L493.2 193.1M478.3 189.4L474.6 190.6L476.3 192.3L475.5 193.4L472.9 194.5L471.2 194.1M469.9 190.9L471.1 193.9M484.4 216.1L486.8 214.4L491.5 215.1L494.7 212.9L500.0 211.7L506.1 210.0L505.1 205.4L500.8 205.1L499.1 202.7M500.0 211.7L501.8 215.7M505.9 204.1L507.4 201.7M503.2 180.8L505.1 179.6L508.4 179.2L511.8 180.8L515.5 182.1L515.2 185.5L514.3 187.5L515.2 190.6L516.4 190.7L518.2 194.1L516.0 194.8L516.9 196.5L519.1 197.8L518.1 199.0L516.0 201.4M487.8 176.7L489.0 177.9L490.7 178.1L493.2 178.9L494.7 178.9M515.5 182.1L517.7 184.3L521.1 182.5L524.5 180.6L527.0 181.3L530.4 180.3L532.9 179.7L538.7 180.9M538.7 180.9L532.9 182.1L532.4 185.5L530.4 186.3L529.6 188.0L529.2 189.9L525.2 190.9L524.1 193.4L518.2 194.1M539.7 188.5L538.0 189.0L538.3 191.4L536.3 193.3L533.6 196.6L531.1 197.2L529.7 199.4L530.9 200.4L530.4 202.9L528.0 203.9M543.6 183.8L545.6 185.8L545.3 187.2L546.5 188.9L545.1 190.6L548.1 192.4L549.2 192.8L553.0 194.3L555.8 195.5L558.3 196.5L561.0 196.6L562.2 197.7L567.6 196.8L571.0 194.8L574.3 194.1L576.5 196.1M547.5 195.1L550.7 196.6L554.1 197.7L557.4 198.8L561.0 199.2L561.0 196.6M561.0 199.2L562.5 199.9L562.0 199.4L561.2 201.7L562.3 205.3L562.5 206.8M562.5 199.9L567.6 201.2L568.3 202.9L567.2 205.1L568.8 207.8M576.5 196.1L576.0 198.0L572.8 199.9L572.0 201.9L569.8 203.1L569.4 205.9L568.8 207.8M576.5 196.1L578.6 197.2L578.9 200.0L577.2 201.9L577.2 203.6L580.3 206.5L583.1 207.6L584.1 205.9L586.2 205.8L590.1 204.4L592.4 205.3L592.4 206.6L594.5 207.3M578.7 226.9L579.7 223.0L578.6 220.1L578.4 217.6L576.7 212.5L578.2 210.5L581.3 209.3L583.1 207.6M581.3 209.3L583.3 210.7L582.8 214.2L585.5 213.5L589.0 214.4L590.4 219.5L586.2 219.6L585.5 223.2M581.3 232.8L583.0 234.2L584.6 233.3M584.6 205.9L587.0 208.8L588.5 210.7L589.9 212.4L592.3 214.9L593.8 217.8L593.8 219.3L590.4 219.5M593.8 219.3L593.8 223.0L591.2 225.2L589.5 226.1L588.7 226.2M560.5 160.7L565.4 166.9L574.3 171.6L581.1 172.0L589.5 173.5L598.7 171.5L601.0 169.9L600.9 167.8L605.6 167.1L610.5 165.0L614.6 164.9L611.5 162.7L609.3 159.6M560.5 160.7L564.2 158.8L567.6 158.1L576.5 159.8L578.1 158.6L577.7 155.9L584.5 156.8L587.9 159.0L594.6 160.5L601.4 160.1L605.4 158.8L609.3 159.6M609.3 159.6L611.4 160.1L614.4 159.0L616.1 155.2L620.8 153.4L625.0 154.6L627.6 159.6L632.8 161.3L633.5 163.2L638.9 162.2L637.2 167.6L633.8 168.1L633.5 171.3L632.8 172.1M559.6 160.8L556.9 164.0L552.4 164.0L551.2 166.9L547.5 167.8L547.6 172.5L542.1 174.3L536.7 177.2L538.7 180.9L543.6 183.8M622.2 176.4L625.4 173.8L628.4 172.8L631.1 172.1L632.8 172.1M626.2 179.7L627.6 179.1L629.1 178.6M491.0 161.2L492.4 158.6L498.0 156.4L506.2 158.5L515.9 157.9L515.2 154.4L516.9 152.5L523.0 151.5L528.7 150.2L536.1 153.4L541.4 152.2L543.9 154.2L547.3 157.6L553.0 157.6L555.9 159.6L558.5 159.6L559.6 160.8M501.2 173.3L503.5 172.3L506.7 174.0L506.7 167.8L511.0 166.7L515.2 168.8L516.9 170.3L522.0 169.9L523.8 171.3L523.6 173.0L527.0 174.5L528.7 173.7L532.1 172.3L537.2 171.1L539.9 171.3L545.9 171.5L547.6 172.5M479.7 170.5L483.8 170.8L486.3 171.8L489.0 172.0L490.5 173.0L493.1 174.2M482.2 173.7L484.1 173.5L485.6 174.3L488.2 174.0L490.5 173.0M488.2 174.0L489.0 175.2L490.7 178.1M506.7 174.0L509.8 173.3L513.5 173.2L516.0 174.0L517.6 176.2L520.6 178.1L524.5 180.6M530.4 177.0L534.6 177.4L536.7 177.2M531.2 174.5L533.8 174.5L535.5 175.4L532.9 175.9L530.4 177.0L527.9 177.0L526.2 180.4M459.1 141.6L462.3 140.4L465.3 137.7L462.0 135.6L462.8 133.1L461.3 131.4L462.3 129.2L460.1 128.0L460.8 127.0M453.0 132.6L452.2 130.6L451.0 128.0L446.9 127.0M446.9 127.0L450.0 127.7L454.2 127.9L456.7 125.7L459.8 125.7L460.8 127.0L464.3 126.2M446.9 127.0L442.5 128.2L439.1 129.7L436.6 132.1L434.9 134.6L432.4 136.5L432.7 139.9L433.7 141.2L431.5 142.6L431.0 143.9M597.3 240.4L599.7 242.1L602.2 241.3L604.8 241.4L606.1 239.7L607.3 237.0L609.0 236.5L610.8 236.7M650.4 248.2L650.4 259.2M623.2 259.2L623.4 260.5M627.6 123.0L624.2 125.5L620.0 128.7L621.7 132.3L625.0 135.0L631.8 138.2L640.9 141.0M602.6 143.1L608.1 142.1L615.1 140.5L623.4 139.4L631.0 138.7M580.9 123.0L587.9 121.1L594.6 119.4L603.9 115.5M556.9 125.8L560.0 129.7L564.2 133.1L567.6 135.5M522.8 128.9L523.6 132.3L524.1 134.5L527.9 136.5L530.9 137.8M530.9 137.8L537.2 139.9L543.9 141.6L550.7 144.9L555.1 147.6M501.0 128.9L504.2 130.9L507.9 133.1M480.0 134.5L483.9 136.5L488.2 139.0M483.1 145.9L489.0 148.3L494.9 150.3M536.0 121.4L539.7 125.5L544.8 129.4M293.8 249.7L300.6 249.4L303.9 250.1L310.7 249.2L317.5 248.0L324.2 246.8L327.6 246.0M185.0 128.0L190.7 130.6L195.8 132.6L201.0 134.5" fill="none" stroke="#000" stroke-width="0.8" stroke-linejoin="round"/>
</g>
<rect x="100.5" y="97.5" width="620" height="299" fill="none" stroke="#000" stroke-width="1"/>
<rect x="100.5" y="468.5" width="620" height="31" fill="url(#jet)" stroke="#000" stroke-width="1"/>
<line x1="169.60" y1="499" x2="169.60" y2="493.4" stroke="#000" stroke-width="1"/>
<line x1="238.70" y1="499" x2="238.70" y2="493.4" stroke="#000" stroke-width="1"/>
<line x1="307.80" y1="499" x2="307.80" y2="493.4" stroke="#000" stroke-width="1"/>
<line x1="376.90" y1="499" x2="376.90" y2="493.4" stroke="#000" stroke-width="1"/>
<line x1="446.00" y1="499" x2="446.00" y2="493.4" stroke="#000" stroke-width="1"/>
<line x1="515.10" y1="499" x2="515.10" y2="493.4" stroke="#000" stroke-width="1"/>
<line x1="584.20" y1="499" x2="584.20" y2="493.4" stroke="#000" stroke-width="1"/>
<line x1="653.30" y1="499" x2="653.30" y2="493.4" stroke="#000" stroke-width="1"/>
</svg>
<div class="ti" style="left:122.58px;transform:scaleX(1.084)">Nequick-Galileo VTEC :</div>
<div class="ti" style="left:358.9px;transform:scaleX(1.106)">00 Hour of 164 DOY</div>
<div class="ti" style="left:566.2px;transform:scaleX(1.174)">[2019/06/13]</div>
<div class="tl" style="left:168.40px">0.4</div>
<div class="tl" style="left:237.50px">0.8</div>
<div class="tl" style="left:306.60px">1.2</div>
<div class="tl" style="left:375.70px">1.6</div>
<div class="tl" style="left:444.80px">2.0</div>
<div class="tl" style="left:513.90px">2.4</div>
<div class="tl" style="left:583.00px">2.8</div>
<div class="tl" style="left:652.10px">3.2</div>
<div class="t" id="vtec">VTEC</div>
<div class="t" id="exp">1e17</div>
</body></html>
